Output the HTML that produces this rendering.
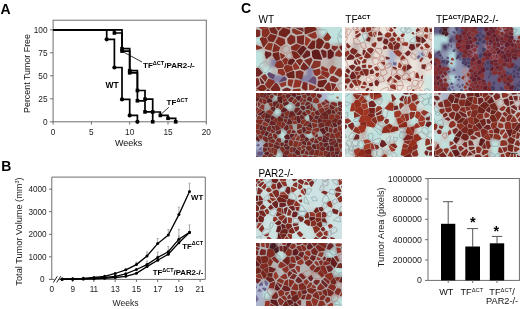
<!DOCTYPE html>
<html><head><meta charset="utf-8"><style>
html,body{margin:0;padding:0;background:#fff;}
body{width:520px;height:309px;overflow:hidden;position:relative;font-family:"Liberation Sans", sans-serif;}
svg{position:absolute;left:0;top:0;}
#main{will-change:transform;}
.im{position:absolute;overflow:hidden;}
</style></head><body>
<div class="im" style="left:256px;top:26.7px;width:86.4px;height:64.0px"><svg width="86.4" height="64.0" viewBox="0 0 86.4 64.0" style="position:absolute;left:0;top:0"><defs><filter id="bl0" x="-20%" y="-20%" width="140%" height="140%"><feGaussianBlur stdDeviation="1.8"/></filter><filter id="cb0" x="-5%" y="-5%" width="110%" height="110%"><feGaussianBlur stdDeviation="0.75"/></filter></defs><g filter="url(#bl0)"><rect x="-12.0" y="-12.0" width="12.0" height="12.0" fill="#bebebc"/><rect x="0.0" y="-12.0" width="7.8" height="12.0" fill="#bebebc"/><rect x="7.2" y="-12.0" width="7.8" height="12.0" fill="#b6a5a0"/><rect x="14.4" y="-12.0" width="7.8" height="12.0" fill="#b6a5a0"/><rect x="21.6" y="-12.0" width="7.8" height="12.0" fill="#b6a5a0"/><rect x="28.8" y="-12.0" width="7.8" height="12.0" fill="#b6a5a0"/><rect x="36.0" y="-12.0" width="7.8" height="12.0" fill="#bebebc"/><rect x="43.2" y="-12.0" width="7.8" height="12.0" fill="#bebebc"/><rect x="50.4" y="-12.0" width="7.8" height="12.0" fill="#b6a5a0"/><rect x="57.6" y="-12.0" width="7.8" height="12.0" fill="#c3b6b2"/><rect x="64.8" y="-12.0" width="7.8" height="12.0" fill="#c0e2de"/><rect x="72.0" y="-12.0" width="7.8" height="12.0" fill="#c0e2de"/><rect x="79.2" y="-12.0" width="7.8" height="12.0" fill="#c0e2de"/><rect x="86.4" y="-12.0" width="12.0" height="12.0" fill="#c0e2de"/><rect x="-12.0" y="0.0" width="12.0" height="8.6" fill="#bebebc"/><rect x="0.0" y="0.0" width="7.8" height="8.6" fill="#bebebc"/><rect x="7.2" y="0.0" width="7.8" height="8.6" fill="#b6a5a0"/><rect x="14.4" y="0.0" width="7.8" height="8.6" fill="#b6a5a0"/><rect x="21.6" y="0.0" width="7.8" height="8.6" fill="#b6a5a0"/><rect x="28.8" y="0.0" width="7.8" height="8.6" fill="#b6a5a0"/><rect x="36.0" y="0.0" width="7.8" height="8.6" fill="#bebebc"/><rect x="43.2" y="0.0" width="7.8" height="8.6" fill="#bebebc"/><rect x="50.4" y="0.0" width="7.8" height="8.6" fill="#b6a5a0"/><rect x="57.6" y="0.0" width="7.8" height="8.6" fill="#c3b6b2"/><rect x="64.8" y="0.0" width="7.8" height="8.6" fill="#c0e2de"/><rect x="72.0" y="0.0" width="7.8" height="8.6" fill="#c0e2de"/><rect x="79.2" y="0.0" width="7.8" height="8.6" fill="#c0e2de"/><rect x="86.4" y="0.0" width="12.0" height="8.6" fill="#c0e2de"/><rect x="-12.0" y="8.0" width="12.0" height="8.6" fill="#c0e2de"/><rect x="0.0" y="8.0" width="7.8" height="8.6" fill="#c0e2de"/><rect x="7.2" y="8.0" width="7.8" height="8.6" fill="#b6a5a0"/><rect x="14.4" y="8.0" width="7.8" height="8.6" fill="#b6a5a0"/><rect x="21.6" y="8.0" width="7.8" height="8.6" fill="#b6a5a0"/><rect x="28.8" y="8.0" width="7.8" height="8.6" fill="#c3b6b2"/><rect x="36.0" y="8.0" width="7.8" height="8.6" fill="#b6a5a0"/><rect x="43.2" y="8.0" width="7.8" height="8.6" fill="#c3b6b2"/><rect x="50.4" y="8.0" width="7.8" height="8.6" fill="#c3b6b2"/><rect x="57.6" y="8.0" width="7.8" height="8.6" fill="#b6a5a0"/><rect x="64.8" y="8.0" width="7.8" height="8.6" fill="#bebebc"/><rect x="72.0" y="8.0" width="7.8" height="8.6" fill="#c0e2de"/><rect x="79.2" y="8.0" width="7.8" height="8.6" fill="#c0e2de"/><rect x="86.4" y="8.0" width="12.0" height="8.6" fill="#c0e2de"/><rect x="-12.0" y="16.0" width="12.0" height="8.6" fill="#bebebc"/><rect x="0.0" y="16.0" width="7.8" height="8.6" fill="#bebebc"/><rect x="7.2" y="16.0" width="7.8" height="8.6" fill="#c3b6b2"/><rect x="14.4" y="16.0" width="7.8" height="8.6" fill="#b6a5a0"/><rect x="21.6" y="16.0" width="7.8" height="8.6" fill="#b6a5a0"/><rect x="28.8" y="16.0" width="7.8" height="8.6" fill="#bebebc"/><rect x="36.0" y="16.0" width="7.8" height="8.6" fill="#b6a5a0"/><rect x="43.2" y="16.0" width="7.8" height="8.6" fill="#b6a5a0"/><rect x="50.4" y="16.0" width="7.8" height="8.6" fill="#b6a5a0"/><rect x="57.6" y="16.0" width="7.8" height="8.6" fill="#b6a5a0"/><rect x="64.8" y="16.0" width="7.8" height="8.6" fill="#c3b6b2"/><rect x="72.0" y="16.0" width="7.8" height="8.6" fill="#bebebc"/><rect x="79.2" y="16.0" width="7.8" height="8.6" fill="#b6a5a0"/><rect x="86.4" y="16.0" width="12.0" height="8.6" fill="#b6a5a0"/><rect x="-12.0" y="24.0" width="12.0" height="8.6" fill="#c0e2de"/><rect x="0.0" y="24.0" width="7.8" height="8.6" fill="#c0e2de"/><rect x="7.2" y="24.0" width="7.8" height="8.6" fill="#c3b6b2"/><rect x="14.4" y="24.0" width="7.8" height="8.6" fill="#b6a5a0"/><rect x="21.6" y="24.0" width="7.8" height="8.6" fill="#c3b6b2"/><rect x="28.8" y="24.0" width="7.8" height="8.6" fill="#bebebc"/><rect x="36.0" y="24.0" width="7.8" height="8.6" fill="#b6a5a0"/><rect x="43.2" y="24.0" width="7.8" height="8.6" fill="#b6a5a0"/><rect x="50.4" y="24.0" width="7.8" height="8.6" fill="#c3b6b2"/><rect x="57.6" y="24.0" width="7.8" height="8.6" fill="#b6a5a0"/><rect x="64.8" y="24.0" width="7.8" height="8.6" fill="#c3b6b2"/><rect x="72.0" y="24.0" width="7.8" height="8.6" fill="#b6a5a0"/><rect x="79.2" y="24.0" width="7.8" height="8.6" fill="#bebebc"/><rect x="86.4" y="24.0" width="12.0" height="8.6" fill="#bebebc"/><rect x="-12.0" y="32.0" width="12.0" height="8.6" fill="#c0e2de"/><rect x="0.0" y="32.0" width="7.8" height="8.6" fill="#c0e2de"/><rect x="7.2" y="32.0" width="7.8" height="8.6" fill="#bebebc"/><rect x="14.4" y="32.0" width="7.8" height="8.6" fill="#8782a5"/><rect x="21.6" y="32.0" width="7.8" height="8.6" fill="#b6a5a0"/><rect x="28.8" y="32.0" width="7.8" height="8.6" fill="#b6a5a0"/><rect x="36.0" y="32.0" width="7.8" height="8.6" fill="#c3b6b2"/><rect x="43.2" y="32.0" width="7.8" height="8.6" fill="#c3b6b2"/><rect x="50.4" y="32.0" width="7.8" height="8.6" fill="#bebebc"/><rect x="57.6" y="32.0" width="7.8" height="8.6" fill="#bebebc"/><rect x="64.8" y="32.0" width="7.8" height="8.6" fill="#c3b6b2"/><rect x="72.0" y="32.0" width="7.8" height="8.6" fill="#b6a5a0"/><rect x="79.2" y="32.0" width="7.8" height="8.6" fill="#bebebc"/><rect x="86.4" y="32.0" width="12.0" height="8.6" fill="#bebebc"/><rect x="-12.0" y="40.0" width="12.0" height="8.6" fill="#bebebc"/><rect x="0.0" y="40.0" width="7.8" height="8.6" fill="#bebebc"/><rect x="7.2" y="40.0" width="7.8" height="8.6" fill="#c0e2de"/><rect x="14.4" y="40.0" width="7.8" height="8.6" fill="#bebebc"/><rect x="21.6" y="40.0" width="7.8" height="8.6" fill="#c3b6b2"/><rect x="28.8" y="40.0" width="7.8" height="8.6" fill="#b6a5a0"/><rect x="36.0" y="40.0" width="7.8" height="8.6" fill="#c3b6b2"/><rect x="43.2" y="40.0" width="7.8" height="8.6" fill="#c3b6b2"/><rect x="50.4" y="40.0" width="7.8" height="8.6" fill="#8782a5"/><rect x="57.6" y="40.0" width="7.8" height="8.6" fill="#c3b6b2"/><rect x="64.8" y="40.0" width="7.8" height="8.6" fill="#b6a5a0"/><rect x="72.0" y="40.0" width="7.8" height="8.6" fill="#c3b6b2"/><rect x="79.2" y="40.0" width="7.8" height="8.6" fill="#bebebc"/><rect x="86.4" y="40.0" width="12.0" height="8.6" fill="#bebebc"/><rect x="-12.0" y="48.0" width="12.0" height="8.6" fill="#c3b6b2"/><rect x="0.0" y="48.0" width="7.8" height="8.6" fill="#c3b6b2"/><rect x="7.2" y="48.0" width="7.8" height="8.6" fill="#bebebc"/><rect x="14.4" y="48.0" width="7.8" height="8.6" fill="#8782a5"/><rect x="21.6" y="48.0" width="7.8" height="8.6" fill="#8782a5"/><rect x="28.8" y="48.0" width="7.8" height="8.6" fill="#c3b6b2"/><rect x="36.0" y="48.0" width="7.8" height="8.6" fill="#b6a5a0"/><rect x="43.2" y="48.0" width="7.8" height="8.6" fill="#8782a5"/><rect x="50.4" y="48.0" width="7.8" height="8.6" fill="#8782a5"/><rect x="57.6" y="48.0" width="7.8" height="8.6" fill="#c3b6b2"/><rect x="64.8" y="48.0" width="7.8" height="8.6" fill="#bebebc"/><rect x="72.0" y="48.0" width="7.8" height="8.6" fill="#bebebc"/><rect x="79.2" y="48.0" width="7.8" height="8.6" fill="#bebebc"/><rect x="86.4" y="48.0" width="12.0" height="8.6" fill="#bebebc"/><rect x="-12.0" y="56.0" width="12.0" height="8.6" fill="#b6a5a0"/><rect x="0.0" y="56.0" width="7.8" height="8.6" fill="#b6a5a0"/><rect x="7.2" y="56.0" width="7.8" height="8.6" fill="#b6a5a0"/><rect x="14.4" y="56.0" width="7.8" height="8.6" fill="#c3b6b2"/><rect x="21.6" y="56.0" width="7.8" height="8.6" fill="#bebebc"/><rect x="28.8" y="56.0" width="7.8" height="8.6" fill="#bebebc"/><rect x="36.0" y="56.0" width="7.8" height="8.6" fill="#c3b6b2"/><rect x="43.2" y="56.0" width="7.8" height="8.6" fill="#c3b6b2"/><rect x="50.4" y="56.0" width="7.8" height="8.6" fill="#c3b6b2"/><rect x="57.6" y="56.0" width="7.8" height="8.6" fill="#b6a5a0"/><rect x="64.8" y="56.0" width="7.8" height="8.6" fill="#b6a5a0"/><rect x="72.0" y="56.0" width="7.8" height="8.6" fill="#c3b6b2"/><rect x="79.2" y="56.0" width="7.8" height="8.6" fill="#bebebc"/><rect x="86.4" y="56.0" width="12.0" height="8.6" fill="#bebebc"/><rect x="-12.0" y="64.0" width="12.0" height="12.0" fill="#b6a5a0"/><rect x="0.0" y="64.0" width="7.8" height="12.0" fill="#b6a5a0"/><rect x="7.2" y="64.0" width="7.8" height="12.0" fill="#b6a5a0"/><rect x="14.4" y="64.0" width="7.8" height="12.0" fill="#c3b6b2"/><rect x="21.6" y="64.0" width="7.8" height="12.0" fill="#bebebc"/><rect x="28.8" y="64.0" width="7.8" height="12.0" fill="#bebebc"/><rect x="36.0" y="64.0" width="7.8" height="12.0" fill="#c3b6b2"/><rect x="43.2" y="64.0" width="7.8" height="12.0" fill="#c3b6b2"/><rect x="50.4" y="64.0" width="7.8" height="12.0" fill="#c3b6b2"/><rect x="57.6" y="64.0" width="7.8" height="12.0" fill="#b6a5a0"/><rect x="64.8" y="64.0" width="7.8" height="12.0" fill="#b6a5a0"/><rect x="72.0" y="64.0" width="7.8" height="12.0" fill="#c3b6b2"/><rect x="79.2" y="64.0" width="7.8" height="12.0" fill="#bebebc"/><rect x="86.4" y="64.0" width="12.0" height="12.0" fill="#bebebc"/></g><g filter="url(#cb0)" stroke-linejoin="round"><polygon points="14.7,39.9 9.6,34.5 4.6,36.7 3.2,39.7 8.2,45.7 9.9,45.9 12.1,43.6" fill="none" stroke="#8ca5aa" stroke-width="0.7"/><polygon points="30.2,18.3 26.1,21.0 25.0,24.0 29.8,26.2 33.4,23.6 33.6,23.0 32.9,20.4" fill="none" stroke="#b97870" stroke-width="0.7"/><polygon points="32.7,31.4 36.1,30.4 34.4,25.0 30.6,27.7 30.5,29.6" fill="none" stroke="#b97870" stroke-width="0.7"/><polygon points="70.9,4.4 70.9,4.3 69.7,2.7 61.5,2.8 61.2,3.7 62.9,9.8 66.0,11.0" fill="none" stroke="#8ca5aa" stroke-width="0.7"/><polygon points="86.6,0.9 87.4,1.3 87.4,-1.0 85.6,-1.0" fill="none" stroke="#8ca5aa" stroke-width="0.7"/><polygon points="82.0,8.0 86.9,9.1 87.4,8.6 87.4,2.4 86.2,1.9 82.0,7.4" fill="none" stroke="#8ca5aa" stroke-width="0.7"/><polygon points="86.3,10.5 82.2,9.7 81.4,10.5 83.6,17.6 87.4,15.7 87.4,13.2" fill="none" stroke="#8ca5aa" stroke-width="0.7"/><polygon points="84.8,55.8 81.9,57.7 81.8,58.9 85.4,64.3 87.4,62.9 87.4,58.0" fill="none" stroke="#b97870" stroke-width="0.7"/><polygon points="87.2,40.4 87.0,40.6 87.4,41.6 87.4,40.3" fill="none" stroke="#b97870" stroke-width="0.7"/><polygon points="-0.1,23.5 -1.0,22.2 -1.0,25.1" fill="#7b2b25"/><polygon points="-0.5,-0.2 2.7,0.2 3.1,-1.0 -1.0,-1.0" fill="#8d3328"/><polygon points="4.3,3.6 2.6,2.7 -0.5,2.4 -1.0,3.3 -1.0,10.2 2.7,10.0 4.4,8.8" fill="#7c2b25"/><polygon points="-1.0,17.4 -1.0,20.3 0.9,23.0 6.5,21.3 6.5,20.8 5.9,20.1" fill="#842f25"/><polygon points="2.6,49.4 3.4,48.9 7.0,46.1 2.4,40.6 -1.0,41.5 -1.0,49.4" fill="#712725"/><polygon points="11.7,51.0 9.7,47.4 8.2,47.2 4.9,49.8 9.2,55.0" fill="#7f2d25"/><polygon points="-0.2,60.2 4.0,57.1 2.3,51.3 -1.0,51.3 -1.0,58.7" fill="#7a2821"/><polygon points="10.8,61.6 8.3,58.1 5.1,58.1 0.5,61.5 0.4,61.8 5.7,65.0 7.0,65.0" fill="#7b281f"/><polygon points="-0.1,63.0 -1.0,64.0 -1.0,65.0 3.2,65.0" fill="#6e231e"/><polygon points="3.3,1.1 5.7,2.3 11.6,0.5 11.5,-1.0 4.0,-1.0" fill="#8c3024"/><polygon points="14.1,6.1 12.0,1.1 11.6,0.8 5.8,2.6 5.8,9.5 10.4,10.6" fill="#892f23"/><polygon points="7.7,20.6 12.0,14.9 10.3,11.1 5.8,10.1 3.6,11.6 7.0,19.8" fill="#7e2a20"/><polygon points="8.8,21.3 9.4,22.2 15.3,23.8 16.9,16.4 12.5,15.8 8.8,20.8" fill="#8b3024"/><polygon points="15.2,28.5 15.5,26.2 14.8,25.5 9.3,24.0 8.6,27.4 10.2,32.3" fill="#6b2221"/><polygon points="11.1,46.9 13.1,50.6 17.5,52.3 19.1,48.1 13.0,44.9" fill="#62466b"/><polygon points="8.4,55.8 4.3,50.8 3.6,51.3 5.2,56.8 7.9,56.8" fill="#692121"/><polygon points="13.3,62.8 11.7,62.3 8.6,65.0 14.8,65.0" fill="#621e1e"/><polygon points="12.1,0.0 12.5,0.3 18.2,-1.0 12.1,-1.0" fill="#78271f"/><polygon points="21.6,4.4 18.7,-0.0 13.0,1.3 14.9,5.7 21.0,7.8" fill="#73251e"/><polygon points="20.9,8.8 14.5,6.7 11.2,10.9 12.7,14.4 17.6,15.0 17.6,15.0 21.0,9.0" fill="#76261e"/><polygon points="18.2,16.5 18.2,16.5 16.4,24.2 17.2,25.0 22.7,24.2 22.9,24.1 24.2,20.6" fill="#802b21"/><polygon points="24.0,32.4 23.1,25.0 17.0,25.9 16.6,28.8 20.0,33.9" fill="#6f231e"/><polygon points="25.4,33.8 24.1,33.3 20.4,34.7 18.5,39.1 21.6,41.2 26.9,40.7 28.2,38.3" fill="#862d22"/><polygon points="13.6,61.8 19.1,55.0 17.9,53.4 12.6,51.4 9.6,56.2 8.9,57.5 11.7,61.3" fill="#872e23"/><polygon points="23.8,64.6 24.3,61.4 21.5,56.8 21.1,56.4 19.5,55.8 14.4,62.1 16.3,65.0 23.0,65.0" fill="#792821"/><polygon points="19.4,-0.7 22.4,3.8 26.4,-0.4 26.1,-1.0 19.5,-1.0" fill="#7e2a20"/><polygon points="29.5,10.6 34.1,5.7 33.9,2.7 27.1,0.4 23.1,4.7 22.5,8.1 22.6,8.3" fill="#70241e"/><polygon points="19.1,15.4 24.8,19.4 29.3,16.4 28.7,12.0 22.2,9.8" fill="#822b21"/><polygon points="28.9,27.9 24.1,25.7 24.0,25.8 24.7,31.7 25.8,32.0 28.7,29.7" fill="#852d23"/><polygon points="30.8,37.3 32.2,32.4 29.6,30.3 26.0,33.3 28.9,38.0" fill="#882e23"/><polygon points="27.1,41.7 21.9,42.2 21.8,46.3 26.9,48.8 29.0,48.1 29.3,46.1" fill="#913326"/><polygon points="27.2,50.1 22.7,54.9 23.0,55.3 30.3,53.6 30.9,51.7 29.1,49.5" fill="#5d4366"/><polygon points="25.5,60.5 30.1,58.5 30.3,54.6 22.9,56.4" fill="#923529"/><polygon points="30.9,60.4 26.7,62.2 26.3,64.8 26.6,65.0 34.2,65.0 34.7,62.4 34.5,62.1" fill="#742825"/><polygon points="35.5,-0.6 36.1,-1.0 35.3,-1.0" fill="#873026"/><polygon points="27.5,-0.6 34.1,1.6 34.6,0.8 33.9,-1.0 27.3,-1.0" fill="#7a281f"/><polygon points="37.3,1.6 36.5,2.1 36.1,2.9 36.3,5.6 40.4,7.8 46.8,6.8 46.6,5.4 38.6,1.7" fill="#863026"/><polygon points="39.3,15.5 39.1,9.7 35.0,7.5 31.1,11.8 31.6,15.9 34.4,18.0" fill="#7e2a21"/><polygon points="35.5,22.9 40.5,23.9 45.3,18.7 40.5,16.8 34.7,19.8" fill="#832c21"/><polygon points="35.9,38.1 38.8,34.2 39.0,33.2 36.7,31.4 32.8,32.6 31.5,37.3" fill="#641e1e"/><polygon points="37.4,43.0 35.8,38.7 31.1,37.9 29.1,38.6 27.7,41.1 30.0,46.0" fill="#872e23"/><polygon points="30.3,48.5 32.3,51.0 37.9,51.3 38.7,50.9 38.3,44.3 37.4,43.7 30.5,46.5" fill="#6a211e"/><polygon points="31.9,54.3 31.7,58.2 35.7,60.1 37.5,52.7 32.5,52.3" fill="#8c3025"/><polygon points="36.4,65.0 43.8,65.0 44.9,63.1 44.0,61.4 36.9,62.2" fill="#872e24"/><polygon points="37.2,0.2 38.6,0.2 46.6,0.2 46.0,-1.0 38.0,-1.0" fill="#722725"/><polygon points="39.2,1.0 47.7,4.9 47.4,1.4 46.9,0.9" fill="#762925"/><polygon points="48.4,8.4 48.1,8.1 40.9,9.2 41.2,15.9 45.8,17.7 47.7,17.8" fill="#772721"/><polygon points="45.9,18.9 41.0,24.3 44.9,28.9 50.6,21.6 50.2,21.0 48.0,18.9" fill="#641f1e"/><polygon points="35.4,24.5 37.3,30.6 39.6,32.3 44.0,30.3 44.1,29.2 40.5,24.8 35.6,23.9" fill="#78271f"/><polygon points="46.9,34.1 46.6,33.3 44.4,31.4 40.3,33.3 40.1,34.3 43.8,39.0" fill="#7b2921"/><polygon points="39.0,43.1 43.4,41.8 43.2,39.9 39.4,35.0 36.6,38.7 38.1,42.5" fill="#913326"/><polygon points="46.1,52.5 47.7,45.0 43.9,43.2 39.6,44.4 40.0,50.8" fill="#7b2921"/><polygon points="37.0,60.5 37.2,60.8 44.1,60.1 45.7,54.2 45.7,54.1 39.6,52.4 38.9,52.7" fill="#923326"/><polygon points="45.9,63.9 45.3,65.0 47.9,65.0" fill="#712521"/><polygon points="47.8,-0.1 48.3,0.3 50.1,-1.0 47.4,-1.0" fill="#923529"/><polygon points="48.6,5.3 48.8,7.1 49.2,7.4 49.3,7.4 60.3,3.3 60.6,2.3 60.3,1.3 57.1,-1.0 51.2,-1.0 48.3,1.2" fill="#73251e"/><polygon points="50.7,19.3 55.1,13.0 49.6,9.2 49.5,9.1 48.8,17.6" fill="#943427"/><polygon points="51.9,20.9 55.4,22.4 58.9,21.2 59.4,13.7 56.2,13.6 51.5,20.3" fill="#6d221e"/><polygon points="54.2,29.1 54.0,24.5 50.9,23.1 46.4,28.8 46.3,29.8 48.2,31.5" fill="#682121"/><polygon points="53.5,39.6 56.7,32.9 55.1,30.5 48.3,33.2 48.5,34.0" fill="#7a2b25"/><polygon points="48.5,43.8 52.8,41.3 52.8,40.6 47.7,34.9 44.6,40.0 44.7,41.9" fill="#752621"/><polygon points="51.5,56.3 50.5,55.5 47.2,54.9 45.7,60.4 46.4,61.9 49.7,63.7 51.4,63.0" fill="#792821"/><polygon points="53.2,56.7 53.1,63.1 56.8,63.1 60.0,60.5 59.3,59.2" fill="#8e3125"/><polygon points="60.2,0.1 60.8,-1.0 58.7,-1.0" fill="#892f24"/><polygon points="56.4,11.6 59.3,11.6 61.1,9.8 59.7,4.7 51.1,7.9" fill="#8c3125"/><polygon points="68.5,15.0 65.8,12.3 62.7,11.1 60.5,13.2 60.0,21.1 63.4,21.9 65.8,20.4" fill="#6e231e"/><polygon points="66.2,32.0 63.0,23.3 59.6,22.5 55.8,23.9 56.2,29.5 57.8,32.1 65.4,32.8" fill="#631e1e"/><polygon points="64.4,38.2 64.8,34.3 58.0,33.6 54.9,40.0 55.0,40.7 56.7,41.8 63.3,40.0" fill="#863026"/><polygon points="63.6,41.5 56.8,43.3 58.3,47.6 60.6,49.3 64.5,47.0 64.5,43.7" fill="#892f24"/><polygon points="62.0,52.6 70.4,51.5 70.4,51.3 65.2,48.1 61.6,50.3" fill="#903429"/><polygon points="57.6,49.0 52.0,54.2 53.1,55.1 60.0,57.9 60.5,53.2 60.0,50.8" fill="#6c4d76"/><polygon points="63.0,61.5 61.5,60.9 57.2,64.2 57.2,65.0 63.2,65.0" fill="#6b211e"/><polygon points="71.5,5.3 67.0,11.4 69.7,13.9 72.7,13.8 75.4,10.5" fill="#883127"/><polygon points="69.7,15.6 67.2,20.5 71.4,22.5 73.8,21.1 74.1,17.8 72.6,15.5" fill="#7c2921"/><polygon points="70.5,24.3 66.6,22.5 64.6,23.8 67.2,30.9 70.6,30.3" fill="#6d2321"/><polygon points="66.0,39.0 64.9,40.9 65.8,43.2 72.2,44.8 72.0,41.9" fill="#8b2f24"/><polygon points="65.4,43.6 65.4,47.4 71.7,51.3 73.8,47.9 72.8,45.4" fill="#882e23"/><polygon points="62.3,59.8 63.7,60.3 67.1,60.0 71.0,54.7 70.6,52.6 62.0,53.7 61.5,58.3" fill="#6e231e"/><polygon points="79.8,58.7 79.9,57.1 75.0,56.0 76.6,64.3" fill="#792821"/><polygon points="67.4,61.7 63.7,62.0 63.8,65.0 70.6,65.0" fill="#6f231e"/><polygon points="75.6,21.5 78.3,24.2 81.9,21.0 82.0,19.6 75.9,18.4" fill="#7e2c25"/><polygon points="77.5,29.6 78.0,25.5 74.6,22.1 71.6,23.7 71.7,31.4 74.3,31.9" fill="#631e1e"/><polygon points="73.5,44.9 74.4,47.1 77.0,46.6 80.8,40.8 76.3,38.3 73.3,42.0" fill="#933327"/><polygon points="82.6,53.6 82.6,51.9 77.3,48.7 75.2,49.2 73.6,51.7 73.6,51.9 73.8,53.7 75.5,54.4 79.7,55.4" fill="#812d25"/><polygon points="75.9,64.6 74.2,56.1 72.2,55.3 68.2,60.8 72.3,65.0 75.7,65.0" fill="#7e2a21"/><polygon points="80.3,59.5 77.1,65.0 84.0,65.0" fill="#96372a"/><polygon points="83.7,19.3 83.7,19.3 83.6,21.0 87.4,25.7 87.4,17.5" fill="#68201e"/><polygon points="84.3,30.0 87.0,27.6 83.0,22.6 79.5,25.8 79.2,29.0" fill="#8a3127"/><polygon points="86.3,32.0 86.8,38.1 87.4,37.9 87.4,31.0" fill="#832e25"/><polygon points="85.0,41.2 81.8,41.5 78.2,47.0 84.3,50.6 87.0,46.8" fill="#8b3227"/></g></svg></div>
<div class="im" style="left:345px;top:26.7px;width:86.6px;height:64.0px"><svg width="86.6" height="64.0" viewBox="0 0 86.6 64.0" style="position:absolute;left:0;top:0"><defs><filter id="bl1" x="-20%" y="-20%" width="140%" height="140%"><feGaussianBlur stdDeviation="1.8"/></filter><filter id="cb1" x="-5%" y="-5%" width="110%" height="110%"><feGaussianBlur stdDeviation="0.75"/></filter></defs><g filter="url(#bl1)"><rect x="-12.0" y="-12.0" width="12.0" height="12.0" fill="#eae4dc"/><rect x="0.0" y="-12.0" width="7.8" height="12.0" fill="#eae4dc"/><rect x="7.2" y="-12.0" width="7.8" height="12.0" fill="#ded4cd"/><rect x="14.4" y="-12.0" width="7.8" height="12.0" fill="#ded4cd"/><rect x="21.6" y="-12.0" width="7.8" height="12.0" fill="#c3b6b2"/><rect x="28.9" y="-12.0" width="7.8" height="12.0" fill="#ded4cd"/><rect x="36.1" y="-12.0" width="7.8" height="12.0" fill="#eae4dc"/><rect x="43.3" y="-12.0" width="7.8" height="12.0" fill="#ded4cd"/><rect x="50.5" y="-12.0" width="7.8" height="12.0" fill="#d4e6e2"/><rect x="57.7" y="-12.0" width="7.8" height="12.0" fill="#d4e6e2"/><rect x="64.9" y="-12.0" width="7.8" height="12.0" fill="#d4e6e2"/><rect x="72.2" y="-12.0" width="7.8" height="12.0" fill="#ded4cd"/><rect x="79.4" y="-12.0" width="7.8" height="12.0" fill="#ded4cd"/><rect x="86.6" y="-12.0" width="12.0" height="12.0" fill="#ded4cd"/><rect x="-12.0" y="0.0" width="12.0" height="8.6" fill="#eae4dc"/><rect x="0.0" y="0.0" width="7.8" height="8.6" fill="#eae4dc"/><rect x="7.2" y="0.0" width="7.8" height="8.6" fill="#ded4cd"/><rect x="14.4" y="0.0" width="7.8" height="8.6" fill="#ded4cd"/><rect x="21.6" y="0.0" width="7.8" height="8.6" fill="#c3b6b2"/><rect x="28.9" y="0.0" width="7.8" height="8.6" fill="#ded4cd"/><rect x="36.1" y="0.0" width="7.8" height="8.6" fill="#eae4dc"/><rect x="43.3" y="0.0" width="7.8" height="8.6" fill="#ded4cd"/><rect x="50.5" y="0.0" width="7.8" height="8.6" fill="#d4e6e2"/><rect x="57.7" y="0.0" width="7.8" height="8.6" fill="#d4e6e2"/><rect x="64.9" y="0.0" width="7.8" height="8.6" fill="#d4e6e2"/><rect x="72.2" y="0.0" width="7.8" height="8.6" fill="#ded4cd"/><rect x="79.4" y="0.0" width="7.8" height="8.6" fill="#ded4cd"/><rect x="86.6" y="0.0" width="12.0" height="8.6" fill="#ded4cd"/><rect x="-12.0" y="8.0" width="12.0" height="8.6" fill="#eae4dc"/><rect x="0.0" y="8.0" width="7.8" height="8.6" fill="#eae4dc"/><rect x="7.2" y="8.0" width="7.8" height="8.6" fill="#ded4cd"/><rect x="14.4" y="8.0" width="7.8" height="8.6" fill="#d4e6e2"/><rect x="21.6" y="8.0" width="7.8" height="8.6" fill="#c3b6b2"/><rect x="28.9" y="8.0" width="7.8" height="8.6" fill="#ded4cd"/><rect x="36.1" y="8.0" width="7.8" height="8.6" fill="#c3b6b2"/><rect x="43.3" y="8.0" width="7.8" height="8.6" fill="#c3b6b2"/><rect x="50.5" y="8.0" width="7.8" height="8.6" fill="#ded4cd"/><rect x="57.7" y="8.0" width="7.8" height="8.6" fill="#d4e6e2"/><rect x="64.9" y="8.0" width="7.8" height="8.6" fill="#d4e6e2"/><rect x="72.2" y="8.0" width="7.8" height="8.6" fill="#c3b6b2"/><rect x="79.4" y="8.0" width="7.8" height="8.6" fill="#ded4cd"/><rect x="86.6" y="8.0" width="12.0" height="8.6" fill="#ded4cd"/><rect x="-12.0" y="16.0" width="12.0" height="8.6" fill="#ded4cd"/><rect x="0.0" y="16.0" width="7.8" height="8.6" fill="#ded4cd"/><rect x="7.2" y="16.0" width="7.8" height="8.6" fill="#c3b6b2"/><rect x="14.4" y="16.0" width="7.8" height="8.6" fill="#ded4cd"/><rect x="21.6" y="16.0" width="7.8" height="8.6" fill="#ded4cd"/><rect x="28.9" y="16.0" width="7.8" height="8.6" fill="#ded4cd"/><rect x="36.1" y="16.0" width="7.8" height="8.6" fill="#ded4cd"/><rect x="43.3" y="16.0" width="7.8" height="8.6" fill="#c3b6b2"/><rect x="50.5" y="16.0" width="7.8" height="8.6" fill="#c3b6b2"/><rect x="57.7" y="16.0" width="7.8" height="8.6" fill="#ded4cd"/><rect x="64.9" y="16.0" width="7.8" height="8.6" fill="#c3b6b2"/><rect x="72.2" y="16.0" width="7.8" height="8.6" fill="#ded4cd"/><rect x="79.4" y="16.0" width="7.8" height="8.6" fill="#ded4cd"/><rect x="86.6" y="16.0" width="12.0" height="8.6" fill="#ded4cd"/><rect x="-12.0" y="24.0" width="12.0" height="8.6" fill="#c3b6b2"/><rect x="0.0" y="24.0" width="7.8" height="8.6" fill="#c3b6b2"/><rect x="7.2" y="24.0" width="7.8" height="8.6" fill="#c3b6b2"/><rect x="14.4" y="24.0" width="7.8" height="8.6" fill="#ded4cd"/><rect x="21.6" y="24.0" width="7.8" height="8.6" fill="#c3b6b2"/><rect x="28.9" y="24.0" width="7.8" height="8.6" fill="#eae4dc"/><rect x="36.1" y="24.0" width="7.8" height="8.6" fill="#ded4cd"/><rect x="43.3" y="24.0" width="7.8" height="8.6" fill="#acb6cd"/><rect x="50.5" y="24.0" width="7.8" height="8.6" fill="#c3b6b2"/><rect x="57.7" y="24.0" width="7.8" height="8.6" fill="#ded4cd"/><rect x="64.9" y="24.0" width="7.8" height="8.6" fill="#ded4cd"/><rect x="72.2" y="24.0" width="7.8" height="8.6" fill="#acb6cd"/><rect x="79.4" y="24.0" width="7.8" height="8.6" fill="#ded4cd"/><rect x="86.6" y="24.0" width="12.0" height="8.6" fill="#ded4cd"/><rect x="-12.0" y="32.0" width="12.0" height="8.6" fill="#eae4dc"/><rect x="0.0" y="32.0" width="7.8" height="8.6" fill="#eae4dc"/><rect x="7.2" y="32.0" width="7.8" height="8.6" fill="#ded4cd"/><rect x="14.4" y="32.0" width="7.8" height="8.6" fill="#ded4cd"/><rect x="21.6" y="32.0" width="7.8" height="8.6" fill="#ded4cd"/><rect x="28.9" y="32.0" width="7.8" height="8.6" fill="#eae4dc"/><rect x="36.1" y="32.0" width="7.8" height="8.6" fill="#ded4cd"/><rect x="43.3" y="32.0" width="7.8" height="8.6" fill="#acb6cd"/><rect x="50.5" y="32.0" width="7.8" height="8.6" fill="#ded4cd"/><rect x="57.7" y="32.0" width="7.8" height="8.6" fill="#ded4cd"/><rect x="64.9" y="32.0" width="7.8" height="8.6" fill="#eae4dc"/><rect x="72.2" y="32.0" width="7.8" height="8.6" fill="#ded4cd"/><rect x="79.4" y="32.0" width="7.8" height="8.6" fill="#ded4cd"/><rect x="86.6" y="32.0" width="12.0" height="8.6" fill="#ded4cd"/><rect x="-12.0" y="40.0" width="12.0" height="8.6" fill="#ded4cd"/><rect x="0.0" y="40.0" width="7.8" height="8.6" fill="#ded4cd"/><rect x="7.2" y="40.0" width="7.8" height="8.6" fill="#c3b6b2"/><rect x="14.4" y="40.0" width="7.8" height="8.6" fill="#c3b6b2"/><rect x="21.6" y="40.0" width="7.8" height="8.6" fill="#ded4cd"/><rect x="28.9" y="40.0" width="7.8" height="8.6" fill="#ded4cd"/><rect x="36.1" y="40.0" width="7.8" height="8.6" fill="#ded4cd"/><rect x="43.3" y="40.0" width="7.8" height="8.6" fill="#ded4cd"/><rect x="50.5" y="40.0" width="7.8" height="8.6" fill="#ded4cd"/><rect x="57.7" y="40.0" width="7.8" height="8.6" fill="#c3b6b2"/><rect x="64.9" y="40.0" width="7.8" height="8.6" fill="#eae4dc"/><rect x="72.2" y="40.0" width="7.8" height="8.6" fill="#ded4cd"/><rect x="79.4" y="40.0" width="7.8" height="8.6" fill="#eae4dc"/><rect x="86.6" y="40.0" width="12.0" height="8.6" fill="#eae4dc"/><rect x="-12.0" y="48.0" width="12.0" height="8.6" fill="#c3b6b2"/><rect x="0.0" y="48.0" width="7.8" height="8.6" fill="#c3b6b2"/><rect x="7.2" y="48.0" width="7.8" height="8.6" fill="#c3b6b2"/><rect x="14.4" y="48.0" width="7.8" height="8.6" fill="#ded4cd"/><rect x="21.6" y="48.0" width="7.8" height="8.6" fill="#eae4dc"/><rect x="28.9" y="48.0" width="7.8" height="8.6" fill="#ded4cd"/><rect x="36.1" y="48.0" width="7.8" height="8.6" fill="#ded4cd"/><rect x="43.3" y="48.0" width="7.8" height="8.6" fill="#ded4cd"/><rect x="50.5" y="48.0" width="7.8" height="8.6" fill="#ded4cd"/><rect x="57.7" y="48.0" width="7.8" height="8.6" fill="#ded4cd"/><rect x="64.9" y="48.0" width="7.8" height="8.6" fill="#eae4dc"/><rect x="72.2" y="48.0" width="7.8" height="8.6" fill="#ded4cd"/><rect x="79.4" y="48.0" width="7.8" height="8.6" fill="#d4e6e2"/><rect x="86.6" y="48.0" width="12.0" height="8.6" fill="#d4e6e2"/><rect x="-12.0" y="56.0" width="12.0" height="8.6" fill="#ded4cd"/><rect x="0.0" y="56.0" width="7.8" height="8.6" fill="#ded4cd"/><rect x="7.2" y="56.0" width="7.8" height="8.6" fill="#eae4dc"/><rect x="14.4" y="56.0" width="7.8" height="8.6" fill="#ded4cd"/><rect x="21.6" y="56.0" width="7.8" height="8.6" fill="#ded4cd"/><rect x="28.9" y="56.0" width="7.8" height="8.6" fill="#eae4dc"/><rect x="36.1" y="56.0" width="7.8" height="8.6" fill="#eae4dc"/><rect x="43.3" y="56.0" width="7.8" height="8.6" fill="#ded4cd"/><rect x="50.5" y="56.0" width="7.8" height="8.6" fill="#eae4dc"/><rect x="57.7" y="56.0" width="7.8" height="8.6" fill="#eae4dc"/><rect x="64.9" y="56.0" width="7.8" height="8.6" fill="#ded4cd"/><rect x="72.2" y="56.0" width="7.8" height="8.6" fill="#eae4dc"/><rect x="79.4" y="56.0" width="7.8" height="8.6" fill="#d4e6e2"/><rect x="86.6" y="56.0" width="12.0" height="8.6" fill="#d4e6e2"/><rect x="-12.0" y="64.0" width="12.0" height="12.0" fill="#ded4cd"/><rect x="0.0" y="64.0" width="7.8" height="12.0" fill="#ded4cd"/><rect x="7.2" y="64.0" width="7.8" height="12.0" fill="#eae4dc"/><rect x="14.4" y="64.0" width="7.8" height="12.0" fill="#ded4cd"/><rect x="21.6" y="64.0" width="7.8" height="12.0" fill="#ded4cd"/><rect x="28.9" y="64.0" width="7.8" height="12.0" fill="#eae4dc"/><rect x="36.1" y="64.0" width="7.8" height="12.0" fill="#eae4dc"/><rect x="43.3" y="64.0" width="7.8" height="12.0" fill="#ded4cd"/><rect x="50.5" y="64.0" width="7.8" height="12.0" fill="#eae4dc"/><rect x="57.7" y="64.0" width="7.8" height="12.0" fill="#eae4dc"/><rect x="64.9" y="64.0" width="7.8" height="12.0" fill="#ded4cd"/><rect x="72.2" y="64.0" width="7.8" height="12.0" fill="#eae4dc"/><rect x="79.4" y="64.0" width="7.8" height="12.0" fill="#d4e6e2"/><rect x="86.6" y="64.0" width="12.0" height="12.0" fill="#d4e6e2"/></g><g filter="url(#cb1)" stroke-linejoin="round"><polygon points="0.8,6.2 1.1,1.3 -0.0,0.7 -1.0,1.2 -1.0,5.4" fill="none" stroke="#c88c82" stroke-width="0.7"/><polygon points="-1.0,10.2 -1.0,15.1 0.1,15.1 1.3,13.7 2.6,10.3" fill="none" stroke="#c88c82" stroke-width="0.7"/><polygon points="1.9,22.6 0.0,21.1 -1.0,21.3 -1.0,25.0" fill="none" stroke="#b97870" stroke-width="0.7"/><polygon points="1.9,6.5 3.1,8.8 6.4,3.5 6.1,2.9 2.4,1.6 2.2,1.6" fill="none" stroke="#c88c82" stroke-width="0.7"/><polygon points="1.8,9.6 1.8,9.6 1.8,9.5 0.7,7.3 -1.0,6.6 -1.0,9.5" fill="none" stroke="#c88c82" stroke-width="0.7"/><polygon points="-0.1,41.2 2.8,39.7 3.1,38.4 1.2,33.7 1.0,33.4 -1.0,34.3 -1.0,40.8" fill="none" stroke="#c88c82" stroke-width="0.7"/><polygon points="5.6,63.2 3.5,61.8 0.1,64.5 0.1,65.0 5.6,65.0" fill="none" stroke="#b97870" stroke-width="0.7"/><polygon points="9.3,17.0 14.8,17.1 15.4,15.5 12.6,11.8 9.2,11.3 8.4,11.6" fill="none" stroke="#b97870" stroke-width="0.7"/><polygon points="7.8,62.7 6.8,63.1 6.8,65.0 12.6,65.0" fill="none" stroke="#c88c82" stroke-width="0.7"/><polygon points="7.8,1.8 8.0,2.4 9.6,3.0 12.0,2.1 11.5,-1.0 9.1,-1.0" fill="none" stroke="#b97870" stroke-width="0.7"/><polygon points="13.1,64.4 14.1,61.4 13.7,60.1 13.2,59.9 10.6,59.7 8.6,62.2" fill="none" stroke="#c88c82" stroke-width="0.7"/><polygon points="13.0,2.5 14.6,3.6 18.0,-1.0 12.5,-1.0" fill="none" stroke="#b97870" stroke-width="0.7"/><polygon points="20.0,13.3 22.9,8.9 21.8,6.1 21.4,5.9 17.5,6.9 17.2,7.9 19.2,13.4 19.8,13.4" fill="none" stroke="#8ca5aa" stroke-width="0.7"/><polygon points="19.5,14.8 19.0,14.7 16.3,16.1 15.7,17.5 16.6,20.6 17.8,21.2 20.4,21.4 21.4,20.4" fill="none" stroke="#b97870" stroke-width="0.7"/><polygon points="27.2,53.8 23.0,49.7 21.7,50.4 20.9,52.9 22.7,55.3" fill="none" stroke="#c88c82" stroke-width="0.7"/><polygon points="32.0,4.3 34.2,2.4 34.1,0.2 33.0,-1.0 32.9,-1.0 27.2,2.9 27.1,3.3 27.8,3.7 28.5,4.0" fill="none" stroke="#b97870" stroke-width="0.7"/><polygon points="35.5,27.7 36.2,27.3 37.1,23.4 36.2,21.8 31.6,21.2 30.5,22.1 30.5,23.5" fill="none" stroke="#b97870" stroke-width="0.7"/><polygon points="26.9,30.0 33.5,30.9 34.9,28.3 29.9,24.2 26.9,28.2" fill="none" stroke="#c88c82" stroke-width="0.7"/><polygon points="26.9,31.4 28.5,36.9 29.1,37.6 31.7,37.1 33.6,34.8 33.7,34.5 33.2,32.0 27.0,31.2" fill="none" stroke="#c88c82" stroke-width="0.7"/><polygon points="28.2,53.4 30.6,51.3 28.5,48.3 24.4,48.4 23.7,49.2 28.1,53.4" fill="none" stroke="#c88c82" stroke-width="0.7"/><polygon points="37.6,-1.0 34.1,-1.0 34.7,-0.3" fill="none" stroke="#c88c82" stroke-width="0.7"/><polygon points="34.7,31.5 35.1,33.9 39.6,33.4 39.8,33.2 38.7,29.2 36.7,28.7 36.0,29.0" fill="none" stroke="#b97870" stroke-width="0.7"/><polygon points="39.9,41.8 39.5,39.4 34.6,35.3 32.4,38.0 35.9,43.1" fill="none" stroke="#b97870" stroke-width="0.7"/><polygon points="42.3,46.2 40.6,42.7 40.0,42.4 36.2,43.7 35.5,44.7 35.9,47.8 38.2,49.0" fill="none" stroke="#b97870" stroke-width="0.7"/><polygon points="35.6,48.4 32.7,51.6 35.6,55.1 37.3,54.8 39.5,54.0 37.9,49.7" fill="none" stroke="#b97870" stroke-width="0.7"/><polygon points="42.1,3.7 42.9,3.6 45.2,-1.0 40.4,-1.0" fill="none" stroke="#c88c82" stroke-width="0.7"/><polygon points="45.5,39.6 46.0,38.6 46.0,36.2 41.4,37.4 40.5,39.3 40.8,41.4 41.3,41.6" fill="none" stroke="#b97870" stroke-width="0.7"/><polygon points="44.0,57.8 47.2,56.2 47.5,51.1 42.9,56.4" fill="none" stroke="#b97870" stroke-width="0.7"/><polygon points="43.7,62.0 43.0,60.2 39.0,61.3 35.3,63.6 36.4,65.0 42.2,65.0" fill="none" stroke="#c88c82" stroke-width="0.7"/><polygon points="45.1,62.9 44.0,65.0 49.3,65.0 49.7,64.4" fill="none" stroke="#b97870" stroke-width="0.7"/><polygon points="51.3,46.1 51.7,44.0 47.2,41.7 46.4,48.0 47.6,48.4" fill="none" stroke="#b97870" stroke-width="0.7"/><polygon points="60.4,3.7 59.3,-1.0 58.1,-1.0 55.2,2.8 57.0,5.0 59.9,5.3" fill="none" stroke="#8ca5aa" stroke-width="0.7"/><polygon points="58.4,11.2 56.0,11.2 55.4,15.8 59.1,14.2" fill="none" stroke="#b97870" stroke-width="0.7"/><polygon points="61.5,37.6 63.4,36.6 61.8,32.1 55.6,34.6 58.5,37.7" fill="none" stroke="#b97870" stroke-width="0.7"/><polygon points="56.1,42.2 53.3,42.5 52.2,44.1 51.8,46.1 57.0,49.5 59.7,45.8" fill="none" stroke="#b97870" stroke-width="0.7"/><polygon points="58.4,58.4 56.5,53.6 53.7,54.5 51.7,57.0 51.9,58.4" fill="none" stroke="#c88c82" stroke-width="0.7"/><polygon points="55.7,63.2 58.5,59.5 58.2,58.8 52.0,58.7 52.4,63.2 52.5,63.2" fill="none" stroke="#c88c82" stroke-width="0.7"/><polygon points="61.2,2.8 64.4,0.1 64.5,-1.0 60.3,-1.0" fill="none" stroke="#8ca5aa" stroke-width="0.7"/><polygon points="66.4,3.5 64.8,1.0 61.5,3.9 61.0,5.3 61.7,6.1 64.0,5.7" fill="none" stroke="#8ca5aa" stroke-width="0.7"/><polygon points="64.3,49.5 63.5,47.4 60.3,46.0 60.1,46.1 57.3,49.8 57.4,52.3 59.9,52.5" fill="none" stroke="#b97870" stroke-width="0.7"/><polygon points="64.9,14.6 65.4,15.6 69.3,15.9 70.6,15.1 69.7,10.1 69.0,10.3 65.1,13.4" fill="none" stroke="#8ca5aa" stroke-width="0.7"/><polygon points="68.7,32.3 71.1,32.2 71.0,28.4 67.2,25.9 65.6,28.9" fill="none" stroke="#b97870" stroke-width="0.7"/><polygon points="64.8,49.4 67.7,52.1 68.9,51.5 69.6,44.5 69.1,44.2 64.1,47.3" fill="none" stroke="#c88c82" stroke-width="0.7"/><polygon points="71.7,58.9 73.6,53.9 69.4,53.1 68.4,53.6 67.1,55.9 67.0,57.7 68.3,59.0 70.1,59.5" fill="none" stroke="#b97870" stroke-width="0.7"/><polygon points="66.3,61.8 67.1,60.2 65.6,58.7 62.4,59.8 62.6,63.6" fill="none" stroke="#c88c82" stroke-width="0.7"/><polygon points="75.8,9.6 77.0,8.7 78.8,6.1 77.3,3.8 76.9,3.7 71.3,6.5 71.2,8.4" fill="none" stroke="#b97870" stroke-width="0.7"/><polygon points="78.5,54.5 77.5,53.7 75.5,53.3 75.0,53.5 72.7,59.6 75.6,60.8" fill="none" stroke="#c88c82" stroke-width="0.7"/><polygon points="75.4,62.4 74.8,61.9 72.4,60.9 70.8,61.5 71.5,65.0 73.6,65.0" fill="none" stroke="#c88c82" stroke-width="0.7"/><polygon points="77.8,63.8 76.3,63.3 75.1,65.0 78.1,65.0" fill="none" stroke="#c88c82" stroke-width="0.7"/><polygon points="73.4,-0.8 77.0,2.1 77.3,2.2 79.1,-1.0 73.5,-1.0" fill="none" stroke="#b97870" stroke-width="0.7"/><polygon points="81.5,29.5 83.3,23.3 79.9,22.2 77.4,24.3 80.4,29.5" fill="none" stroke="#b97870" stroke-width="0.7"/><polygon points="84.4,62.8 81.4,61.3 79.4,63.2 79.7,65.0 84.4,65.0" fill="none" stroke="#8ca5aa" stroke-width="0.7"/><polygon points="84.7,6.9 84.3,7.1 83.9,11.6 87.6,13.6 87.6,6.9 87.2,6.6" fill="none" stroke="#b97870" stroke-width="0.7"/><polygon points="86.7,21.2 84.9,23.0 87.6,26.7 87.6,21.7" fill="none" stroke="#b97870" stroke-width="0.7"/><polygon points="81.6,43.8 86.5,41.8 86.6,39.7 83.8,35.9 82.3,36.8 80.8,43.3 81.1,43.6" fill="none" stroke="#c88c82" stroke-width="0.7"/><polygon points="0.5,33.0 0.5,31.2 -0.7,30.4 -1.0,30.3 -1.0,33.6" fill="#872e23"/><polygon points="-0.9,42.1 -1.0,42.1 -1.0,42.5" fill="#893127"/><polygon points="-0.9,51.5 -1.0,51.5 -1.0,52.1" fill="#842d23"/><polygon points="-0.8,16.2 -1.0,16.2 -1.0,20.1 -0.6,20.0" fill="#7e2c25"/><polygon points="1.2,30.1 4.5,26.5 3.8,23.9 2.5,23.4 -0.7,26.0 0.2,29.4" fill="#8b3024"/><polygon points="-0.6,29.9 -1.0,28.3 -1.0,29.8" fill="#822c22"/><polygon points="3.9,47.0 5.5,44.0 3.0,41.3 0.9,42.3 0.5,44.5" fill="#712725"/><polygon points="-0.1,50.5 3.7,50.1 3.7,48.4 -0.5,45.4 -1.0,45.8 -1.0,50.1" fill="#7c2921"/><polygon points="5.5,53.9 5.6,53.3 4.0,51.2 0.4,51.6 -0.4,56.1 3.1,56.8" fill="#7c2921"/><polygon points="-0.9,63.0 2.0,60.6 1.9,58.5 -1.0,57.9 -1.0,62.9" fill="#822e25"/><polygon points="12.5,3.5 10.1,4.3 10.4,7.5 14.1,5.1 13.7,4.3" fill="#96372b"/><polygon points="1.3,16.6 1.4,20.0 2.8,21.2 3.9,21.6 5.8,19.6 5.9,19.4 2.1,15.7" fill="#7b2b25"/><polygon points="12.0,25.4 12.6,23.3 7.6,20.7 5.0,23.4 5.7,26.1 9.4,28.1" fill="#782721"/><polygon points="9.0,28.9 5.3,27.0 1.7,31.0 1.7,32.8 1.9,33.0 8.2,32.6 9.5,30.8 9.6,30.5" fill="#6e2321"/><polygon points="8.9,36.3 11.4,38.1 12.9,37.8 10.2,32.2 9.2,33.7" fill="#702625"/><polygon points="8.0,37.4 4.2,38.8 4.0,40.0 6.9,43.1 8.1,42.9 10.7,39.3" fill="#732521"/><polygon points="13.8,45.1 9.0,44.3 11.7,48.6 13.5,46.9" fill="#8c3025"/><polygon points="8.3,44.5 8.3,44.5 6.9,44.7 5.0,48.5 4.9,50.2 6.7,52.5 10.5,51.4 10.7,51.3 11.1,49.1" fill="#6d2321"/><polygon points="10.3,58.7 13.3,58.9 10.9,52.2 6.9,53.4 6.8,54.0" fill="#842d23"/><polygon points="7.3,61.2 9.0,58.9 6.4,55.4 4.3,58.0 4.5,60.2 6.5,61.5" fill="#802d25"/><polygon points="16.2,4.3 17.5,5.4 20.6,4.7 19.8,1.1 18.9,-0.6 15.7,3.6" fill="#782a25"/><polygon points="10.0,10.3 12.8,10.7 15.8,8.0 16.0,7.1 14.6,5.9 10.7,8.5" fill="#7f2d25"/><polygon points="11.5,30.4 16.7,28.7 16.4,28.0 12.6,25.9 10.0,28.6 10.6,30.2" fill="#762721"/><polygon points="11.2,32.1 13.7,37.4 14.7,37.5 15.3,36.6 15.5,34.4 12.1,32.0 11.3,31.9" fill="#802d25"/><polygon points="9.3,43.4 9.3,43.4 14.1,44.3 16.1,42.3 16.2,41.9 14.8,39.4 13.6,39.3 11.9,39.7" fill="#7c2921"/><polygon points="16.6,48.3 19.6,48.4 16.9,43.0 14.7,45.1 14.4,47.0" fill="#812b22"/><polygon points="11.9,49.3 11.4,51.5 13.4,51.9 16.3,48.8 13.9,47.4" fill="#842d23"/><polygon points="11.6,52.3 11.5,52.4 13.8,58.7 14.3,58.9 15.4,57.6 16.7,54.4 13.5,52.7" fill="#903226"/><polygon points="26.3,2.9 25.8,-0.1 20.8,0.5 21.8,5.1 22.2,5.2 26.2,3.3" fill="#8b3025"/><polygon points="24.7,14.7 25.7,11.0 23.4,9.5 20.6,13.6" fill="#732521"/><polygon points="17.7,27.8 18.6,28.4 20.8,24.4 20.3,22.9 17.9,22.6 17.4,27.2" fill="#6f2625"/><polygon points="16.2,33.1 18.0,31.0 17.6,30.2 16.8,29.6 12.9,30.9" fill="#96372a"/><polygon points="17.2,34.2 17.0,36.6 21.1,35.9 21.7,32.5 19.3,31.8" fill="#883127"/><polygon points="21.1,37.7 20.9,37.4 17.1,38.1 16.6,39.0 17.7,41.0 21.1,40.7" fill="#772a25"/><polygon points="22.0,41.9 17.4,42.2 17.3,42.7 20.2,48.4 21.2,49.1 22.7,48.4 23.5,47.6 23.8,42.8" fill="#7d2a21"/><polygon points="21.7,58.4 21.4,56.2 19.9,54.3 18.1,55.1 17.1,57.5" fill="#8a3227"/><polygon points="16.0,60.9 19.3,61.6 21.3,59.8 21.3,59.7 16.6,58.8 15.7,59.8" fill="#95372a"/><polygon points="24.8,63.8 23.5,65.0 25.2,65.0" fill="#852f26"/><polygon points="20.7,-0.1 25.7,-0.6 25.8,-1.0 20.3,-1.0" fill="#7a2821"/><polygon points="31.4,8.5 31.5,5.3 29.0,5.0 31.0,8.8" fill="#913529"/><polygon points="26.9,4.7 26.4,4.4 22.9,6.0 23.9,8.4 26.0,9.8 27.8,9.6" fill="#892f24"/><polygon points="28.7,23.4 28.7,22.1 25.6,20.5 22.9,21.5 22.0,22.4 22.5,23.9 26.0,27.0" fill="#7c2b25"/><polygon points="21.6,24.7 19.0,29.4 19.6,30.7 22.6,31.4 25.5,30.4 25.7,30.2 25.7,28.3" fill="#832c22"/><polygon points="27.1,38.2 23.1,37.8 23.1,40.8 24.4,41.6 26.8,40.3 27.5,38.8" fill="#94362a"/><polygon points="24.9,43.2 24.6,47.1 28.2,47.0 29.3,44.9 27.4,41.9" fill="#752925"/><polygon points="25.5,59.6 28.3,58.7 27.5,55.3 27.5,55.3 23.7,56.6 24.0,58.8 24.0,58.8" fill="#722725"/><polygon points="24.1,62.7 24.2,62.1 24.2,61.5 22.7,60.7 20.7,62.5 21.0,65.0 21.6,65.0" fill="#7a2b25"/><polygon points="25.8,62.6 25.8,63.3 26.3,65.0 28.9,65.0" fill="#7e2c25"/><polygon points="27.1,-0.7 27.5,1.5 31.1,-1.0 27.1,-1.0" fill="#852f26"/><polygon points="28.4,5.4 27.9,5.2 28.7,9.6 30.1,9.9 30.5,9.4" fill="#883127"/><polygon points="32.0,11.3 32.5,13.3 33.4,14.4 36.2,14.1 37.6,11.0 37.2,10.2 32.9,10.5 32.5,10.8" fill="#752925"/><polygon points="31.7,16.3 30.7,15.0 26.6,16.7 26.6,19.0 29.6,20.6 30.6,19.9" fill="#893127"/><polygon points="34.3,42.8 31.9,39.3 29.8,39.7 29.1,41.1 30.8,43.7 33.8,43.5" fill="#863026"/><polygon points="34.1,45.8 31.0,46.0 30.1,47.8 31.7,50.0 32.3,50.1 34.3,47.9" fill="#97382b"/><polygon points="32.1,52.7 31.4,52.6 29.3,54.6 30.1,58.4 32.5,59.4 34.6,55.5" fill="#782a25"/><polygon points="37.3,8.2 37.5,6.9 34.7,3.9 33.1,5.3 33.0,8.5" fill="#712725"/><polygon points="42.2,17.7 43.5,14.7 42.8,12.6 39.6,11.3 37.8,15.0 38.9,16.9" fill="#712421"/><polygon points="39.7,34.5 35.7,35.0 35.6,35.3 39.4,38.4 40.2,36.8" fill="#822e25"/><polygon points="46.8,4.9 48.4,3.5 48.6,3.2 45.9,-0.1 43.9,3.9" fill="#93362a"/><polygon points="42.3,5.3 39.9,7.3 39.7,8.8 40.1,9.8 43.3,11.1 46.3,9.0 46.0,6.3 43.0,5.3" fill="#903226"/><polygon points="49.8,11.4 47.3,10.0 44.2,12.2 44.9,14.3 47.0,14.8 50.1,13.2" fill="#882f24"/><polygon points="42.7,21.6 42.8,21.6 41.7,19.3 39.1,18.6 37.9,21.1 38.6,22.4" fill="#7a2b25"/><polygon points="41.2,32.7 44.8,31.9 44.5,30.4 40.7,29.5 40.3,29.5" fill="#6d2525"/><polygon points="47.1,-0.9 49.6,1.9 51.2,1.0 51.1,-1.0 47.1,-1.0" fill="#722725"/><polygon points="49.4,4.8 47.7,6.3 48.0,8.9 50.3,10.2 52.3,8.6" fill="#852f26"/><polygon points="47.4,15.5 48.8,18.6 51.6,15.1 50.6,14.0" fill="#792821"/><polygon points="46.8,15.8 44.5,15.2 42.9,18.6 44.4,21.8 47.7,23.1 47.8,23.0 48.3,19.4" fill="#7e2a21"/><polygon points="53.6,22.9 48.5,23.7 48.4,23.8 48.4,24.8 51.8,28.6 54.6,29.8 57.3,26.5" fill="#933427"/><polygon points="48.9,35.1 48.3,35.1 48.0,36.0 48.0,37.8 51.2,38.7 51.8,35.5" fill="#726791"/><polygon points="51.4,40.4 47.7,39.4 47.3,40.2 48.0,41.3 51.2,43.0 52.0,41.9" fill="#792a25"/><polygon points="41.7,53.8 43.1,55.3 46.9,51.0 47.0,50.3 46.7,49.6 45.8,49.3 45.2,49.2" fill="#802d25"/><polygon points="48.3,55.5 50.9,56.0 52.3,54.3 48.6,51.2 48.5,51.8" fill="#95372a"/><polygon points="50.7,58.9 50.5,57.8 47.6,57.3 45.0,58.6 45.0,59.6 45.6,61.2 50.2,62.7 51.1,62.5" fill="#93362a"/><polygon points="54.0,9.9 53.3,10.1 51.6,11.6 51.8,13.0 52.6,13.9 54.6,14.8 54.6,14.7 55.1,11.5" fill="#8e3328"/><polygon points="52.1,15.3 48.9,19.4 48.5,23.1 53.5,22.2 55.2,18.7 54.8,16.5" fill="#762721"/><polygon points="55.0,35.7 54.5,35.5 53.7,35.8 53.0,39.6 53.6,41.1 55.7,40.9 57.2,38.2" fill="#97372b"/><polygon points="55.8,51.8 55.7,50.0 51.9,47.5 49.3,49.2 49.5,49.9 53.3,53.0 55.3,52.4" fill="#7c2c25"/><polygon points="59.9,7.3 59.3,6.6 57.1,6.4 55.4,8.5 56.5,10.1 58.2,10.0 59.9,7.4" fill="#842f26"/><polygon points="59.6,15.1 56.7,16.4 56.7,16.4 56.9,18.2 62.3,19.3 63.3,16.5 62.9,15.6" fill="#97382b"/><polygon points="65.7,25.8 65.6,25.1 63.3,23.2 59.4,26.5 62.3,29.3 64.5,28.0" fill="#722725"/><polygon points="57.8,28.0 57.8,28.0 55.7,30.5 55.4,33.1 55.9,33.4 60.7,31.4 60.7,30.8" fill="#8d3328"/><polygon points="61.3,38.5 58.5,38.6 56.7,41.8 59.9,45.1 60.2,45.0 60.7,44.0" fill="#8e3125"/><polygon points="69.0,7.6 69.2,7.4 69.3,6.4 68.7,5.2 67.7,5.0 66.2,6.3 68.6,7.7" fill="#86322a"/><polygon points="69.2,17.2 65.1,16.9 63.9,20.2 64.1,21.4 67.0,23.7 70.4,21.6" fill="#6b2221"/><polygon points="66.9,40.7 66.7,39.8 64.0,37.3 63.8,37.3 61.9,38.3 61.4,44.0" fill="#6a2221"/><polygon points="66.6,52.6 64.5,50.5 61.3,52.7 65.4,54.8" fill="#8d3328"/><polygon points="67.8,61.9 67.2,63.2 66.7,65.0 69.9,65.0 69.4,62.4" fill="#95372a"/><polygon points="75.6,3.1 72.5,0.7 72.4,0.7 70.7,3.6 71.5,5.2" fill="#752825"/><polygon points="71.6,15.1 75.5,15.4 75.6,10.4 71.0,9.1 70.6,9.5" fill="#6d2321"/><polygon points="73.3,19.9 75.8,17.7 75.8,17.4 75.0,16.6 71.9,16.4 70.7,17.1 71.6,20.8 71.8,20.8" fill="#762925"/><polygon points="72.3,31.4 73.3,32.2 75.3,29.7 74.2,28.0 72.3,29.1" fill="#685f85"/><polygon points="75.9,35.3 75.9,35.3 78.7,31.0 76.6,30.6 74.3,33.6 74.5,34.3" fill="#873026"/><polygon points="72.8,45.6 70.7,45.7 70.2,50.8 74.0,51.6 74.4,51.4 74.1,48.9" fill="#852f26"/><polygon points="82.8,1.3 81.7,-0.7 80.8,-0.8 78.6,3.2 79.8,5.1 83.2,5.6 83.5,5.4" fill="#8b3227"/><polygon points="81.5,12.0 82.6,10.9 82.9,7.6 80.0,7.2 78.7,9.1" fill="#96372a"/><polygon points="77.3,16.4 80.8,14.2 81.1,13.5 77.4,9.8 76.3,10.6 76.3,15.4" fill="#6a2221"/><polygon points="76.9,23.0 78.6,21.5 77.0,18.9 74.7,20.8 76.8,23.1" fill="#913529"/><polygon points="75.9,26.8 77.0,28.6 78.9,28.9 79.0,28.9 77.2,25.6 77.0,25.7 76.0,26.5" fill="#70668f"/><polygon points="81.2,37.2 76.5,37.4 76.5,37.5 76.5,41.4 80.0,42.6" fill="#762925"/><polygon points="78.1,47.8 75.8,49.4 76.0,52.0 77.5,52.3 77.7,51.9" fill="#873026"/><polygon points="87.4,1.5 84.3,1.6 84.9,5.3 86.8,5.1 87.4,3.3" fill="#6d2525"/><polygon points="79.0,18.1 80.7,20.7 83.0,21.5 83.6,21.3 84.9,20.1 85.2,19.2 81.7,16.1 79.0,17.8" fill="#8b3227"/><polygon points="84.7,24.5 84.1,24.7 82.6,29.6 84.6,32.0 87.6,30.8 87.6,28.4" fill="#8c3328"/><polygon points="85.5,34.0 85.2,35.3 87.4,38.3 87.6,38.1 87.6,33.1" fill="#6f2625"/></g></svg></div>
<div class="im" style="left:433.8px;top:26.7px;width:86.2px;height:64.0px"><svg width="86.2" height="64.0" viewBox="0 0 86.2 64.0" style="position:absolute;left:0;top:0"><defs><filter id="bl2" x="-20%" y="-20%" width="140%" height="140%"><feGaussianBlur stdDeviation="1.8"/></filter><filter id="cb2" x="-5%" y="-5%" width="110%" height="110%"><feGaussianBlur stdDeviation="0.75"/></filter></defs><g filter="url(#bl2)"><rect x="-12.0" y="-12.0" width="12.0" height="12.0" fill="#625a80"/><rect x="0.0" y="-12.0" width="7.8" height="12.0" fill="#625a80"/><rect x="7.2" y="-12.0" width="7.8" height="12.0" fill="#6e4650"/><rect x="14.4" y="-12.0" width="7.8" height="12.0" fill="#8e96b4"/><rect x="21.6" y="-12.0" width="7.8" height="12.0" fill="#625a80"/><rect x="28.7" y="-12.0" width="7.8" height="12.0" fill="#785262"/><rect x="35.9" y="-12.0" width="7.8" height="12.0" fill="#785262"/><rect x="43.1" y="-12.0" width="7.8" height="12.0" fill="#625a80"/><rect x="50.3" y="-12.0" width="7.8" height="12.0" fill="#785262"/><rect x="57.5" y="-12.0" width="7.8" height="12.0" fill="#785262"/><rect x="64.7" y="-12.0" width="7.8" height="12.0" fill="#a096aa"/><rect x="71.8" y="-12.0" width="7.8" height="12.0" fill="#785262"/><rect x="79.0" y="-12.0" width="7.8" height="12.0" fill="#b4dade"/><rect x="86.2" y="-12.0" width="12.0" height="12.0" fill="#b4dade"/><rect x="-12.0" y="0.0" width="12.0" height="8.6" fill="#625a80"/><rect x="0.0" y="0.0" width="7.8" height="8.6" fill="#625a80"/><rect x="7.2" y="0.0" width="7.8" height="8.6" fill="#6e4650"/><rect x="14.4" y="0.0" width="7.8" height="8.6" fill="#8e96b4"/><rect x="21.6" y="0.0" width="7.8" height="8.6" fill="#625a80"/><rect x="28.7" y="0.0" width="7.8" height="8.6" fill="#785262"/><rect x="35.9" y="0.0" width="7.8" height="8.6" fill="#785262"/><rect x="43.1" y="0.0" width="7.8" height="8.6" fill="#625a80"/><rect x="50.3" y="0.0" width="7.8" height="8.6" fill="#785262"/><rect x="57.5" y="0.0" width="7.8" height="8.6" fill="#785262"/><rect x="64.7" y="0.0" width="7.8" height="8.6" fill="#a096aa"/><rect x="71.8" y="0.0" width="7.8" height="8.6" fill="#785262"/><rect x="79.0" y="0.0" width="7.8" height="8.6" fill="#b4dade"/><rect x="86.2" y="0.0" width="12.0" height="8.6" fill="#b4dade"/><rect x="-12.0" y="8.0" width="12.0" height="8.6" fill="#b4dade"/><rect x="0.0" y="8.0" width="7.8" height="8.6" fill="#b4dade"/><rect x="7.2" y="8.0" width="7.8" height="8.6" fill="#b4dade"/><rect x="14.4" y="8.0" width="7.8" height="8.6" fill="#625a80"/><rect x="21.6" y="8.0" width="7.8" height="8.6" fill="#785262"/><rect x="28.7" y="8.0" width="7.8" height="8.6" fill="#785262"/><rect x="35.9" y="8.0" width="7.8" height="8.6" fill="#785262"/><rect x="43.1" y="8.0" width="7.8" height="8.6" fill="#625a80"/><rect x="50.3" y="8.0" width="7.8" height="8.6" fill="#785262"/><rect x="57.5" y="8.0" width="7.8" height="8.6" fill="#785262"/><rect x="64.7" y="8.0" width="7.8" height="8.6" fill="#785262"/><rect x="71.8" y="8.0" width="7.8" height="8.6" fill="#785262"/><rect x="79.0" y="8.0" width="7.8" height="8.6" fill="#a096aa"/><rect x="86.2" y="8.0" width="12.0" height="8.6" fill="#a096aa"/><rect x="-12.0" y="16.0" width="12.0" height="8.6" fill="#b4dade"/><rect x="0.0" y="16.0" width="7.8" height="8.6" fill="#b4dade"/><rect x="7.2" y="16.0" width="7.8" height="8.6" fill="#625a80"/><rect x="14.4" y="16.0" width="7.8" height="8.6" fill="#8e96b4"/><rect x="21.6" y="16.0" width="7.8" height="8.6" fill="#785262"/><rect x="28.7" y="16.0" width="7.8" height="8.6" fill="#785262"/><rect x="35.9" y="16.0" width="7.8" height="8.6" fill="#96788c"/><rect x="43.1" y="16.0" width="7.8" height="8.6" fill="#625a80"/><rect x="50.3" y="16.0" width="7.8" height="8.6" fill="#96788c"/><rect x="57.5" y="16.0" width="7.8" height="8.6" fill="#785262"/><rect x="64.7" y="16.0" width="7.8" height="8.6" fill="#96788c"/><rect x="71.8" y="16.0" width="7.8" height="8.6" fill="#785262"/><rect x="79.0" y="16.0" width="7.8" height="8.6" fill="#785262"/><rect x="86.2" y="16.0" width="12.0" height="8.6" fill="#785262"/><rect x="-12.0" y="24.0" width="12.0" height="8.6" fill="#625a80"/><rect x="0.0" y="24.0" width="7.8" height="8.6" fill="#625a80"/><rect x="7.2" y="24.0" width="7.8" height="8.6" fill="#8e96b4"/><rect x="14.4" y="24.0" width="7.8" height="8.6" fill="#b4dade"/><rect x="21.6" y="24.0" width="7.8" height="8.6" fill="#625a80"/><rect x="28.7" y="24.0" width="7.8" height="8.6" fill="#785262"/><rect x="35.9" y="24.0" width="7.8" height="8.6" fill="#96788c"/><rect x="43.1" y="24.0" width="7.8" height="8.6" fill="#625a80"/><rect x="50.3" y="24.0" width="7.8" height="8.6" fill="#785262"/><rect x="57.5" y="24.0" width="7.8" height="8.6" fill="#96788c"/><rect x="64.7" y="24.0" width="7.8" height="8.6" fill="#785262"/><rect x="71.8" y="24.0" width="7.8" height="8.6" fill="#785262"/><rect x="79.0" y="24.0" width="7.8" height="8.6" fill="#785262"/><rect x="86.2" y="24.0" width="12.0" height="8.6" fill="#785262"/><rect x="-12.0" y="32.0" width="12.0" height="8.6" fill="#785262"/><rect x="0.0" y="32.0" width="7.8" height="8.6" fill="#785262"/><rect x="7.2" y="32.0" width="7.8" height="8.6" fill="#625a80"/><rect x="14.4" y="32.0" width="7.8" height="8.6" fill="#b4dade"/><rect x="21.6" y="32.0" width="7.8" height="8.6" fill="#8e96b4"/><rect x="28.7" y="32.0" width="7.8" height="8.6" fill="#625a80"/><rect x="35.9" y="32.0" width="7.8" height="8.6" fill="#785262"/><rect x="43.1" y="32.0" width="7.8" height="8.6" fill="#785262"/><rect x="50.3" y="32.0" width="7.8" height="8.6" fill="#625a80"/><rect x="57.5" y="32.0" width="7.8" height="8.6" fill="#785262"/><rect x="64.7" y="32.0" width="7.8" height="8.6" fill="#785262"/><rect x="71.8" y="32.0" width="7.8" height="8.6" fill="#785262"/><rect x="79.0" y="32.0" width="7.8" height="8.6" fill="#625a80"/><rect x="86.2" y="32.0" width="12.0" height="8.6" fill="#625a80"/><rect x="-12.0" y="40.0" width="12.0" height="8.6" fill="#785262"/><rect x="0.0" y="40.0" width="7.8" height="8.6" fill="#785262"/><rect x="7.2" y="40.0" width="7.8" height="8.6" fill="#785262"/><rect x="14.4" y="40.0" width="7.8" height="8.6" fill="#8e96b4"/><rect x="21.6" y="40.0" width="7.8" height="8.6" fill="#8e96b4"/><rect x="28.7" y="40.0" width="7.8" height="8.6" fill="#a096aa"/><rect x="35.9" y="40.0" width="7.8" height="8.6" fill="#785262"/><rect x="43.1" y="40.0" width="7.8" height="8.6" fill="#785262"/><rect x="50.3" y="40.0" width="7.8" height="8.6" fill="#625a80"/><rect x="57.5" y="40.0" width="7.8" height="8.6" fill="#785262"/><rect x="64.7" y="40.0" width="7.8" height="8.6" fill="#785262"/><rect x="71.8" y="40.0" width="7.8" height="8.6" fill="#625a80"/><rect x="79.0" y="40.0" width="7.8" height="8.6" fill="#625a80"/><rect x="86.2" y="40.0" width="12.0" height="8.6" fill="#625a80"/><rect x="-12.0" y="48.0" width="12.0" height="8.6" fill="#785262"/><rect x="0.0" y="48.0" width="7.8" height="8.6" fill="#785262"/><rect x="7.2" y="48.0" width="7.8" height="8.6" fill="#a096aa"/><rect x="14.4" y="48.0" width="7.8" height="8.6" fill="#b4dade"/><rect x="21.6" y="48.0" width="7.8" height="8.6" fill="#8e96b4"/><rect x="28.7" y="48.0" width="7.8" height="8.6" fill="#a096aa"/><rect x="35.9" y="48.0" width="7.8" height="8.6" fill="#785262"/><rect x="43.1" y="48.0" width="7.8" height="8.6" fill="#785262"/><rect x="50.3" y="48.0" width="7.8" height="8.6" fill="#625a80"/><rect x="57.5" y="48.0" width="7.8" height="8.6" fill="#625a80"/><rect x="64.7" y="48.0" width="7.8" height="8.6" fill="#785262"/><rect x="71.8" y="48.0" width="7.8" height="8.6" fill="#785262"/><rect x="79.0" y="48.0" width="7.8" height="8.6" fill="#625a80"/><rect x="86.2" y="48.0" width="12.0" height="8.6" fill="#625a80"/><rect x="-12.0" y="56.0" width="12.0" height="8.6" fill="#785262"/><rect x="0.0" y="56.0" width="7.8" height="8.6" fill="#785262"/><rect x="7.2" y="56.0" width="7.8" height="8.6" fill="#785262"/><rect x="14.4" y="56.0" width="7.8" height="8.6" fill="#8e96b4"/><rect x="21.6" y="56.0" width="7.8" height="8.6" fill="#8e96b4"/><rect x="28.7" y="56.0" width="7.8" height="8.6" fill="#a096aa"/><rect x="35.9" y="56.0" width="7.8" height="8.6" fill="#785262"/><rect x="43.1" y="56.0" width="7.8" height="8.6" fill="#785262"/><rect x="50.3" y="56.0" width="7.8" height="8.6" fill="#785262"/><rect x="57.5" y="56.0" width="7.8" height="8.6" fill="#625a80"/><rect x="64.7" y="56.0" width="7.8" height="8.6" fill="#625a80"/><rect x="71.8" y="56.0" width="7.8" height="8.6" fill="#785262"/><rect x="79.0" y="56.0" width="7.8" height="8.6" fill="#625a80"/><rect x="86.2" y="56.0" width="12.0" height="8.6" fill="#625a80"/><rect x="-12.0" y="64.0" width="12.0" height="12.0" fill="#785262"/><rect x="0.0" y="64.0" width="7.8" height="12.0" fill="#785262"/><rect x="7.2" y="64.0" width="7.8" height="12.0" fill="#785262"/><rect x="14.4" y="64.0" width="7.8" height="12.0" fill="#8e96b4"/><rect x="21.6" y="64.0" width="7.8" height="12.0" fill="#8e96b4"/><rect x="28.7" y="64.0" width="7.8" height="12.0" fill="#a096aa"/><rect x="35.9" y="64.0" width="7.8" height="12.0" fill="#785262"/><rect x="43.1" y="64.0" width="7.8" height="12.0" fill="#785262"/><rect x="50.3" y="64.0" width="7.8" height="12.0" fill="#785262"/><rect x="57.5" y="64.0" width="7.8" height="12.0" fill="#625a80"/><rect x="64.7" y="64.0" width="7.8" height="12.0" fill="#625a80"/><rect x="71.8" y="64.0" width="7.8" height="12.0" fill="#785262"/><rect x="79.0" y="64.0" width="7.8" height="12.0" fill="#625a80"/><rect x="86.2" y="64.0" width="12.0" height="12.0" fill="#625a80"/></g><g filter="url(#cb2)" stroke-linejoin="round"><polygon points="0.4,8.4 -0.1,7.5 -1.0,7.7 -1.0,9.9" fill="none" stroke="#8ca5aa" stroke-width="0.7"/><polygon points="0.4,21.9 0.3,21.9 -1.0,21.9 -1.0,25.8 0.3,26.1 0.9,26.0" fill="none" stroke="#8ca5aa" stroke-width="0.7"/><polygon points="13.0,27.9 18.0,26.1 18.0,26.1 16.9,24.5 14.9,24.5" fill="none" stroke="#8ca5aa" stroke-width="0.7"/><polygon points="11.5,50.4 13.7,52.0 15.3,51.6 13.2,47.9 11.8,49.7" fill="none" stroke="#b97870" stroke-width="0.7"/><polygon points="15.5,52.3 14.0,52.6 13.6,55.3 15.0,56.9 17.0,53.8 17.1,52.1" fill="none" stroke="#8ca5aa" stroke-width="0.7"/><polygon points="28.4,45.5 30.2,47.7 31.7,47.8 31.7,47.8 33.2,45.1 30.0,43.0 29.9,43.0" fill="none" stroke="#b97870" stroke-width="0.7"/><polygon points="32.8,53.7 34.6,51.9 34.5,51.5 31.9,48.8 31.9,48.8 30.5,53.0 31.4,54.1" fill="none" stroke="#b97870" stroke-width="0.7"/><polygon points="80.1,6.2 83.2,4.4 82.2,1.8 80.3,2.8 79.6,3.5 79.9,5.8" fill="none" stroke="#8ca5aa" stroke-width="0.7"/><polygon points="-0.6,35.9 0.5,34.6 -0.0,32.3 -1.0,31.8 -1.0,35.7" fill="#832b2d"/><polygon points="-1.0,38.7 -1.0,38.7 -0.9,36.1 -1.0,36.1 -1.0,38.7" fill="#6a202a"/><polygon points="-0.8,47.4 -1.0,46.9 -1.0,47.6" fill="#661f2a"/><polygon points="-1.0,54.1 -1.0,54.1 -1.0,54.2" fill="#892e2f"/><polygon points="-0.0,58.3 -1.0,57.4 -1.0,60.1" fill="#7b282b"/><polygon points="1.1,0.1 1.6,-0.5 1.5,-1.0 -1.0,-1.0 -1.0,-0.3" fill="#4a3d61"/><polygon points="0.8,34.6 2.9,34.9 6.1,33.7 6.2,33.4 2.2,30.8 0.2,32.3" fill="#7f292c"/><polygon points="0.9,38.8 2.5,38.2 2.5,35.4 0.8,35.2 -0.2,36.2 -0.3,38.6" fill="#6b212a"/><polygon points="2.6,41.4 4.2,40.6 3.6,38.8 2.8,38.7 1.1,39.3" fill="#892e2f"/><polygon points="2.4,43.5 2.4,41.6 0.8,39.4 -0.6,39.2 -0.6,39.2 -1.0,39.9 -1.0,44.1" fill="#882d2e"/><polygon points="4.5,47.8 4.4,44.6 2.5,43.7 -1.0,44.3 -1.0,45.6 -0.3,47.4 1.7,48.7" fill="#832b2d"/><polygon points="-0.9,52.6 0.9,51.5 1.4,49.0 -0.4,47.8 -1.0,48.3 -1.0,52.6" fill="#76252a"/><polygon points="1.2,52.0 -0.5,53.1 -0.3,54.0 2.2,55.6 3.3,53.6" fill="#8b2e2f"/><polygon points="2.0,57.6 2.1,56.0 -0.4,54.3 -0.9,56.7 0.4,58.1" fill="#681f2a"/><polygon points="-0.5,60.8 3.4,62.5 4.9,59.3 2.2,57.9 0.5,58.5 -0.6,60.4" fill="#8c2f2f"/><polygon points="-1.0,64.7 -0.2,65.0 2.0,65.0 3.1,63.9 3.1,62.8 -0.5,61.3 -0.9,62.3" fill="#8a2e2f"/><polygon points="5.8,7.1 6.8,6.7 8.3,3.9 7.8,2.1 6.6,1.6 4.7,4.2" fill="#463a5b"/><polygon points="2.1,26.2 2.8,27.0 3.9,27.2 6.2,26.2 6.4,24.5 4.9,23.3" fill="#514369"/><polygon points="6.5,30.1 7.7,28.2 6.6,26.9 4.4,27.8" fill="#463a5b"/><polygon points="6.8,36.4 6.1,34.1 3.1,35.1 3.1,38.2 3.9,38.4 6.6,37.1" fill="#892e2f"/><polygon points="4.1,38.9 4.6,40.5 6.4,41.8 7.2,39.7 6.7,37.7" fill="#661f2a"/><polygon points="4.5,44.4 6.4,42.8 6.4,42.2 4.3,40.8 2.7,41.6 2.6,43.5" fill="#7a272b"/><polygon points="8.4,46.1 9.1,44.5 6.6,43.3 5.0,44.7 5.1,47.4 6.2,48.1" fill="#78262a"/><polygon points="5.7,49.1 4.5,48.4 2.1,49.2 1.7,51.5 3.8,53.1 4.3,53.0 6.8,51.2" fill="#631d2a"/><polygon points="9.0,54.8 8.2,52.0 7.4,51.6 4.6,53.6 6.2,56.7" fill="#75252a"/><polygon points="4.9,58.8 5.7,56.9 4.3,54.1 3.8,54.2 2.6,56.1 2.6,57.6 4.9,58.8" fill="#6b212a"/><polygon points="3.7,62.5 3.8,63.7 5.1,64.2 7.5,63.0 7.6,60.6 5.2,59.6 5.1,59.6" fill="#852c2d"/><polygon points="5.0,64.6 3.6,64.1 2.6,65.0 5.2,65.0" fill="#71232a"/><polygon points="6.5,-0.1 6.9,0.5 8.2,1.0 10.8,-0.0 10.9,-1.0 6.6,-1.0" fill="#491f24"/><polygon points="11.1,0.5 8.5,1.6 9.1,3.6 11.2,4.7 12.9,4.4 13.1,1.5" fill="#441d22"/><polygon points="7.1,7.3 10.1,8.1 11.0,5.2 8.9,4.1" fill="#411c21"/><polygon points="8.2,29.2 7.2,30.8 7.1,32.4 9.1,31.9 8.8,29.2" fill="#59547a"/><polygon points="9.6,33.0 7.1,33.6 7.0,33.7 6.9,33.9 7.6,36.0 10.9,36.5 11.2,33.2 11.1,33.0" fill="#4a3d61"/><polygon points="6.8,42.7 9.7,44.0 11.0,43.7 11.8,40.6 7.7,39.9 6.7,42.2" fill="#892e2f"/><polygon points="12.8,47.4 12.9,47.3 12.9,46.8 11.8,44.8 11.2,44.3 10.0,44.6 9.2,46.3 11.5,49.1" fill="#71232a"/><polygon points="10.4,50.0 10.6,49.5 8.8,47.3 7.0,48.9 7.9,50.6 8.5,50.9" fill="#6f2625"/><polygon points="10.1,54.5 12.5,54.8 12.9,52.5 11.2,51.3 9.3,52.2 9.9,54.3" fill="#762925"/><polygon points="7.9,60.0 9.6,59.6 9.3,55.6 9.0,55.4 6.4,57.2 5.6,59.1" fill="#75252a"/><polygon points="8.0,63.0 9.1,64.2 12.8,62.8 12.8,61.0 9.9,60.0 8.0,60.6" fill="#6e222a"/><polygon points="5.5,65.0 8.8,65.0 8.9,64.5 7.8,63.3 5.2,64.6" fill="#611c2a"/><polygon points="11.5,0.0 13.3,1.0 15.5,0.2 14.5,-1.0 11.6,-1.0" fill="#411c20"/><polygon points="11.4,5.3 10.5,8.3 11.7,9.6 12.2,9.6 14.4,7.8 14.6,6.3 13.1,4.9" fill="#491f25"/><polygon points="15.4,19.4 15.7,16.7 14.9,16.4 14.3,16.6 13.4,18.0 13.6,19.6" fill="#605a83"/><polygon points="12.3,18.4 9.5,18.6 9.3,19.6 11.1,22.2 11.4,22.1 12.6,20.4" fill="#483b5e"/><polygon points="15.1,30.4 13.1,29.6 12.8,29.6 12.6,31.8 12.7,31.9 14.7,32.2" fill="#565074"/><polygon points="14.9,33.7 12.2,33.3 11.8,36.6 13.0,37.9 14.4,36.1 15.4,34.4" fill="#483c5e"/><polygon points="15.8,42.8 14.6,40.5 13.0,39.9 12.3,40.8 11.6,43.5 12.3,44.0" fill="#832b2d"/><polygon points="13.1,55.8 9.7,55.4 10.1,59.7 13.0,60.6 14.9,58.8 14.7,57.6" fill="#872d2e"/><polygon points="14.1,61.4 14.1,62.6 14.2,62.8 16.5,63.9 17.1,63.7 17.1,62.9 15.5,60.3 15.3,60.3" fill="#575277"/><polygon points="13.0,63.3 12.9,63.1 9.1,64.5 9.1,65.0 12.6,65.0 12.7,64.7" fill="#651e2a"/><polygon points="12.9,64.8 12.9,65.0 13.1,65.0" fill="#75252a"/><polygon points="17.8,15.3 17.9,15.3 18.3,12.5 17.2,10.7 15.2,13.0 15.4,15.1 16.4,15.4" fill="#4d4065"/><polygon points="17.5,20.7 18.1,20.3 17.7,17.2 16.8,17.3 16.6,19.6" fill="#5a547a"/><polygon points="21.1,21.8 19.3,22.4 18.7,22.8 18.3,24.0 18.9,25.1 21.0,25.0 21.7,22.6" fill="#5a557b"/><polygon points="18.1,30.5 17.3,31.1 16.9,32.7 17.2,33.2 19.1,33.7 19.7,33.2 20.1,32.5 19.9,32.1" fill="#9a3a2e"/><polygon points="16.8,35.3 16.2,36.4 17.8,37.6 18.5,37.5 18.6,37.1 18.6,35.8" fill="#993a2e"/><polygon points="16.3,44.2 15.7,43.8 13.2,44.7 14.0,46.0 16.0,45.3 16.5,44.7" fill="#555074"/><polygon points="19.2,56.7 17.6,55.1 16.1,57.3 16.3,58.0 16.5,58.0 19.2,57.8" fill="#575176"/><polygon points="19.5,59.4 16.9,59.6 18.3,62.0 19.4,60.9 19.5,59.5" fill="#5b557c"/><polygon points="20.0,-0.6 21.0,0.2 24.3,0.9 23.9,-1.0 20.6,-1.0" fill="#51436a"/><polygon points="21.1,0.8 22.5,4.2 24.5,1.8 24.3,1.5" fill="#473b5d"/><polygon points="18.2,5.2 20.3,7.0 20.9,7.0 21.6,6.5 21.4,5.1 18.7,4.0" fill="#554f73"/><polygon points="22.6,7.4 21.6,8.1 21.6,11.2 23.1,13.7 24.9,12.2 23.6,7.6" fill="#74242a"/><polygon points="26.3,18.0 25.5,16.8 22.8,15.9 22.0,16.4 22.0,20.3 26.4,18.6" fill="#842b2d"/><polygon points="22.1,32.2 23.6,32.1 26.7,29.9 26.7,29.8 23.9,27.7 23.4,27.7 21.9,31.6" fill="#493c60"/><polygon points="21.6,43.6 20.9,42.0 20.1,41.4 18.5,43.4 18.7,44.0 19.9,44.5" fill="#625c86"/><polygon points="21.8,51.6 22.8,50.9 23.2,48.8 21.0,49.3 20.3,50.5" fill="#625c85"/><polygon points="26.0,52.7 25.8,52.1 24.0,52.1 23.1,52.7 23.3,53.1 25.0,54.0" fill="#615a83"/><polygon points="21.1,63.7 20.2,62.4 19.0,63.6 19.0,64.4 20.6,65.0 21.1,65.0" fill="#575176"/><polygon points="26.6,6.5 27.1,6.6 29.1,3.4 28.9,3.1 26.8,2.6" fill="#45395a"/><polygon points="26.2,7.8 24.1,7.8 25.3,11.9 28.2,11.3 28.2,9.2 26.8,8.0" fill="#6c212a"/><polygon points="28.4,12.1 28.3,12.0 25.1,12.5 23.4,13.9 23.1,15.5 25.7,16.4 27.7,14.4 28.4,12.2" fill="#671f2a"/><polygon points="29.7,17.1 28.0,14.9 26.1,16.7 26.8,17.8" fill="#8c2f2f"/><polygon points="22.2,20.5 22.2,20.6 23.2,21.8 24.8,22.0 26.8,20.8 26.4,18.9" fill="#631d2a"/><polygon points="25.0,22.3 26.0,24.9 28.5,25.0 29.9,22.3 27.1,21.0" fill="#872d2e"/><polygon points="27.1,29.0 28.3,26.7 28.1,25.6 26.1,25.5 24.6,27.2" fill="#504369"/><polygon points="26.9,33.8 27.2,33.3 27.4,31.4 26.9,30.9 24.8,32.4" fill="#575176"/><polygon points="26.2,50.9 26.4,49.6 24.8,48.5 24.5,48.7 24.1,50.8" fill="#575277"/><polygon points="22.1,58.4 23.5,59.2 25.2,57.3 24.6,56.6" fill="#605a82"/><polygon points="24.3,60.0 24.6,60.4 25.6,60.9 26.8,60.4 26.1,58.1 26.1,58.1" fill="#5a547a"/><polygon points="26.9,1.7 29.4,2.2 31.2,-1.0 27.6,-1.0 26.7,1.6" fill="#822b2d"/><polygon points="31.8,-0.9 29.9,2.5 30.1,2.9 32.7,5.0 32.9,4.9 34.2,4.1 34.2,2.6 32.1,-1.0 32.0,-1.0" fill="#7a272a"/><polygon points="32.6,5.5 29.7,3.3 27.2,7.5 28.8,8.8 31.8,7.2" fill="#72232a"/><polygon points="31.8,7.7 29.1,9.2 29.1,11.3 29.1,11.5 33.1,10.5 33.0,9.4" fill="#7f292c"/><polygon points="28.1,14.5 30.2,17.1 31.4,17.4 31.5,14.0 28.9,12.1" fill="#8c2f2f"/><polygon points="34.6,13.3 31.9,14.3 31.8,17.2 31.9,17.2 34.7,16.7 34.7,13.3" fill="#6e222a"/><polygon points="27.3,20.8 30.1,22.1 31.1,21.7 31.4,17.8 31.3,17.7 30.1,17.4 26.8,18.2 26.8,18.7" fill="#892e2f"/><polygon points="28.8,25.2 29.1,26.4 32.6,27.5 33.5,25.5 33.4,23.1 31.3,22.2 30.2,22.5" fill="#76252a"/><polygon points="28.5,30.3 31.8,30.6 32.4,29.6 32.5,29.0 32.3,28.0 29.1,27.0 27.8,29.6 27.8,29.7" fill="#7b272b"/><polygon points="28.3,33.7 32.3,33.4 31.7,31.3 28.6,31.0" fill="#45395b"/><polygon points="32.3,34.1 32.3,34.0 28.2,34.3 27.8,35.0 27.9,37.1 29.7,37.2 32.2,34.5" fill="#4a3d61"/><polygon points="33.4,37.3 32.7,34.7 30.0,37.6 31.3,38.9 32.0,39.0" fill="#45395a"/><polygon points="29.7,52.5 30.9,48.8 29.8,48.8 27.8,49.8 27.6,51.2 27.8,51.9" fill="#8a3227"/><polygon points="28.4,60.0 30.0,57.5 29.9,57.1 27.2,57.4 28.0,59.9" fill="#565176"/><polygon points="33.3,60.2 31.0,58.1 29.4,60.8 30.5,61.8 32.8,61.2" fill="#913529"/><polygon points="28.7,64.7 29.1,63.0 28.0,62.0 27.5,61.9 26.2,62.5 25.8,65.0 27.7,65.0" fill="#555074"/><polygon points="34.6,2.1 37.3,-0.6 37.0,-1.0 32.9,-1.0" fill="#7b272b"/><polygon points="34.9,2.6 34.9,4.1 36.8,4.5 37.9,0.4 37.8,0.1 37.6,-0.1" fill="#882d2e"/><polygon points="35.7,8.6 33.2,5.9 33.0,5.9 32.4,7.4 33.5,9.0" fill="#6d212a"/><polygon points="33.9,10.7 35.0,12.5 35.1,12.6 36.8,12.1 37.7,11.0 36.5,9.3 36.2,9.2 33.8,9.6" fill="#641e2a"/><polygon points="29.3,11.9 29.3,12.0 31.7,13.8 34.5,12.8 33.3,11.0" fill="#7d282b"/><polygon points="35.3,16.7 36.4,17.5 38.7,16.0 37.0,12.8 35.3,13.3" fill="#671f2a"/><polygon points="34.9,17.2 31.7,17.8 31.5,21.8 33.6,22.8 36.4,21.7 36.2,18.1" fill="#641e2a"/><polygon points="36.6,22.7 34.4,23.5 34.5,25.4 38.5,27.2 38.5,27.2 39.0,25.8 36.9,22.7" fill="#7f2e35"/><polygon points="33.9,25.9 33.1,27.7 33.3,28.8 38.5,28.0" fill="#6f222a"/><polygon points="35.8,33.7 36.0,33.6 36.9,31.3 33.2,30.3 32.7,31.2 33.3,33.3 33.4,33.3" fill="#4f4167"/><polygon points="35.8,34.6 33.5,34.3 33.3,34.6 34.0,36.9 35.8,37.3" fill="#4e4166"/><polygon points="35.1,41.1 36.3,40.3 36.5,39.9 35.8,38.3 34.0,38.0 32.8,39.4" fill="#45395a"/><polygon points="38.4,46.8 36.4,46.3 36.4,49.4 38.7,47.7" fill="#872d2e"/><polygon points="35.7,46.5 34.0,45.6 33.7,45.8 32.5,47.9 34.9,50.5 35.7,49.3" fill="#913529"/><polygon points="37.6,54.8 36.8,53.4 35.4,52.7 33.8,54.3 35.6,56.4" fill="#97382b"/><polygon points="34.8,57.2 33.0,55.1 31.8,55.5 31.5,56.5 31.6,57.0 34.0,59.2 34.3,59.0" fill="#873026"/><polygon points="36.7,60.6 35.0,60.3 34.7,60.5 34.1,61.8 34.9,63.5 37.5,64.1 38.6,62.2" fill="#6d212a"/><polygon points="33.9,64.3 34.0,63.9 33.2,62.2 30.5,62.9 30.0,65.0 32.9,65.0" fill="#98382b"/><polygon points="38.0,-0.9 38.3,-0.7 39.7,-1.0 38.0,-1.0" fill="#75252a"/><polygon points="39.5,5.1 40.6,3.4 38.2,0.3 37.0,4.7 37.6,5.0" fill="#812a2c"/><polygon points="36.4,8.4 37.1,5.4 36.6,5.1 34.8,4.8 33.5,5.6 36.1,8.4" fill="#832b2d"/><polygon points="38.2,10.5 38.7,10.3 40.6,9.1 40.7,7.7 39.5,5.8 37.7,5.7 37.1,8.8" fill="#8d3030"/><polygon points="37.4,12.6 39.2,15.8 39.4,15.8 40.0,15.8 41.3,14.6 38.8,11.3 38.3,11.5" fill="#842b2d"/><polygon points="41.3,20.4 42.8,20.9 44.4,19.2 41.3,17.7" fill="#802e35"/><polygon points="36.6,18.2 36.9,21.3 37.2,21.4 39.2,20.5 39.2,16.8 38.9,16.8" fill="#6e2734"/><polygon points="37.5,22.1 40.0,25.6 40.0,25.6 42.6,23.7 42.5,21.6 40.8,21.1 39.6,21.2" fill="#8a3338"/><polygon points="38.8,28.3 33.5,29.1 33.3,29.7 37.4,30.8 38.9,29.3 39.0,28.9 38.8,28.3" fill="#893337"/><polygon points="36.7,33.9 39.6,34.8 41.8,33.1 39.3,29.5 37.7,31.2" fill="#661f2a"/><polygon points="39.3,35.4 36.7,34.6 36.5,34.7 36.5,37.8 37.3,39.5 39.7,38.1" fill="#832b2d"/><polygon points="42.1,39.3 40.1,38.8 37.7,40.2 37.5,40.7 40.5,43.4 40.5,43.4 42.5,41.5 42.5,40.1" fill="#8d3030"/><polygon points="39.9,44.0 36.9,41.3 35.6,42.1 34.5,44.6 36.3,45.6 38.4,46.1" fill="#7a272a"/><polygon points="39.7,48.2 43.4,47.0 43.2,46.3 40.6,44.2 40.6,44.2 38.9,46.6 39.2,47.6" fill="#71232a"/><polygon points="36.3,49.9 35.4,51.3 35.5,51.7 37.4,52.6 39.8,50.2 39.4,48.6 38.9,48.0" fill="#6e222a"/><polygon points="39.0,54.8 42.4,53.5 42.1,51.1 40.1,50.4 37.7,52.9 38.7,54.7" fill="#631d2a"/><polygon points="39.6,57.6 38.6,55.5 38.3,55.3 35.8,57.4 35.1,59.6 36.9,59.9" fill="#8b2f2f"/><polygon points="41.2,61.4 41.1,58.9 39.9,58.0 37.3,60.2 39.3,61.7" fill="#842b2d"/><polygon points="37.6,64.8 34.9,64.2 34.7,64.6 34.8,65.0 37.7,65.0" fill="#651e2a"/><polygon points="43.6,-0.8 44.1,-1.0 43.1,-1.0" fill="#7e292c"/><polygon points="38.7,0.2 40.8,2.9 42.2,2.2 43.2,-0.3 41.9,-0.8 38.6,-0.2" fill="#72242a"/><polygon points="43.9,0.2 43.0,2.5 44.8,4.2 46.3,3.5 44.6,-0.0" fill="#51436a"/><polygon points="42.4,2.7 40.8,3.5 39.8,5.3 41.2,7.5 44.3,6.0 44.6,4.9" fill="#882d2e"/><polygon points="44.4,6.5 41.6,7.8 41.5,9.2 43.1,10.3 45.9,9.4 45.9,8.4" fill="#483b5e"/><polygon points="41.6,14.3 43.1,13.8 42.7,10.9 41.1,9.8 39.2,11.0" fill="#651e2a"/><polygon points="42.2,15.3 41.1,16.3 41.7,17.0 44.5,18.4 45.1,18.1 45.5,16.0 45.5,16.0 43.5,14.8" fill="#463a5b"/><polygon points="39.6,16.7 39.6,20.4 40.8,20.3 40.8,17.5 40.1,16.7" fill="#732934"/><polygon points="44.2,27.7 40.2,26.3 40.1,26.4 39.5,28.0 39.7,28.7 43.7,28.9" fill="#873237"/><polygon points="43.8,29.3 39.8,29.1 39.8,29.4 42.2,32.8 42.9,33.0 45.2,32.2" fill="#782b34"/><polygon points="43.0,37.5 42.7,33.9 42.0,33.7 40.0,35.3 40.4,37.9 42.3,38.4" fill="#8c2f30"/><polygon points="45.3,39.9 47.7,38.6 47.1,36.9 43.4,37.9 42.6,38.9 43.1,39.9" fill="#822b2d"/><polygon points="43.0,42.0 41.1,43.9 43.4,45.8 45.2,43.5" fill="#8a2e2f"/><polygon points="48.1,45.5 46.1,43.6 45.7,43.6 43.6,46.2 43.8,46.9 44.4,47.7" fill="#621d2a"/><polygon points="42.3,50.5 44.0,49.1 43.9,48.1 43.3,47.4 40.1,48.5 40.5,49.9" fill="#681f2a"/><polygon points="43.1,53.3 43.7,53.7 47.3,52.7 47.5,52.3 45.7,50.3 44.6,49.6 42.7,51.1" fill="#651e2a"/><polygon points="40.3,57.2 41.5,58.1 43.4,57.0 43.1,54.5 42.5,54.1 39.4,55.3" fill="#7b282b"/><polygon points="42.3,61.8 44.8,61.2 45.9,58.3 43.8,57.6 41.8,58.8 41.9,61.5" fill="#7b272b"/><polygon points="41.9,62.5 41.4,62.1 39.3,62.5 38.1,64.5 38.3,65.0 42.4,65.0" fill="#7e292c"/><polygon points="45.2,-0.4 47.0,3.4 47.6,3.5 49.0,3.0 49.0,1.2 47.8,-0.3 45.2,-0.4" fill="#4e4066"/><polygon points="46.8,4.3 45.1,5.1 44.8,6.0 46.3,8.0 47.4,6.9 47.5,4.3" fill="#4f4167"/><polygon points="51.3,7.7 47.9,7.5 46.9,8.6 46.9,9.5 49.1,11.3 49.9,11.2 51.5,8.5" fill="#4a3d61"/><polygon points="46.2,10.4 43.7,11.1 44.0,13.7 46.1,14.9 48.2,12.0" fill="#473a5c"/><polygon points="44.9,27.9 44.5,29.0 45.8,31.7 46.5,31.8 48.6,28.7 48.3,26.8 47.9,26.5 46.6,26.3" fill="#483c5e"/><polygon points="48.2,34.0 51.0,34.1 51.2,34.1 52.5,33.1 50.1,29.9 49.2,29.4 47.1,32.5" fill="#8a2e2f"/><polygon points="45.6,32.7 43.2,33.5 43.5,37.6 47.0,36.7 47.6,34.5 46.3,32.8" fill="#661e2a"/><polygon points="46.9,41.9 48.9,40.0 47.8,38.8 45.4,40.0" fill="#812a2c"/><polygon points="43.2,41.6 45.6,43.1 45.9,43.1 46.6,42.0 45.2,40.2 43.2,40.2" fill="#7e292c"/><polygon points="44.7,49.0 45.9,49.8 49.3,46.0 48.2,45.6 44.5,47.9" fill="#852c2d"/><polygon points="46.2,49.9 48.1,52.0 48.7,51.8 50.4,48.4 49.5,46.3 49.4,46.3" fill="#8a2e2f"/><polygon points="50.9,53.1 48.8,52.4 48.3,52.6 48.0,53.0 48.2,55.4 51.7,55.1" fill="#6a202a"/><polygon points="47.5,53.3 43.9,54.3 44.2,57.0 46.2,57.7 47.6,57.3 47.6,55.6" fill="#892e2f"/><polygon points="47.8,58.1 46.4,58.4 45.3,61.2 47.3,62.6 48.4,61.9 49.1,58.9" fill="#852c2d"/><polygon points="47.1,63.1 45.0,61.5 42.3,62.3 42.8,65.0 46.6,65.0" fill="#822b2d"/><polygon points="48.2,-0.8 49.6,0.9 52.7,-0.6 52.6,-1.0 48.4,-1.0" fill="#6d212a"/><polygon points="50.0,3.2 52.1,4.7 53.8,3.5 54.5,2.3 54.4,1.5 52.8,0.0 50.0,1.4" fill="#611c2a"/><polygon points="52.2,8.8 50.4,11.6 52.7,13.7 53.8,13.6 55.9,11.5 55.7,9.7" fill="#7e292c"/><polygon points="49.3,12.4 47.0,15.5 47.0,15.5 51.5,16.9 52.1,14.2 50.0,12.3" fill="#4e4066"/><polygon points="52.7,14.5 52.2,17.3 52.6,18.7 54.0,18.2 54.6,15.0 53.8,14.3" fill="#7d2d34"/><polygon points="49.0,25.4 50.6,24.4 51.8,22.2 51.4,21.0 48.1,20.6 48.6,25.2" fill="#463a5b"/><polygon points="53.7,26.4 56.5,25.4 54.6,22.9 52.7,22.4 51.4,24.8" fill="#852c2e"/><polygon points="49.2,28.6 50.2,29.2 53.8,28.8 53.5,26.8 50.9,25.1 48.9,26.3" fill="#69202a"/><polygon points="53.9,29.0 50.5,29.5 53.2,33.1 55.4,32.6 55.4,30.7" fill="#76252a"/><polygon points="50.9,35.0 48.1,34.8 47.5,36.8 48.1,38.3 49.1,39.4 49.3,39.4" fill="#822b2d"/><polygon points="50.9,40.1 52.6,38.6 51.5,35.3 51.3,35.4 49.8,39.6" fill="#4d4065"/><polygon points="49.5,45.7 49.6,45.7 51.5,43.5 50.7,40.8 49.4,40.2 49.1,40.1 47.0,42.1 46.3,43.4 48.3,45.3" fill="#661e2a"/><polygon points="48.2,55.7 48.1,57.6 49.5,58.6 53.0,58.3 52.9,57.4 51.8,55.4" fill="#7e292c"/><polygon points="49.6,58.9 48.9,62.0 51.7,63.8 52.6,63.2 53.7,59.3 53.0,58.7" fill="#661e2a"/><polygon points="51.3,64.2 48.7,62.7 47.6,63.4 47.2,65.0 51.0,65.0" fill="#79262a"/><polygon points="55.0,0.9 57.1,-1.0 53.2,-1.0 53.2,-0.7" fill="#852c2e"/><polygon points="57.4,-0.5 55.4,1.3 55.4,2.1 57.6,2.9 60.0,2.3" fill="#631d2a"/><polygon points="57.5,7.5 54.2,4.3 52.4,5.5 52.3,7.3 52.5,8.2 55.8,9.1 57.4,7.8" fill="#611c2a"/><polygon points="57.9,8.2 56.2,9.6 56.4,11.4 57.6,12.2 60.2,10.6" fill="#76252a"/><polygon points="54.3,14.0 55.1,14.6 57.9,16.6 59.0,15.4 57.4,12.7 56.3,11.9" fill="#611c2a"/><polygon points="57.5,17.4 57.6,17.0 55.1,15.2 54.5,18.2" fill="#6d2634"/><polygon points="53.2,21.5 54.9,21.9 57.4,20.3 57.5,18.9 57.2,18.2 54.4,19.0 53.2,19.3 52.8,20.4" fill="#893237"/><polygon points="58.0,20.8 55.2,22.7 57.1,25.2 57.3,25.3 59.3,22.6" fill="#883237"/><polygon points="57.2,25.9 57.0,25.8 53.8,26.8 54.0,28.8 55.6,30.5 58.0,27.1" fill="#661e2a"/><polygon points="58.8,31.7 58.5,28.0 58.0,27.9 56.0,30.7 56.0,32.3 56.2,32.4 58.1,32.6 58.4,32.4" fill="#92363a"/><polygon points="53.4,33.8 52.1,34.8 53.2,38.1 54.0,38.1 55.6,36.7 55.4,33.5 55.3,33.4" fill="#483c5e"/><polygon points="58.4,38.9 56.1,37.3 54.4,38.8 56.0,40.6" fill="#4c3f63"/><polygon points="55.4,41.1 53.9,39.5 53.1,39.5 51.5,40.9 52.1,43.0 55.2,43.6" fill="#4a3d60"/><polygon points="56.0,45.1 54.7,47.9 56.9,48.3 58.1,47.5 57.2,45.4" fill="#4d4065"/><polygon points="56.5,49.1 54.2,48.7 53.8,49.1 54.7,51.3 55.2,51.6" fill="#4c3f64"/><polygon points="53.6,58.1 54.3,58.6 56.1,58.8 57.3,58.2 55.6,53.4 55.5,53.4 53.6,57.3" fill="#8b2e2f"/><polygon points="57.4,63.7 56.2,59.5 54.1,59.4 52.9,63.3 56.0,65.0 56.4,65.0" fill="#80292c"/><polygon points="52.0,65.0 54.9,65.0 52.9,63.9 52.2,64.4" fill="#661f2a"/><polygon points="62.2,2.0 62.4,-0.1 61.7,-1.0 58.0,-1.0 57.9,-0.8 60.4,2.0 61.6,2.2" fill="#7d282b"/><polygon points="60.0,6.2 61.6,2.9 60.3,2.6 57.8,3.3 58.9,6.6" fill="#631d2a"/><polygon points="57.5,3.3 55.2,2.6 54.5,3.9 57.9,7.2 58.6,6.6" fill="#6e222a"/><polygon points="61.2,10.7 62.9,9.0 63.0,8.5 60.1,6.7 59.0,7.1 58.3,7.7 58.2,8.0 60.4,10.4" fill="#621d2a"/><polygon points="58.0,12.5 59.4,15.2 61.6,14.5 61.0,11.4 60.3,11.1" fill="#78262a"/><polygon points="58.5,17.0 58.4,17.5 58.6,18.3 62.7,19.6 62.5,15.3 61.8,15.1 59.5,15.8" fill="#76252a"/><polygon points="62.5,20.0 58.6,18.8 58.5,20.4 59.8,22.2 60.4,22.3 62.5,20.0" fill="#7b272b"/><polygon points="62.3,24.9 60.4,23.0 59.7,22.9 57.7,25.7 58.4,26.8 59.0,27.0 61.2,27.2 62.3,26.6" fill="#833036"/><polygon points="58.9,27.5 59.3,31.6 61.1,29.6 61.2,27.8" fill="#92373a"/><polygon points="61.2,30.1 59.6,32.0 59.2,32.7 63.1,32.6 63.0,32.4" fill="#913639"/><polygon points="56.0,33.2 56.1,36.8 58.8,38.6 59.1,38.6 59.8,35.8 58.2,33.4" fill="#69202a"/><polygon points="65.1,37.8 65.2,37.6 63.9,35.9 60.3,36.1 59.7,38.7 60.7,39.6" fill="#78262a"/><polygon points="60.0,40.3 59.0,39.4 58.7,39.4 56.3,41.1 56.1,43.8 56.2,43.9 57.6,44.3 58.9,43.5 60.0,40.3" fill="#641e2a"/><polygon points="57.7,44.9 58.9,47.6 59.4,48.1 63.6,46.7 63.7,44.9 59.2,44.0" fill="#852c2e"/><polygon points="61.7,55.3 59.4,54.2 58.4,58.0 60.2,58.3" fill="#4d4065"/><polygon points="61.1,60.1 60.1,59.3 58.1,58.9 58.0,59.0 56.8,59.6 57.8,63.4 60.6,63.4" fill="#483b5e"/><polygon points="60.6,64.2 57.8,64.2 57.2,65.0 61.2,65.0" fill="#4c3f63"/><polygon points="62.9,-0.4 63.9,-1.0 62.4,-1.0" fill="#74242a"/><polygon points="63.4,2.2 66.0,3.8 67.5,3.1 67.5,3.0 67.5,2.2 65.0,-0.3 63.6,0.5" fill="#96372a"/><polygon points="63.3,8.3 65.4,6.9 66.0,4.6 62.6,2.6 62.0,2.9 60.2,6.4" fill="#882d2e"/><polygon points="65.6,12.1 67.2,9.7 65.5,7.5 63.7,8.7 63.6,9.2" fill="#872d2e"/><polygon points="62.9,14.6 64.7,14.4 65.0,14.1 65.3,13.7 65.3,12.7 63.2,9.6 61.6,11.2 62.2,14.4" fill="#671f2a"/><polygon points="66.3,19.0 64.9,15.2 63.1,15.5 63.2,19.6 63.2,19.6 65.2,20.5" fill="#6c212a"/><polygon points="63.0,20.4 60.9,22.6 62.7,24.4 65.1,22.0 64.9,21.2" fill="#72232a"/><polygon points="64.0,27.2 66.1,25.8 67.0,23.3 65.5,22.0 62.7,24.8 62.8,26.8 63.3,27.0" fill="#601c2a"/><polygon points="63.6,32.2 63.7,32.5 63.9,32.6 66.0,30.8 65.9,29.5 64.1,27.7 63.5,27.5" fill="#92373a"/><polygon points="62.6,27.4 61.7,27.9 61.5,29.6 63.2,31.9 63.1,27.6" fill="#702734"/><polygon points="58.8,33.4 60.2,35.6 63.7,35.3 63.4,33.2 63.2,33.1 59.2,33.1" fill="#6d212a"/><polygon points="64.1,43.3 65.2,38.4 61.1,40.1 61.1,40.1" fill="#661f2a"/><polygon points="59.6,43.7 63.4,44.4 63.7,43.9 63.7,43.7 60.7,40.6" fill="#872d2e"/><polygon points="64.1,46.7 65.5,49.0 65.5,49.0 67.8,47.0 67.2,44.5 64.6,44.6 64.2,45.1" fill="#842b2d"/><polygon points="65.5,50.1 65.4,50.0 63.5,51.5 63.6,54.4 65.9,55.5 67.5,53.5 67.6,53.3 67.7,52.2" fill="#7d282b"/><polygon points="66.0,64.2 65.2,63.4 62.8,65.0 65.3,65.0" fill="#4a3d60"/><polygon points="68.2,1.6 68.8,-1.0 65.6,-1.0" fill="#8a3127"/><polygon points="69.0,1.7 69.0,2.6 71.8,1.2 71.6,-1.0 69.6,-1.0" fill="#96372b"/><polygon points="68.9,9.2 69.6,8.9 69.8,6.6 69.6,5.4 68.3,4.4 66.6,5.1 66.1,6.9 67.7,9.0" fill="#782a25"/><polygon points="65.9,13.6 69.0,12.8 69.0,10.1 67.6,10.0 66.0,12.6" fill="#6f222a"/><polygon points="70.5,16.6 72.0,14.8 69.2,13.2 66.0,14.0 65.8,14.4" fill="#6f222a"/><polygon points="66.9,18.6 69.6,18.2 69.9,16.9 66.0,15.1 65.7,15.4" fill="#752a34"/><polygon points="66.2,21.7 67.4,22.6 68.9,22.9 70.2,20.0 69.7,19.3 67.0,19.7 66.1,21.0" fill="#672434"/><polygon points="70.1,25.4 69.1,23.9 67.4,23.6 66.6,25.7 69.3,26.9 70.2,26.4 70.3,26.2" fill="#641e2a"/><polygon points="66.2,29.3 68.8,27.7 69.2,27.4 66.2,26.0 64.2,27.3" fill="#7f292c"/><polygon points="66.5,30.8 69.2,32.5 68.9,28.1 66.5,29.6" fill="#73242a"/><polygon points="64.1,33.1 64.4,35.5 65.9,37.4 67.1,37.4 69.6,34.5 69.6,33.4 69.2,33.0 66.3,31.2" fill="#882d2e"/><polygon points="69.4,39.6 71.9,38.8 73.0,36.9 72.9,36.4 70.0,35.0 67.6,37.6" fill="#76252a"/><polygon points="64.5,43.9 67.4,43.8 69.4,42.4 69.0,40.2 67.1,38.0 65.9,38.0 65.8,38.1 64.5,43.7" fill="#822b2d"/><polygon points="71.4,45.9 71.7,44.3 69.7,43.0 67.9,44.2 68.4,46.8 69.7,46.9" fill="#8a2e2f"/><polygon points="69.4,47.7 68.2,47.6 66.0,49.5 68.1,51.7 69.8,50.7" fill="#71232a"/><polygon points="68.4,52.2 68.3,53.3 73.3,54.9 73.7,54.6 71.9,51.0 70.2,51.2" fill="#862d2e"/><polygon points="68.7,64.1 69.9,62.3 69.0,60.5 66.6,59.8 66.0,60.3 66.1,62.6 66.9,63.4 68.4,64.2" fill="#4d3f64"/><polygon points="72.4,1.5 75.2,2.4 75.5,1.3 73.5,-1.0 72.2,-1.0" fill="#882d2e"/><polygon points="75.0,2.7 72.3,1.9 69.0,3.5 68.9,3.6 70.3,4.8 74.3,4.8 74.6,4.1 75.0,2.8" fill="#7d282b"/><polygon points="70.5,5.2 70.8,6.5 74.8,8.8 75.0,8.5 74.3,5.2" fill="#832b2d"/><polygon points="70.4,6.6 70.1,9.5 74.1,11.1 75.1,9.2" fill="#6c212a"/><polygon points="70.1,9.7 69.3,10.0 69.3,12.9 72.3,14.6 73.0,14.2 74.0,11.4 74.0,11.2" fill="#842c2d"/><polygon points="75.8,17.9 75.8,17.0 73.1,14.6 72.4,14.9 70.9,16.9 70.5,18.6 71.0,19.6 73.4,20.5" fill="#621d2a"/><polygon points="73.2,20.9 71.0,20.1 69.5,23.4 70.7,25.0 73.7,22.0" fill="#7e2d34"/><polygon points="71.1,25.3 71.3,26.0 76.2,25.1 76.1,24.4 75.7,23.5 74.0,22.4" fill="#6e222a"/><polygon points="69.2,28.0 69.6,32.6 70.0,33.0 72.8,30.4 70.7,27.0 69.6,27.6" fill="#611d2a"/><polygon points="74.2,31.1 73.7,35.6 75.2,34.8 75.2,31.1" fill="#671f2a"/><polygon points="72.9,31.0 70.4,33.4 70.3,34.3 73.2,35.6 73.2,35.6 73.7,31.1" fill="#621d2a"/><polygon points="76.1,39.3 73.6,37.0 72.3,39.1 75.4,41.6 76.5,40.9" fill="#7f292c"/><polygon points="75.1,45.8 73.9,44.4 72.6,44.8 72.3,46.1 73.4,48.5 73.4,48.5 74.5,47.4" fill="#483c5e"/><polygon points="71.9,50.6 73.2,49.3 71.7,46.3 69.8,47.4 70.2,50.8" fill="#76252a"/><polygon points="76.9,51.6 73.6,49.9 73.6,49.9 72.4,51.0 74.1,54.2 74.1,54.2" fill="#681f2a"/><polygon points="68.5,53.7 68.4,54.0 71.4,57.4 71.6,57.3 73.1,55.2" fill="#74242a"/><polygon points="71.6,58.2 70.0,60.0 71.0,62.2 73.6,62.5 74.4,62.3 74.4,62.3 74.9,60.3 71.9,58.1" fill="#8c2f2f"/><polygon points="73.5,63.2 70.9,62.8 69.5,64.8 69.7,65.0 73.0,65.0" fill="#4b3e62"/><polygon points="75.7,1.1 77.1,-0.4 77.4,-1.0 73.8,-1.0" fill="#842c2d"/><polygon points="79.1,3.2 79.7,2.5 77.3,0.0 76.0,1.5 75.7,2.5 75.8,2.6" fill="#72232a"/><polygon points="75.0,5.3 75.7,8.6 78.8,8.1 79.2,7.8 79.4,6.6 79.3,6.2 75.3,4.6" fill="#6e222a"/><polygon points="75.3,9.3 74.4,11.2 74.4,11.3 78.4,13.0 79.6,11.7 79.0,8.5 75.5,9.0" fill="#601c2a"/><polygon points="78.2,13.3 74.4,11.6 73.5,14.3 76.0,16.7 78.9,15.5" fill="#6d222a"/><polygon points="78.0,19.8 79.7,19.8 80.1,16.3 79.1,16.0 76.4,17.1 76.4,17.9" fill="#641e2a"/><polygon points="76.1,23.1 77.7,20.2 76.0,18.2 73.7,20.7 74.2,21.8" fill="#8d2f30"/><polygon points="82.6,22.1 80.9,21.2 76.7,24.3 76.9,25.2 77.8,26.3 78.1,26.1" fill="#6a202a"/><polygon points="76.6,25.4 71.0,26.5 70.9,26.8 73.2,30.3 74.1,30.4 75.3,30.4 76.7,29.8 77.3,28.6 77.5,26.5" fill="#70232a"/><polygon points="77.5,31.2 76.8,30.3 75.5,30.8 75.5,35.0 77.4,35.5 77.6,35.4" fill="#74242a"/><polygon points="75.4,35.4 73.7,36.2 73.6,36.2 73.7,36.9 76.1,39.0 77.3,35.9" fill="#8d3030"/><polygon points="77.6,36.0 76.3,39.2 76.8,40.8 78.5,41.0 80.7,36.5 77.7,36.0" fill="#71232a"/><polygon points="78.6,47.4 77.8,46.5 75.9,45.9 75.2,47.8 78.2,48.4" fill="#4d4064"/><polygon points="75.0,48.0 73.6,49.4 77.4,51.4 78.1,51.2 78.3,48.7" fill="#842b2d"/><polygon points="75.9,56.3 79.7,53.0 79.5,52.5 78.1,51.5 77.5,51.6 74.1,54.8" fill="#78262a"/><polygon points="74.1,55.3 73.7,55.6 72.3,57.6 75.2,59.8 76.6,58.2 75.6,56.7 74.1,55.3" fill="#611c2a"/><polygon points="75.0,62.5 79.1,62.5 80.1,58.5 77.2,58.6 75.5,60.3" fill="#601c2a"/><polygon points="74.8,62.9 73.9,63.2 73.4,65.0 75.8,65.0" fill="#69202a"/><polygon points="75.5,4.2 79.3,5.7 78.9,3.6 75.9,3.0" fill="#882d2e"/><polygon points="80.4,15.4 81.2,15.2 82.0,13.1 79.9,12.4 79.0,13.4 79.6,15.1" fill="#732825"/><polygon points="80.2,19.9 81.1,20.7 82.6,21.4 83.1,21.4 83.2,18.9 82.7,17.1 81.5,16.3 80.6,16.6" fill="#7a272a"/><polygon points="76.7,24.2 80.8,21.1 79.8,20.2 78.0,20.2 76.2,23.3" fill="#852c2e"/><polygon points="83.3,26.5 84.2,24.3 84.1,23.0 83.2,22.4 82.7,22.4 78.6,26.0" fill="#70232a"/><polygon points="78.0,26.5 77.8,28.6 83.6,29.6 83.2,26.9 78.3,26.4" fill="#71232a"/><polygon points="77.5,30.1 78.2,30.9 81.8,33.2 82.4,32.7 83.3,30.1 83.3,30.0 78.1,29.1" fill="#631d2a"/><polygon points="79.1,41.0 79.2,41.1 81.8,42.3 84.3,39.4 84.2,39.3 81.1,36.9 81.1,36.9" fill="#504269"/><polygon points="80.9,46.1 81.9,44.6 81.4,43.3 79.0,42.2 78.5,45.9 79.2,46.7" fill="#4c3f63"/><polygon points="85.1,48.0 85.3,46.8 84.3,45.6 82.8,45.3 81.9,46.6 82.8,48.0" fill="#4b3e63"/><polygon points="78.6,51.0 79.7,51.8 81.9,50.1 82.0,48.7 81.0,47.2 79.2,47.9 78.9,48.8" fill="#473b5d"/><polygon points="81.1,64.9 82.7,60.5 81.2,58.4 80.4,58.8 79.5,62.5" fill="#4d4065"/><polygon points="79.1,62.9 75.1,62.9 75.1,62.9 76.2,65.0 80.5,65.0" fill="#6d212a"/><polygon points="86.1,8.2 83.9,9.6 83.8,11.9 86.6,12.8 87.1,12.0 87.2,11.2 87.2,8.8" fill="#873026"/><polygon points="83.4,12.8 83.0,13.1 82.1,15.5 83.2,16.2 86.5,15.0 86.3,13.8" fill="#782a25"/><polygon points="87.1,15.3 83.0,16.7 83.7,18.7 87.2,17.3 87.2,15.5" fill="#8b2f2f"/><polygon points="84.0,19.1 83.8,21.6 84.7,22.1 85.5,21.8 87.2,19.1 87.2,17.7" fill="#7b272b"/><polygon points="85.6,22.4 84.6,22.8 84.7,24.2 87.2,26.1 87.2,22.7" fill="#6d212a"/><polygon points="84.7,24.5 83.7,26.9 84.0,29.6 84.1,29.7 87.2,29.7 87.2,26.4" fill="#882d2e"/><polygon points="87.1,35.9 85.4,39.0 85.5,39.1 87.2,40.0 87.2,35.8" fill="#4d4065"/><polygon points="84.8,39.9 82.5,42.7 83.0,44.1 84.6,44.5 87.2,42.0 87.2,41.3" fill="#463a5c"/><polygon points="86.5,47.3 86.3,48.4 86.8,50.3 87.2,50.0 87.2,47.1" fill="#463a5b"/><polygon points="82.9,50.2 85.8,51.1 85.9,50.7 85.3,48.9 83.0,48.9" fill="#473b5d"/><polygon points="86.6,52.8 84.6,55.4 87.1,57.4 87.2,57.3 87.2,53.0" fill="#4b3e63"/><polygon points="85.2,60.7 86.3,59.0 86.3,58.0 84.1,56.3 82.7,56.7 82.0,58.0 83.4,59.8" fill="#4f4167"/><polygon points="85.7,63.8 85.0,62.1 83.2,61.3 81.9,64.9 81.9,65.0 83.5,65.0" fill="#493d60"/><polygon points="86.8,64.8 86.3,64.7 85.7,65.0 86.9,65.0" fill="#514369"/><polygon points="85.7,22.2 87.2,22.4 87.2,19.8" fill="#661f2a"/><polygon points="85.4,44.9 86.5,46.1 87.2,46.0 87.2,43.1" fill="#473b5d"/><polygon points="87.2,51.4 87.2,51.5 87.2,51.4" fill="#504269"/></g></svg></div>
<div class="im" style="left:256px;top:93.3px;width:86.4px;height:64.0px"><svg width="86.4" height="64.0" viewBox="0 0 86.4 64.0" style="position:absolute;left:0;top:0"><defs><filter id="bl3" x="-20%" y="-20%" width="140%" height="140%"><feGaussianBlur stdDeviation="1.8"/></filter><filter id="cb3" x="-5%" y="-5%" width="110%" height="110%"><feGaussianBlur stdDeviation="0.75"/></filter></defs><g filter="url(#bl3)"><rect x="-12.0" y="-12.0" width="12.0" height="12.0" fill="#918a8a"/><rect x="0.0" y="-12.0" width="7.8" height="12.0" fill="#918a8a"/><rect x="7.2" y="-12.0" width="7.8" height="12.0" fill="#918a8a"/><rect x="14.4" y="-12.0" width="7.8" height="12.0" fill="#969696"/><rect x="21.6" y="-12.0" width="7.8" height="12.0" fill="#918a8a"/><rect x="28.8" y="-12.0" width="7.8" height="12.0" fill="#969696"/><rect x="36.0" y="-12.0" width="7.8" height="12.0" fill="#969696"/><rect x="43.2" y="-12.0" width="7.8" height="12.0" fill="#969696"/><rect x="50.4" y="-12.0" width="7.8" height="12.0" fill="#969696"/><rect x="57.6" y="-12.0" width="7.8" height="12.0" fill="#a5a5a5"/><rect x="64.8" y="-12.0" width="7.8" height="12.0" fill="#acb6cd"/><rect x="72.0" y="-12.0" width="7.8" height="12.0" fill="#c0e2de"/><rect x="79.2" y="-12.0" width="7.8" height="12.0" fill="#c0e2de"/><rect x="86.4" y="-12.0" width="12.0" height="12.0" fill="#c0e2de"/><rect x="-12.0" y="0.0" width="12.0" height="8.6" fill="#918a8a"/><rect x="0.0" y="0.0" width="7.8" height="8.6" fill="#918a8a"/><rect x="7.2" y="0.0" width="7.8" height="8.6" fill="#918a8a"/><rect x="14.4" y="0.0" width="7.8" height="8.6" fill="#969696"/><rect x="21.6" y="0.0" width="7.8" height="8.6" fill="#918a8a"/><rect x="28.8" y="0.0" width="7.8" height="8.6" fill="#969696"/><rect x="36.0" y="0.0" width="7.8" height="8.6" fill="#969696"/><rect x="43.2" y="0.0" width="7.8" height="8.6" fill="#969696"/><rect x="50.4" y="0.0" width="7.8" height="8.6" fill="#969696"/><rect x="57.6" y="0.0" width="7.8" height="8.6" fill="#a5a5a5"/><rect x="64.8" y="0.0" width="7.8" height="8.6" fill="#acb6cd"/><rect x="72.0" y="0.0" width="7.8" height="8.6" fill="#c0e2de"/><rect x="79.2" y="0.0" width="7.8" height="8.6" fill="#c0e2de"/><rect x="86.4" y="0.0" width="12.0" height="8.6" fill="#c0e2de"/><rect x="-12.0" y="8.0" width="12.0" height="8.6" fill="#a5a5a5"/><rect x="0.0" y="8.0" width="7.8" height="8.6" fill="#a5a5a5"/><rect x="7.2" y="8.0" width="7.8" height="8.6" fill="#a5a5a5"/><rect x="14.4" y="8.0" width="7.8" height="8.6" fill="#969696"/><rect x="21.6" y="8.0" width="7.8" height="8.6" fill="#969696"/><rect x="28.8" y="8.0" width="7.8" height="8.6" fill="#969696"/><rect x="36.0" y="8.0" width="7.8" height="8.6" fill="#969696"/><rect x="43.2" y="8.0" width="7.8" height="8.6" fill="#969696"/><rect x="50.4" y="8.0" width="7.8" height="8.6" fill="#969696"/><rect x="57.6" y="8.0" width="7.8" height="8.6" fill="#a5a5a5"/><rect x="64.8" y="8.0" width="7.8" height="8.6" fill="#a5a5a5"/><rect x="72.0" y="8.0" width="7.8" height="8.6" fill="#969696"/><rect x="79.2" y="8.0" width="7.8" height="8.6" fill="#a5a5a5"/><rect x="86.4" y="8.0" width="12.0" height="8.6" fill="#a5a5a5"/><rect x="-12.0" y="16.0" width="12.0" height="8.6" fill="#969696"/><rect x="0.0" y="16.0" width="7.8" height="8.6" fill="#969696"/><rect x="7.2" y="16.0" width="7.8" height="8.6" fill="#969696"/><rect x="14.4" y="16.0" width="7.8" height="8.6" fill="#969696"/><rect x="21.6" y="16.0" width="7.8" height="8.6" fill="#969696"/><rect x="28.8" y="16.0" width="7.8" height="8.6" fill="#969696"/><rect x="36.0" y="16.0" width="7.8" height="8.6" fill="#969696"/><rect x="43.2" y="16.0" width="7.8" height="8.6" fill="#969696"/><rect x="50.4" y="16.0" width="7.8" height="8.6" fill="#969696"/><rect x="57.6" y="16.0" width="7.8" height="8.6" fill="#969696"/><rect x="64.8" y="16.0" width="7.8" height="8.6" fill="#918a8a"/><rect x="72.0" y="16.0" width="7.8" height="8.6" fill="#918a8a"/><rect x="79.2" y="16.0" width="7.8" height="8.6" fill="#969696"/><rect x="86.4" y="16.0" width="12.0" height="8.6" fill="#969696"/><rect x="-12.0" y="24.0" width="12.0" height="8.6" fill="#969696"/><rect x="0.0" y="24.0" width="7.8" height="8.6" fill="#969696"/><rect x="7.2" y="24.0" width="7.8" height="8.6" fill="#969696"/><rect x="14.4" y="24.0" width="7.8" height="8.6" fill="#969696"/><rect x="21.6" y="24.0" width="7.8" height="8.6" fill="#918a8a"/><rect x="28.8" y="24.0" width="7.8" height="8.6" fill="#969696"/><rect x="36.0" y="24.0" width="7.8" height="8.6" fill="#969696"/><rect x="43.2" y="24.0" width="7.8" height="8.6" fill="#969696"/><rect x="50.4" y="24.0" width="7.8" height="8.6" fill="#969696"/><rect x="57.6" y="24.0" width="7.8" height="8.6" fill="#969696"/><rect x="64.8" y="24.0" width="7.8" height="8.6" fill="#918a8a"/><rect x="72.0" y="24.0" width="7.8" height="8.6" fill="#918a8a"/><rect x="79.2" y="24.0" width="7.8" height="8.6" fill="#969696"/><rect x="86.4" y="24.0" width="12.0" height="8.6" fill="#969696"/><rect x="-12.0" y="32.0" width="12.0" height="8.6" fill="#969696"/><rect x="0.0" y="32.0" width="7.8" height="8.6" fill="#969696"/><rect x="7.2" y="32.0" width="7.8" height="8.6" fill="#969696"/><rect x="14.4" y="32.0" width="7.8" height="8.6" fill="#969696"/><rect x="21.6" y="32.0" width="7.8" height="8.6" fill="#969696"/><rect x="28.8" y="32.0" width="7.8" height="8.6" fill="#969696"/><rect x="36.0" y="32.0" width="7.8" height="8.6" fill="#a5a5a5"/><rect x="43.2" y="32.0" width="7.8" height="8.6" fill="#969696"/><rect x="50.4" y="32.0" width="7.8" height="8.6" fill="#969696"/><rect x="57.6" y="32.0" width="7.8" height="8.6" fill="#969696"/><rect x="64.8" y="32.0" width="7.8" height="8.6" fill="#969696"/><rect x="72.0" y="32.0" width="7.8" height="8.6" fill="#969696"/><rect x="79.2" y="32.0" width="7.8" height="8.6" fill="#969696"/><rect x="86.4" y="32.0" width="12.0" height="8.6" fill="#969696"/><rect x="-12.0" y="40.0" width="12.0" height="8.6" fill="#969696"/><rect x="0.0" y="40.0" width="7.8" height="8.6" fill="#969696"/><rect x="7.2" y="40.0" width="7.8" height="8.6" fill="#969696"/><rect x="14.4" y="40.0" width="7.8" height="8.6" fill="#969696"/><rect x="21.6" y="40.0" width="7.8" height="8.6" fill="#969696"/><rect x="28.8" y="40.0" width="7.8" height="8.6" fill="#969696"/><rect x="36.0" y="40.0" width="7.8" height="8.6" fill="#a5a5a5"/><rect x="43.2" y="40.0" width="7.8" height="8.6" fill="#969696"/><rect x="50.4" y="40.0" width="7.8" height="8.6" fill="#969696"/><rect x="57.6" y="40.0" width="7.8" height="8.6" fill="#a5a5a5"/><rect x="64.8" y="40.0" width="7.8" height="8.6" fill="#969696"/><rect x="72.0" y="40.0" width="7.8" height="8.6" fill="#969696"/><rect x="79.2" y="40.0" width="7.8" height="8.6" fill="#969696"/><rect x="86.4" y="40.0" width="12.0" height="8.6" fill="#969696"/><rect x="-12.0" y="48.0" width="12.0" height="8.6" fill="#acb6cd"/><rect x="0.0" y="48.0" width="7.8" height="8.6" fill="#acb6cd"/><rect x="7.2" y="48.0" width="7.8" height="8.6" fill="#969696"/><rect x="14.4" y="48.0" width="7.8" height="8.6" fill="#969696"/><rect x="21.6" y="48.0" width="7.8" height="8.6" fill="#969696"/><rect x="28.8" y="48.0" width="7.8" height="8.6" fill="#969696"/><rect x="36.0" y="48.0" width="7.8" height="8.6" fill="#969696"/><rect x="43.2" y="48.0" width="7.8" height="8.6" fill="#969696"/><rect x="50.4" y="48.0" width="7.8" height="8.6" fill="#969696"/><rect x="57.6" y="48.0" width="7.8" height="8.6" fill="#969696"/><rect x="64.8" y="48.0" width="7.8" height="8.6" fill="#969696"/><rect x="72.0" y="48.0" width="7.8" height="8.6" fill="#969696"/><rect x="79.2" y="48.0" width="7.8" height="8.6" fill="#969696"/><rect x="86.4" y="48.0" width="12.0" height="8.6" fill="#969696"/><rect x="-12.0" y="56.0" width="12.0" height="8.6" fill="#8c8cac"/><rect x="0.0" y="56.0" width="7.8" height="8.6" fill="#8c8cac"/><rect x="7.2" y="56.0" width="7.8" height="8.6" fill="#969696"/><rect x="14.4" y="56.0" width="7.8" height="8.6" fill="#969696"/><rect x="21.6" y="56.0" width="7.8" height="8.6" fill="#969696"/><rect x="28.8" y="56.0" width="7.8" height="8.6" fill="#969696"/><rect x="36.0" y="56.0" width="7.8" height="8.6" fill="#969696"/><rect x="43.2" y="56.0" width="7.8" height="8.6" fill="#969696"/><rect x="50.4" y="56.0" width="7.8" height="8.6" fill="#969696"/><rect x="57.6" y="56.0" width="7.8" height="8.6" fill="#969696"/><rect x="64.8" y="56.0" width="7.8" height="8.6" fill="#969696"/><rect x="72.0" y="56.0" width="7.8" height="8.6" fill="#969696"/><rect x="79.2" y="56.0" width="7.8" height="8.6" fill="#969696"/><rect x="86.4" y="56.0" width="12.0" height="8.6" fill="#969696"/><rect x="-12.0" y="64.0" width="12.0" height="12.0" fill="#8c8cac"/><rect x="0.0" y="64.0" width="7.8" height="12.0" fill="#8c8cac"/><rect x="7.2" y="64.0" width="7.8" height="12.0" fill="#969696"/><rect x="14.4" y="64.0" width="7.8" height="12.0" fill="#969696"/><rect x="21.6" y="64.0" width="7.8" height="12.0" fill="#969696"/><rect x="28.8" y="64.0" width="7.8" height="12.0" fill="#969696"/><rect x="36.0" y="64.0" width="7.8" height="12.0" fill="#969696"/><rect x="43.2" y="64.0" width="7.8" height="12.0" fill="#969696"/><rect x="50.4" y="64.0" width="7.8" height="12.0" fill="#969696"/><rect x="57.6" y="64.0" width="7.8" height="12.0" fill="#969696"/><rect x="64.8" y="64.0" width="7.8" height="12.0" fill="#969696"/><rect x="72.0" y="64.0" width="7.8" height="12.0" fill="#969696"/><rect x="79.2" y="64.0" width="7.8" height="12.0" fill="#969696"/><rect x="86.4" y="64.0" width="12.0" height="12.0" fill="#969696"/><ellipse cx="20.2" cy="4.4" rx="1.8" ry="1.8" fill="#c0e2de"/><ellipse cx="21.2" cy="18.9" rx="3" ry="3" fill="#c0e2de"/><ellipse cx="33.2" cy="13.7" rx="3.2" ry="2.6" fill="#c0e2de"/><ellipse cx="51.3" cy="25.1" rx="2.2" ry="2" fill="#c0e2de"/><ellipse cx="26.7" cy="42.4" rx="3.2" ry="4.3" fill="#c0e2de"/><ellipse cx="22.4" cy="62.1" rx="3.5" ry="2.2" fill="#c0e2de"/><ellipse cx="53.7" cy="42.4" rx="3" ry="2" fill="#c0e2de"/></g><g filter="url(#cb3)" stroke-linejoin="round"><polygon points="78.0,-1.0 72.3,-1.0 72.3,-0.8 72.9,1.4 73.2,1.5 74.8,1.9 77.4,1.6" fill="none" stroke="#8ca5aa" stroke-width="0.7"/><polygon points="-1.0,-0.1 -1.0,3.9 -0.2,3.8 -0.2,-0.3" fill="#7c2a21"/><polygon points="-0.9,13.6 1.1,13.4 0.8,9.4 -1.0,9.3 -1.0,13.6" fill="#7c2c25"/><polygon points="-0.3,20.3 -0.4,19.7 -1.0,19.2 -1.0,20.5" fill="#873025"/><polygon points="-1.0,27.4 -0.2,26.3 -0.1,25.1 -1.0,24.7 -1.0,27.4" fill="#7a2a21"/><polygon points="-1.0,32.6 0.4,30.2 -0.7,28.1 -1.0,28.1 -1.0,32.5" fill="#862f24"/><polygon points="-1.0,32.9 -1.0,32.9 -1.0,32.9" fill="#601f20"/><polygon points="-0.3,-0.7 0.4,-1.0 -1.0,-1.0 -1.0,-0.4" fill="#762720"/><polygon points="0.0,3.8 4.1,4.4 4.1,4.3 3.0,-0.6 1.8,-1.0 1.4,-1.0 0.1,-0.3" fill="#7f2b22"/><polygon points="-1.0,4.3 -1.0,8.4 1.2,8.5 2.0,8.1 3.9,4.7 -0.1,4.1" fill="#66201e"/><polygon points="4.9,11.1 2.3,8.9 1.6,9.3 1.9,13.6 2.6,14.1" fill="#7b2b25"/><polygon points="1.4,14.5 -0.8,14.7 -1.0,15.0 -1.0,18.2 0.1,19.3 2.4,15.3 2.2,15.0" fill="#7b2a21"/><polygon points="7.0,17.7 1.8,21.2 2.0,21.9 4.3,22.5 8.8,18.8 8.8,18.6 8.0,17.8" fill="#5f1e20"/><polygon points="0.2,24.5 0.9,22.3 0.7,21.6 -0.0,20.8 -1.0,21.2 -1.0,24.0" fill="#7a2a21"/><polygon points="7.3,26.9 0.5,26.5 -0.4,27.9 0.8,30.1 4.5,31.7 5.3,31.3 7.5,27.6 7.4,27.0" fill="#802c23"/><polygon points="-0.8,36.4 3.0,36.0 4.4,31.9 0.7,30.4 -0.7,32.9 -1.0,35.2 -1.0,36.3" fill="#852f24"/><polygon points="-0.6,38.5 1.6,42.1 4.2,40.9 4.2,37.8 2.9,36.4 -0.7,36.8" fill="#862f24"/><polygon points="0.9,42.6 1.0,42.4 -1.0,39.1 -1.0,39.2 -1.0,43.7" fill="#672220"/><polygon points="3.8,47.0 1.4,43.1 -1.0,44.5 -1.0,46.0 2.5,48.8 2.8,48.8" fill="#632020"/><polygon points="2.4,50.6 0.1,52.2 1.8,53.8 4.1,52.4 2.6,50.6" fill="#6d638a"/><polygon points="5.9,54.6 5.6,54.0 5.3,53.9 2.8,55.4 2.8,57.1 5.8,57.1" fill="#766b96"/><polygon points="-0.4,61.5 0.3,58.9 -1.0,58.2 -1.0,61.9" fill="#5e4f71"/><polygon points="5.1,64.9 4.9,64.0 0.4,62.7 -0.2,63.1 -0.5,65.0 -0.4,65.0 5.1,65.0" fill="#5e4f72"/><polygon points="9.1,-1.0 3.7,-1.0 3.3,-0.7 4.4,4.3 5.8,4.5 6.3,4.5 9.2,-0.5" fill="#75261f"/><polygon points="9.4,-0.3 6.5,4.5 7.7,4.8 11.1,1.6" fill="#5e1d1e"/><polygon points="4.3,5.1 2.5,8.3 5.4,10.5 6.9,10.6 5.6,5.3 4.4,5.1" fill="#7c2921"/><polygon points="3.3,15.0 7.2,16.8 8.1,16.9 8.5,12.2 7.1,11.5 5.6,11.4 3.1,14.6" fill="#863026"/><polygon points="0.4,19.6 0.5,20.2 1.3,21.1 6.9,17.3 2.8,15.4" fill="#8c3226"/><polygon points="8.3,25.5 9.5,19.5 9.2,19.0 4.5,22.9 7.5,26.4 7.6,26.4" fill="#792921"/><polygon points="1.0,24.9 0.9,26.2 6.8,26.5 4.0,23.3 1.7,22.7" fill="#832e24"/><polygon points="8.0,28.2 6.0,31.4 6.7,32.0 10.6,33.8 12.6,31.7 12.4,31.1" fill="#8a3126"/><polygon points="6.0,32.5 5.4,31.9 4.6,32.2 3.3,36.0 4.5,37.3 7.1,36.7" fill="#652120"/><polygon points="4.6,37.7 4.5,41.0 7.4,42.4 10.0,37.5 7.3,37.1" fill="#762820"/><polygon points="6.0,45.8 7.0,42.9 7.0,42.8 4.4,41.6 2.1,42.7 2.0,42.9 4.2,46.6" fill="#832e24"/><polygon points="12.0,47.6 11.4,44.8 10.9,44.0 7.6,42.9 6.5,46.1 9.9,49.2 11.8,48.7" fill="#742720"/><polygon points="10.9,57.9 10.8,55.0 7.2,54.2 7.0,57.9 8.0,59.2" fill="#702620"/><polygon points="7.0,60.9 7.1,59.8 6.2,58.6 2.1,58.7 1.7,59.1 0.9,61.9 5.1,63.1" fill="#65557b"/><polygon points="6.6,65.0 11.0,65.0 11.3,64.4 11.0,63.6 8.0,61.6 6.0,63.8 6.2,64.7" fill="#7e2c22"/><polygon points="13.2,2.3 14.6,1.4 12.8,-1.0 9.4,-1.0 9.6,-0.6 11.4,1.4" fill="#5d1c1e"/><polygon points="7.8,5.0 10.7,6.7 12.8,4.7 13.1,2.6 11.3,1.8" fill="#7d2a22"/><polygon points="6.6,5.2 6.1,5.2 7.4,10.8 8.8,11.4 10.8,9.7 10.4,7.2 7.7,5.5" fill="#7e2c25"/><polygon points="12.3,10.4 14.8,13.9 16.9,13.0 16.3,9.4" fill="#812d23"/><polygon points="10.0,18.5 10.0,18.6 10.3,19.1 15.2,22.2 15.7,22.0 17.5,19.2 14.0,16.4" fill="#893125"/><polygon points="15.2,22.6 9.8,19.3 8.7,25.7 14.2,25.2" fill="#622020"/><polygon points="13.9,25.7 9.0,26.1 8.2,27.0 8.3,27.6 12.8,30.5 14.3,27.1" fill="#652120"/><polygon points="6.4,32.4 7.5,36.7 10.0,37.2 10.1,37.1 10.7,34.4" fill="#622020"/><polygon points="11.1,34.4 10.6,37.2 13.6,39.1 14.1,39.1 15.2,34.9 15.0,32.9 13.3,32.2" fill="#742720"/><polygon points="10.4,38.0 10.2,38.1 8.1,42.2 8.1,42.3 10.9,43.3 13.1,39.7" fill="#5f1e20"/><polygon points="11.8,44.8 12.4,47.5 16.9,45.2 16.3,43.1" fill="#6c2420"/><polygon points="12.0,53.7 11.7,49.4 11.6,49.4 9.9,49.8 7.0,52.6 7.4,53.5 10.9,54.4" fill="#682220"/><polygon points="12.2,57.9 14.4,55.1 12.4,54.3 11.4,55.0 11.5,57.8" fill="#762820"/><polygon points="13.6,60.0 11.9,58.7 11.2,58.5 8.4,59.8 8.3,60.9 11.4,62.9" fill="#611f20"/><polygon points="13.7,64.6 17.9,62.2 16.7,60.9 15.0,60.2 14.2,60.2 11.8,63.3 12.1,64.3" fill="#792a21"/><polygon points="14.8,1.2 16.1,0.7 16.4,-0.9 16.4,-1.0 13.2,-1.0" fill="#752820"/><polygon points="15.9,6.0 17.9,2.9 16.2,1.5 15.0,1.9 13.8,2.7 13.5,4.5" fill="#732720"/><polygon points="10.8,7.0 11.3,9.8 11.8,10.0 16.4,8.9 16.5,8.9 15.8,6.7 13.0,4.9" fill="#581a1e"/><polygon points="17.4,13.2 18.9,13.8 22.3,9.2 21.5,8.1 16.8,9.1 16.8,9.1" fill="#662120"/><polygon points="14.3,16.0 17.9,18.9 18.1,18.8 19.7,15.6 18.8,14.2 17.3,13.6 15.0,14.6" fill="#672220"/><polygon points="16.5,27.2 19.7,24.6 16.0,22.6 15.5,22.8 14.6,25.3 15.0,26.8" fill="#621f20"/><polygon points="20.3,30.1 16.5,27.6 14.9,27.2 13.3,31.0 13.5,31.7 15.3,32.5 18.8,32.1 20.0,31.2" fill="#6b2320"/><polygon points="15.6,33.0 15.8,34.8 19.0,37.9 19.0,37.9 18.8,32.7" fill="#6c2420"/><polygon points="19.0,38.5 15.5,35.3 14.5,39.2 16.7,40.1 18.6,39.4" fill="#772820"/><polygon points="14.2,39.9 13.7,39.9 11.6,43.5 12.1,44.2 16.0,42.7 16.2,40.8" fill="#7f2c23"/><polygon points="12.9,47.8 12.7,48.8 12.8,48.8 17.5,50.6 17.6,50.5 19.3,48.2 19.2,47.5 16.9,45.7" fill="#7c2b22"/><polygon points="17.3,53.7 17.5,51.2 12.3,49.3 12.6,53.7 14.8,54.6 15.3,54.6" fill="#792921"/><polygon points="16.9,60.3 18.2,55.1 17.5,54.3 15.5,55.2 15.2,59.6" fill="#7c2b22"/><polygon points="15.0,59.8 15.2,55.1 14.8,55.1 12.2,58.3 14.1,59.8" fill="#8a3125"/><polygon points="19.4,63.3 18.1,62.7 14.3,64.9 14.3,65.0 19.7,65.0" fill="#632020"/><polygon points="13.7,65.0 12.0,64.7 11.8,65.0 13.7,65.0" fill="#601f20"/><polygon points="17.1,-0.8 16.9,0.8 18.7,2.3 20.6,2.8 21.6,-1.0 17.4,-1.0" fill="#732720"/><polygon points="26.2,-0.5 25.8,-1.0 22.3,-1.0 21.4,3.1 21.9,3.6 25.1,2.7 26.8,1.2" fill="#782820"/><polygon points="23.8,10.4 22.4,9.8 19.4,13.8 20.2,15.0 22.4,15.2" fill="#762820"/><polygon points="19.9,24.8 16.7,27.4 20.5,29.9 21.5,28.6 21.2,25.2" fill="#7c2b22"/><polygon points="20.6,30.1 20.3,31.3 24.6,34.8 25.7,28.9 21.7,28.8" fill="#862e24"/><polygon points="19.2,32.4 19.5,38.3 25.0,36.1 25.1,35.9 24.4,34.9 20.4,31.5" fill="#712620"/><polygon points="21.8,41.7 24.8,40.6 24.8,36.7 19.8,38.7 19.8,38.7 19.5,39.5" fill="#6b2320"/><polygon points="17.2,41.0 17.0,43.0 17.5,44.8 19.7,46.5 21.2,44.6 21.2,42.4 18.9,40.3" fill="#772820"/><polygon points="20.1,47.3 20.2,48.1 23.6,49.7 25.0,48.9 24.9,45.5 21.9,45.1" fill="#792921"/><polygon points="20.1,48.5 18.3,51.0 23.9,53.1 23.4,50.0" fill="#762820"/><polygon points="18.0,51.3 18.0,51.3 17.8,53.9 18.6,54.7 21.5,55.9 23.3,55.3 24.2,53.9 24.0,53.4" fill="#672220"/><polygon points="21.4,56.3 18.4,55.0 17.1,60.6 18.3,62.0 19.8,62.6 20.5,62.1" fill="#812d23"/><polygon points="29.0,2.0 27.3,1.5 25.5,3.1 26.6,5.9 29.9,4.4" fill="#7d2a22"/><polygon points="21.5,4.1 21.6,8.0 22.5,9.1 24.2,9.9 26.0,10.0 26.2,9.8 26.5,6.1 25.3,3.0" fill="#5c1c1e"/><polygon points="32.2,11.2 33.1,9.8 31.4,8.3 26.8,10.0 26.7,10.1 28.1,13.2" fill="#642120"/><polygon points="27.4,13.9 27.3,13.7 25.9,10.5 24.3,10.4 22.9,15.5 24.8,17.0" fill="#852f24"/><polygon points="27.5,20.3 25.8,20.0 24.3,22.8 27.1,24.9 28.7,22.7" fill="#6b2320"/><polygon points="27.1,25.5 23.8,23.0 22.8,23.4 21.3,25.0 21.7,28.7 25.7,28.8 26.9,28.5 27.2,25.7" fill="#6b221e"/><polygon points="27.7,26.1 27.5,28.4 30.2,30.4 31.7,26.2" fill="#762820"/><polygon points="25.9,29.3 24.9,34.5 25.6,35.4 27.0,35.1 29.9,31.3 29.9,31.2 27.0,29.1" fill="#7b2a21"/><polygon points="24.5,53.1 24.7,53.5 27.0,53.3 28.1,50.9 27.4,49.5 25.3,49.4 24.1,50.1" fill="#6e2520"/><polygon points="29.3,57.0 27.7,54.4 27.1,53.9 24.6,54.1 23.7,55.5 26.6,59.9" fill="#792921"/><polygon points="31.6,62.7 26.8,61.1 26.9,65.0 31.9,65.0" fill="#6a2320"/><polygon points="31.9,0.0 32.1,-1.0 27.1,-1.0 26.9,-0.8 27.6,1.1 29.2,1.6" fill="#852f24"/><polygon points="31.6,6.3 35.0,2.8 34.7,2.1 32.1,0.5 29.5,2.0 30.3,4.3" fill="#682220"/><polygon points="26.9,6.3 26.7,9.4 31.2,7.7 31.1,6.8 29.9,4.9" fill="#842d23"/><polygon points="31.9,17.6 31.5,16.7 27.8,14.1 24.9,17.5 25.0,17.7 25.8,19.4 27.8,19.7" fill="#601f20"/><polygon points="33.4,18.4 32.1,17.8 28.0,19.9 29.3,22.7 32.2,23.3" fill="#822e23"/><polygon points="32.5,24.9 32.0,23.7 29.4,23.1 27.7,25.3 27.7,25.5 32.0,25.6" fill="#622020"/><polygon points="30.6,30.9 30.6,31.0 32.6,31.7 36.1,30.8 36.2,30.7 36.2,28.7 33.8,25.4 33.1,25.2 32.4,26.0" fill="#632020"/><polygon points="30.5,38.1 32.9,35.8 32.2,32.4 30.4,31.7 27.5,35.5" fill="#682220"/><polygon points="33.2,41.4 34.3,40.6 35.2,37.1 33.3,36.2 30.8,38.7 31.1,40.4" fill="#832e24"/><polygon points="34.1,45.6 32.9,42.0 31.0,41.1 28.2,43.2 28.1,43.9 29.5,46.0 32.6,46.6 34.1,45.7" fill="#611f20"/><polygon points="29.4,46.8 28.2,49.1 28.9,50.4 31.6,50.7 32.4,47.3" fill="#611f20"/><polygon points="28.8,51.1 27.6,53.5 28.2,53.9 32.3,52.5 31.5,51.3" fill="#632020"/><polygon points="28.2,54.4 29.7,56.8 32.7,56.8 34.0,54.2 32.7,52.8" fill="#632020"/><polygon points="32.7,57.3 29.6,57.3 26.9,60.1 26.8,60.7 26.9,60.8 31.6,62.4 33.6,59.5" fill="#702520"/><polygon points="35.8,60.4 33.9,59.7 31.8,62.7 32.2,65.0 36.6,65.0" fill="#8b3226"/><polygon points="32.3,-0.0 35.0,1.7 36.8,-1.0 32.5,-1.0" fill="#722720"/><polygon points="35.2,1.9 35.5,2.6 39.0,4.4 40.2,2.9 39.5,-1.0 37.1,-1.0" fill="#5e1e20"/><polygon points="38.3,5.1 38.3,5.0 35.3,3.4 32.3,6.6 32.4,7.6 34.0,9.0 34.2,9.0 35.4,9.0" fill="#6f2520"/><polygon points="33.9,24.9 39.3,22.4 39.6,22.2 39.2,21.3 37.2,18.3 35.0,18.2 33.7,18.4 32.5,23.4 33.2,24.7" fill="#682220"/><polygon points="39.3,22.8 34.1,25.1 36.4,28.4 37.5,27.2" fill="#893125"/><polygon points="36.7,28.8 36.8,30.7 40.6,30.9 41.3,30.4 40.4,27.9 37.8,27.6" fill="#8a3126"/><polygon points="36.1,31.4 32.9,32.2 33.6,35.7 35.4,36.5 37.2,36.2" fill="#8a3126"/><polygon points="37.5,37.1 35.9,37.4 35.2,40.3 38.7,40.0 39.7,39.5 39.5,38.0" fill="#782a25"/><polygon points="34.6,41.0 33.5,41.8 34.7,45.4 37.4,43.0 38.8,40.7" fill="#5f1e20"/><polygon points="37.7,47.8 38.6,47.5 39.5,45.3 37.6,43.3 34.9,45.8 34.9,45.9" fill="#903429"/><polygon points="33.2,47.5 32.4,50.9 33.1,52.2 34.4,53.4 36.6,52.7 37.3,48.4 34.6,46.6" fill="#7b2a21"/><polygon points="35.8,59.8 36.7,59.6 37.0,53.9 36.7,53.7 34.5,54.5 33.2,57.0 34.1,59.1" fill="#7f2c22"/><polygon points="37.4,53.9 37.1,59.5 38.2,59.3 40.2,55.8 40.0,55.2" fill="#5e1e20"/><polygon points="41.1,62.9 38.2,60.2 37.0,60.4 36.2,60.6 37.0,65.0 39.8,65.0" fill="#782921"/><polygon points="40.7,2.5 44.6,1.9 44.6,1.9 44.1,-1.0 40.0,-1.0" fill="#752820"/><polygon points="43.1,7.9 45.3,4.3 44.7,2.7 40.7,3.3 39.6,4.7 39.6,4.9 42.1,7.5" fill="#5f1e20"/><polygon points="41.6,8.0 39.0,5.4 35.9,9.5 38.3,11.6" fill="#873025"/><polygon points="43.8,10.2 42.9,9.0 42.0,8.7 38.9,12.0 39.9,13.8 43.1,13.4 44.0,12.0" fill="#6c2420"/><polygon points="37.9,17.9 39.7,20.7 44.2,16.2 43.1,14.4 39.6,14.8" fill="#6d2420"/><polygon points="42.9,22.3 45.2,21.2 46.2,18.4 44.5,16.7 40.1,21.1 40.5,21.8 41.1,22.1" fill="#6c2420"/><polygon points="40.6,27.4 40.5,22.9 39.8,22.5 39.5,22.8 37.8,27.1" fill="#762820"/><polygon points="41.8,30.3 44.1,30.1 44.9,27.5 42.8,23.1 40.7,22.9 40.8,27.6" fill="#5f1e20"/><polygon points="41.2,37.4 40.9,37.9 41.2,39.5 42.5,40.7 43.7,41.2 46.1,40.2 45.4,35.7" fill="#782921"/><polygon points="40.4,40.2 39.3,40.8 38.0,42.9 39.8,44.7 41.7,41.4" fill="#8c3328"/><polygon points="42.1,42.2 40.3,45.2 39.6,47.2 42.7,47.8 43.3,47.6 43.8,45.1 43.3,42.7" fill="#863026"/><polygon points="41.0,54.0 42.7,48.7 38.9,47.9 37.9,48.2 37.1,53.1 37.4,53.3 40.3,54.7" fill="#842e24"/><polygon points="41.0,55.6 43.9,58.0 45.5,56.3 44.4,53.7 41.4,54.4 40.8,55.1" fill="#7f2c22"/><polygon points="41.5,62.6 44.4,61.4 43.7,58.5 40.7,56.0 38.5,59.8" fill="#642020"/><polygon points="45.2,62.5 44.5,62.1 41.7,63.2 40.6,65.0 45.9,65.0" fill="#812d23"/><polygon points="45.4,1.9 49.1,0.6 49.5,-0.8 48.8,-1.0 44.9,-1.0" fill="#6d2420"/><polygon points="50.7,3.3 49.3,1.3 45.8,2.5 45.7,2.6 46.3,4.1 48.0,5.4 49.9,5.8" fill="#7c2b22"/><polygon points="47.7,6.0 45.7,4.5 43.5,8.2 44.5,9.5 45.8,8.7" fill="#832e24"/><polygon points="46.0,9.2 44.8,10.0 45.0,11.8 47.9,11.8 49.2,9.3" fill="#802c23"/><polygon points="45.1,12.7 44.2,14.1 45.2,15.8 46.9,17.5 48.4,17.1 49.4,16.1 49.2,13.9 47.9,12.7" fill="#642120"/><polygon points="48.7,18.2 47.1,18.6 46.0,21.3 48.8,23.4 51.4,21.8" fill="#6d2420"/><polygon points="48.5,24.0 45.6,21.8 43.2,23.0 45.1,27.1 48.5,25.7" fill="#6e2420"/><polygon points="45.2,27.6 44.5,30.2 46.8,32.1 50.2,27.7 48.7,26.1" fill="#893125"/><polygon points="46.5,33.0 46.3,32.6 44.1,30.8 41.9,30.9 41.2,31.4 41.0,36.6 45.5,34.8" fill="#792921"/><polygon points="48.8,34.0 47.1,33.4 46.1,35.2 46.9,40.1 47.4,40.1 47.7,39.9 50.5,37.4" fill="#662220"/><polygon points="46.7,40.7 43.9,41.9 44.5,44.9 48.6,45.4 49.6,44.0 47.3,40.8" fill="#6a2320"/><polygon points="48.5,45.7 44.5,45.2 44.0,48.2 44.7,48.6 48.3,47.2" fill="#802c23"/><polygon points="44.5,53.1 46.1,51.5 44.5,49.1 43.7,48.7 43.0,48.9 41.4,53.9" fill="#883025"/><polygon points="46.2,55.9 49.3,54.7 49.7,53.2 49.6,53.1 46.6,52.0 45.2,53.5" fill="#832e24"/><polygon points="45.1,61.0 45.8,61.3 47.6,60.7 49.4,56.6 49.2,55.7 46.1,56.8 44.5,58.4" fill="#712620"/><polygon points="46.9,65.0 51.3,65.0 52.0,62.7 48.0,61.8 46.2,62.4" fill="#842e24"/><polygon points="50.1,-0.7 49.7,0.7 51.3,3.0 54.0,2.5 54.5,0.5 53.5,-1.0 50.3,-1.0" fill="#642120"/><polygon points="50.6,7.8 50.0,6.6 48.1,6.2 46.4,8.7 49.5,8.8" fill="#6f2520"/><polygon points="48.8,11.8 50.1,13.0 54.5,10.3 54.7,10.0 51.2,8.4 50.1,9.4" fill="#6e2520"/><polygon points="53.4,16.2 54.9,10.7 50.1,13.7 50.3,16.1" fill="#6c2420"/><polygon points="54.9,18.7 53.3,17.0 50.4,16.9 49.4,17.9 52.0,21.4 52.6,21.4 53.7,20.8" fill="#802d23"/><polygon points="54.1,28.9 53.5,28.4 50.5,27.9 47.1,32.2 47.3,32.7 49.0,33.3 50.5,32.7 54.1,29.0" fill="#802c23"/><polygon points="50.8,33.4 49.5,33.9 51.1,37.2 54.9,37.9 55.5,37.0 56.0,35.9 55.9,35.8" fill="#832e23"/><polygon points="48.2,40.3 53.0,41.1 54.8,39.7 54.9,38.4 51.0,37.7" fill="#7b2a21"/><polygon points="49.9,44.2 48.9,45.6 48.7,47.2 50.5,49.1 52.8,46.9 52.9,46.3 51.0,44.3" fill="#622020"/><polygon points="48.5,47.5 44.9,48.9 46.6,51.3 50.0,52.6 50.2,49.4" fill="#682220"/><polygon points="52.8,58.5 56.3,55.7 54.8,53.1 50.5,53.2 50.0,55.0 50.3,56.1" fill="#732720"/><polygon points="48.3,61.0 52.3,61.9 52.7,61.6 52.4,58.9 50.2,56.9" fill="#752820"/><polygon points="56.3,63.1 53.4,62.8 53.0,63.0 52.4,65.0 56.5,65.0" fill="#712620"/><polygon points="54.9,0.1 58.8,-0.7 58.7,-1.0 54.1,-1.0" fill="#5f1f20"/><polygon points="54.8,0.6 54.3,2.6 57.2,5.4 59.7,3.5 60.3,0.5 59.3,-0.3" fill="#842e24"/><polygon points="55.2,9.1 55.4,9.0 56.5,5.7 54.1,3.3 51.7,3.8 51.0,6.3 51.6,7.5" fill="#692320"/><polygon points="56.4,17.7 56.8,13.3 56.1,10.9 55.8,10.7 55.6,10.8 55.4,11.1 53.9,16.2 55.6,17.9" fill="#792921"/><polygon points="59.1,22.0 57.8,19.1 56.6,19.0 55.8,19.1 54.4,21.3 57.6,24.3" fill="#883025"/><polygon points="54.1,21.6 52.9,22.2 53.9,27.9 54.5,28.4 57.5,25.2 57.5,24.8" fill="#622020"/><polygon points="61.6,30.1 61.7,30.0 60.9,27.0 57.8,25.7 55.0,28.6 55.1,28.7 55.4,29.1" fill="#812d23"/><polygon points="54.5,29.2 50.8,32.9 56.3,35.5 54.8,29.6" fill="#632020"/><polygon points="55.7,39.9 57.6,43.3 57.8,43.4 60.4,40.0 56.3,37.8 55.7,38.7" fill="#8f3429"/><polygon points="53.7,46.4 53.6,47.0 56.4,50.1 57.2,49.6 58.3,45.3 57.5,44.6 57.3,44.5" fill="#7d2b22"/><polygon points="51.0,49.6 50.7,52.4 50.8,52.6 54.6,52.5 55.8,50.7 53.0,47.6" fill="#762820"/><polygon points="59.7,51.6 57.5,50.9 56.7,51.4 55.6,53.1 56.9,55.4 58.7,56.6 60.2,56.1" fill="#632020"/><polygon points="58.5,57.5 56.5,56.1 53.1,58.8 53.5,61.8 56.7,62.2 57.4,61.8" fill="#6f2520"/><polygon points="61.9,63.5 57.9,62.4 57.3,62.9 57.5,65.0 61.7,65.0" fill="#832e24"/><polygon points="60.6,0.0 61.5,-0.3 61.9,-1.0 59.5,-1.0 59.6,-0.8" fill="#852f26"/><polygon points="63.3,5.4 66.1,3.3 65.4,1.6 61.9,0.7 61.1,1.0 60.6,3.4" fill="#6f2625"/><polygon points="63.3,9.3 62.9,6.3 59.9,4.1 57.6,5.9 56.4,9.4 56.7,9.6 60.7,10.4" fill="#883127"/><polygon points="62.4,15.9 66.1,13.9 66.1,13.0 64.5,10.6 63.7,10.3 61.4,11.3 62.2,15.9" fill="#94362a"/><polygon points="58.0,18.3 60.2,16.9 57.3,13.6 56.9,18.2" fill="#802c23"/><polygon points="63.0,22.2 64.2,21.0 64.2,20.9 61.9,17.2 61.7,17.2 60.7,17.5 58.4,18.9 59.7,21.8" fill="#6d2420"/><polygon points="62.8,24.3 62.9,22.8 59.6,22.4 58.1,24.7 58.1,25.2 61.2,26.5" fill="#622020"/><polygon points="63.1,24.5 61.4,26.9 62.2,30.1 65.8,28.8 66.0,27.1" fill="#632020"/><polygon points="57.0,35.1 57.0,35.2 61.3,33.8 61.4,30.8 55.7,29.9" fill="#822e23"/><polygon points="56.4,37.2 60.9,39.6 61.5,39.6 63.5,37.3 63.4,35.6 61.9,34.4 56.9,36.0" fill="#852f24"/><polygon points="61.3,40.5 60.8,40.6 58.4,43.7 59.2,44.4 60.1,44.5 62.2,43.2" fill="#782a25"/><polygon points="62.9,43.7 60.5,45.1 63.6,48.5 65.3,48.1 66.5,43.7 66.5,43.4" fill="#772925"/><polygon points="57.9,49.9 60.1,50.6 62.1,50.0 63.0,48.9 60.0,45.6 59.0,45.5" fill="#762820"/><polygon points="64.0,54.5 62.5,50.6 60.2,51.2 60.7,56.5 63.2,56.7" fill="#792921"/><polygon points="60.7,56.9 58.9,57.4 57.7,61.9 62.3,63.1 62.5,63.1 63.3,57.2 63.1,57.0" fill="#7a2a21"/><polygon points="64.0,63.6 62.7,63.5 62.6,63.6 62.4,65.0 64.5,65.0" fill="#772820"/><polygon points="62.9,-0.7 65.6,0.0 65.8,-0.4 65.9,-1.0 63.0,-1.0" fill="#665d82"/><polygon points="65.1,10.0 66.9,12.7 70.5,10.8 67.7,8.4" fill="#7d2c25"/><polygon points="67.3,15.0 66.7,14.3 62.2,16.8 64.8,20.9 68.8,18.3" fill="#7d2a22"/><polygon points="72.1,23.9 72.4,22.2 69.3,18.6 69.0,18.5 65.0,21.1 64.9,21.2 67.6,23.7" fill="#67201e"/><polygon points="66.3,26.4 67.3,23.8 64.7,21.4 63.5,22.7 63.3,24.3 66.0,26.7" fill="#782820"/><polygon points="66.1,28.8 69.0,30.4 72.8,26.6 72.7,26.4 66.6,26.7 66.3,27.1" fill="#792820"/><polygon points="68.8,32.7 68.6,30.7 65.9,29.2 62.5,30.5 62.4,30.6 62.4,34.0 63.8,35.1 67.7,34.1" fill="#702520"/><polygon points="64.0,35.7 64.1,37.4 67.3,41.7 67.5,41.7 70.4,39.4 67.9,34.7" fill="#5f1e20"/><polygon points="65.9,48.4 67.5,49.6 71.8,49.3 71.7,48.1 67.2,43.9" fill="#611f20"/><polygon points="65.5,48.9 63.8,49.3 62.9,50.5 64.3,54.1 66.6,52.7 67.0,50.1" fill="#732720"/><polygon points="64.3,54.6 63.4,56.8 63.6,57.0 67.0,58.4 69.2,57.1 69.3,55.0 66.8,53.0" fill="#742720"/><polygon points="64.2,63.0 67.2,62.5 66.8,58.8 63.6,57.5 62.9,62.9" fill="#862f24"/><polygon points="68.8,64.1 67.5,63.0 64.3,63.5 64.7,65.0 69.3,65.0" fill="#883025"/><polygon points="68.2,8.2 70.9,10.5 73.2,10.4 73.4,9.5 72.3,8.1 69.3,6.2" fill="#7b2b25"/><polygon points="70.8,11.4 67.6,13.0 67.6,13.8 68.1,14.4 72.6,13.5 72.9,11.4 72.9,11.2" fill="#93362a"/><polygon points="72.8,15.3 72.7,14.1 68.0,15.0 69.3,17.8 69.5,17.9" fill="#802d25"/><polygon points="72.7,22.0 74.9,20.4 75.2,17.2 73.4,15.4 69.5,18.4" fill="#66201e"/><polygon points="72.9,26.3 72.2,24.0 67.5,23.8 66.5,26.6" fill="#6e231e"/><polygon points="72.8,33.7 72.9,33.7 75.6,29.5 75.7,28.7 75.3,27.8 73.0,26.5 69.0,30.6 69.2,32.7" fill="#73251f"/><polygon points="70.7,38.8 72.0,38.6 72.4,34.2 69.5,33.3 68.5,34.7" fill="#632020"/><polygon points="72.7,39.0 74.6,39.7 76.1,39.5 76.9,35.8 73.1,34.2 73.1,34.2" fill="#762820"/><polygon points="68.2,42.0 73.0,44.4 74.1,40.4 72.2,39.7 70.8,39.9" fill="#742720"/><polygon points="67.0,43.1 67.1,43.5 72.1,48.1 73.2,45.4 73.1,45.0 67.7,42.2 67.5,42.3" fill="#642120"/><polygon points="72.0,49.8 67.6,50.2 67.2,52.8 69.5,54.5 72.7,51.5 72.2,50.0" fill="#652120"/><polygon points="69.9,55.0 69.8,56.9 72.7,58.1 73.3,58.0 73.7,52.8 72.9,52.1" fill="#662120"/><polygon points="67.7,62.6 69.0,63.8 72.6,58.7 69.3,57.4 67.2,58.6" fill="#7c2b22"/><polygon points="72.8,58.8 69.1,63.9 69.6,64.8 74.4,64.5 74.4,64.3 74.2,59.1 73.5,58.8" fill="#692320"/><polygon points="75.3,9.6 74.8,10.0 74.6,10.8 74.6,11.0 79.4,13.5 80.9,13.1 81.2,12.8 80.8,10.2 77.1,8.8" fill="#7d2b22"/><polygon points="74.0,11.3 73.5,13.8 73.7,15.1 75.5,16.8 77.9,16.0 79.4,14.2" fill="#722620"/><polygon points="78.0,16.6 75.7,17.4 75.3,20.3 78.8,21.1 79.6,20.5" fill="#66201e"/><polygon points="78.6,24.9 78.7,21.8 75.1,21.0 73.0,22.4 72.7,24.0 73.2,26.0 73.3,26.2 75.4,27.3" fill="#862e24"/><polygon points="82.3,26.4 79.0,25.1 75.4,27.8 75.8,28.7 80.3,30.3" fill="#6f231e"/><polygon points="76.9,35.1 77.4,34.5 75.6,30.2 73.4,33.6" fill="#7b2a21"/><polygon points="78.5,40.4 82.0,38.2 81.0,34.6 78.2,35.4 77.7,35.9 76.9,39.4" fill="#772820"/><polygon points="73.5,45.2 79.6,45.1 78.1,41.2 76.3,40.1 74.7,40.3 73.5,44.8" fill="#7f2c22"/><polygon points="79.5,46.5 79.6,46.1 79.2,45.6 73.7,45.7 72.8,48.0 72.9,49.1 73.0,49.3" fill="#6a2320"/><polygon points="73.4,51.3 74.3,52.1 76.9,52.6 80.5,48.9 79.9,46.7 72.9,49.8" fill="#702620"/><polygon points="73.7,58.4 74.4,58.8 78.0,58.2 78.0,54.8 76.8,53.1 74.2,52.5" fill="#5f1e20"/><polygon points="74.7,64.0 78.5,60.4 78.2,58.7 78.0,58.6 74.5,59.2" fill="#772820"/><polygon points="79.4,62.2 78.7,60.6 74.7,64.4 74.7,64.6 75.1,65.0 79.9,65.0" fill="#682220"/><polygon points="82.1,5.9 82.6,5.3 82.5,3.7 80.1,3.8 80.2,4.2" fill="#9a3b2e"/><polygon points="81.8,10.0 82.2,12.9 82.3,12.9 86.5,11.2 86.1,9.3 82.9,8.2" fill="#6f2625"/><polygon points="79.9,14.7 78.6,16.3 80.1,20.0 80.3,20.0 81.9,17.7 81.4,14.3" fill="#832e24"/><polygon points="84.8,19.2 82.4,18.3 80.8,20.6 84.2,22.4 84.6,22.0" fill="#702520"/><polygon points="84.2,22.9 80.4,20.9 80.1,21.0 79.3,21.6 79.2,25.0 82.3,26.2 84.3,25.7" fill="#822d23"/><polygon points="85.1,27.1 84.3,26.5 82.5,26.8 80.8,30.2 82.2,32.4 84.1,31.9 85.1,31.1 85.8,29.1" fill="#672220"/><polygon points="80.1,30.6 76.2,29.2 76.1,29.9 78.0,34.5 81.0,33.6 81.5,32.8" fill="#611e1e"/><polygon points="84.2,32.6 82.1,33.2 81.6,34.0 82.7,38.2 83.9,38.7 86.6,36.7" fill="#802d23"/><polygon points="83.8,39.0 82.5,38.6 78.4,41.1 80.0,45.1 80.4,45.7 82.8,44.8 85.1,41.9" fill="#832e24"/><polygon points="82.2,49.7 85.2,49.9 86.4,47.1 86.5,46.8 82.9,45.2 80.7,46.1 80.6,46.5 81.2,48.7" fill="#6f2520"/><polygon points="78.3,54.5 82.1,53.7 81.9,50.1 80.8,49.1 77.2,52.8" fill="#652120"/><polygon points="78.6,58.1 78.8,58.2 83.8,57.7 84.4,57.4 84.4,56.9 82.2,54.1 78.5,54.9" fill="#7c2b22"/><polygon points="84.0,58.0 78.6,58.6 78.9,60.3 79.6,61.9 82.7,60.7" fill="#5f1e20"/><polygon points="82.5,61.2 79.9,62.2 80.3,64.7 82.2,64.3" fill="#642020"/><polygon points="86.9,11.6 82.6,13.3 86.0,15.3 87.4,14.4 87.4,11.8" fill="#6f2625"/><polygon points="85.6,15.7 82.3,13.8 82.3,13.8 82.0,14.1 82.6,17.7 84.9,18.5 86.0,17.7" fill="#6e2520"/><polygon points="86.5,18.3 85.4,19.1 85.2,22.0 87.4,21.5 87.4,18.6" fill="#682220"/><polygon points="85.1,22.6 84.7,23.0 84.8,25.6 85.6,26.3 87.4,25.4 87.4,22.1" fill="#6c2420"/><polygon points="87.4,28.7 87.4,26.1 86.1,26.8 86.8,28.7" fill="#752820"/><polygon points="85.8,32.0 84.9,32.8 87.0,36.4 87.4,36.4 87.4,32.8" fill="#842e24"/><polygon points="86.9,37.0 84.1,38.9 85.4,41.7 87.4,41.9 87.4,37.1" fill="#6d2420"/><polygon points="85.4,42.2 83.3,44.8 86.8,46.3 87.4,45.9 87.4,42.4" fill="#6b2320"/><polygon points="87.3,46.9 87.3,47.2 87.4,47.3 87.4,46.9" fill="#682220"/><polygon points="85.3,50.6 82.5,50.4 82.7,53.7 84.8,56.3 87.3,52.3" fill="#7d2b22"/><polygon points="85.5,56.6 85.5,57.1 86.0,57.5 87.4,57.0 87.4,53.5" fill="#873025"/><polygon points="84.8,58.2 84.3,58.4 83.2,60.9 82.8,64.1 84.6,64.4 87.3,61.6 85.4,58.6" fill="#832e23"/><polygon points="85.0,65.0 85.0,65.0 87.4,65.0 87.4,62.5" fill="#7f2c22"/><polygon points="82.4,64.9 81.8,65.0 83.3,65.0" fill="#832e24"/><polygon points="86.8,9.2 87.2,11.0 87.4,11.1 87.4,8.4" fill="#913529"/><polygon points="86.5,15.7 86.9,17.6 87.4,17.7 87.4,15.1" fill="#903429"/><polygon points="86.1,31.4 87.4,32.1 87.4,29.6 86.8,29.6" fill="#832e24"/><polygon points="87.0,47.6 85.8,50.2 87.4,51.5 87.4,48.0" fill="#611f20"/><polygon points="86.4,58.2 87.4,59.7 87.4,57.9" fill="#792a21"/></g></svg></div>
<div class="im" style="left:345px;top:93.3px;width:86.6px;height:64.0px"><svg width="86.6" height="64.0" viewBox="0 0 86.6 64.0" style="position:absolute;left:0;top:0"><defs><filter id="bl4" x="-20%" y="-20%" width="140%" height="140%"><feGaussianBlur stdDeviation="1.8"/></filter><filter id="cb4" x="-5%" y="-5%" width="110%" height="110%"><feGaussianBlur stdDeviation="0.75"/></filter></defs><g filter="url(#bl4)"><rect x="-12.0" y="-12.0" width="12.0" height="12.0" fill="#c0e2de"/><rect x="0.0" y="-12.0" width="7.8" height="12.0" fill="#c0e2de"/><rect x="7.2" y="-12.0" width="7.8" height="12.0" fill="#c3b6b2"/><rect x="14.4" y="-12.0" width="7.8" height="12.0" fill="#b6a5a0"/><rect x="21.6" y="-12.0" width="7.8" height="12.0" fill="#cde1dc"/><rect x="28.9" y="-12.0" width="7.8" height="12.0" fill="#b6a5a0"/><rect x="36.1" y="-12.0" width="7.8" height="12.0" fill="#c0e2de"/><rect x="43.3" y="-12.0" width="7.8" height="12.0" fill="#cde1dc"/><rect x="50.5" y="-12.0" width="7.8" height="12.0" fill="#cde1dc"/><rect x="57.7" y="-12.0" width="7.8" height="12.0" fill="#cde1dc"/><rect x="64.9" y="-12.0" width="7.8" height="12.0" fill="#c3b6b2"/><rect x="72.2" y="-12.0" width="7.8" height="12.0" fill="#cde1dc"/><rect x="79.4" y="-12.0" width="7.8" height="12.0" fill="#c0e2de"/><rect x="86.6" y="-12.0" width="12.0" height="12.0" fill="#c0e2de"/><rect x="-12.0" y="0.0" width="12.0" height="8.6" fill="#c0e2de"/><rect x="0.0" y="0.0" width="7.8" height="8.6" fill="#c0e2de"/><rect x="7.2" y="0.0" width="7.8" height="8.6" fill="#c3b6b2"/><rect x="14.4" y="0.0" width="7.8" height="8.6" fill="#b6a5a0"/><rect x="21.6" y="0.0" width="7.8" height="8.6" fill="#cde1dc"/><rect x="28.9" y="0.0" width="7.8" height="8.6" fill="#b6a5a0"/><rect x="36.1" y="0.0" width="7.8" height="8.6" fill="#c0e2de"/><rect x="43.3" y="0.0" width="7.8" height="8.6" fill="#cde1dc"/><rect x="50.5" y="0.0" width="7.8" height="8.6" fill="#cde1dc"/><rect x="57.7" y="0.0" width="7.8" height="8.6" fill="#cde1dc"/><rect x="64.9" y="0.0" width="7.8" height="8.6" fill="#c3b6b2"/><rect x="72.2" y="0.0" width="7.8" height="8.6" fill="#cde1dc"/><rect x="79.4" y="0.0" width="7.8" height="8.6" fill="#c0e2de"/><rect x="86.6" y="0.0" width="12.0" height="8.6" fill="#c0e2de"/><rect x="-12.0" y="8.0" width="12.0" height="8.6" fill="#c0e2de"/><rect x="0.0" y="8.0" width="7.8" height="8.6" fill="#c0e2de"/><rect x="7.2" y="8.0" width="7.8" height="8.6" fill="#b6a5a0"/><rect x="14.4" y="8.0" width="7.8" height="8.6" fill="#c3b6b2"/><rect x="21.6" y="8.0" width="7.8" height="8.6" fill="#cde1dc"/><rect x="28.9" y="8.0" width="7.8" height="8.6" fill="#cde1dc"/><rect x="36.1" y="8.0" width="7.8" height="8.6" fill="#cde1dc"/><rect x="43.3" y="8.0" width="7.8" height="8.6" fill="#b6a5a0"/><rect x="50.5" y="8.0" width="7.8" height="8.6" fill="#cde1dc"/><rect x="57.7" y="8.0" width="7.8" height="8.6" fill="#c3b6b2"/><rect x="64.9" y="8.0" width="7.8" height="8.6" fill="#c3b6b2"/><rect x="72.2" y="8.0" width="7.8" height="8.6" fill="#cde1dc"/><rect x="79.4" y="8.0" width="7.8" height="8.6" fill="#c0e2de"/><rect x="86.6" y="8.0" width="12.0" height="8.6" fill="#c0e2de"/><rect x="-12.0" y="16.0" width="12.0" height="8.6" fill="#c0e2de"/><rect x="0.0" y="16.0" width="7.8" height="8.6" fill="#c0e2de"/><rect x="7.2" y="16.0" width="7.8" height="8.6" fill="#cde1dc"/><rect x="14.4" y="16.0" width="7.8" height="8.6" fill="#b6a5a0"/><rect x="21.6" y="16.0" width="7.8" height="8.6" fill="#b6a5a0"/><rect x="28.9" y="16.0" width="7.8" height="8.6" fill="#cde1dc"/><rect x="36.1" y="16.0" width="7.8" height="8.6" fill="#cde1dc"/><rect x="43.3" y="16.0" width="7.8" height="8.6" fill="#c0e2de"/><rect x="50.5" y="16.0" width="7.8" height="8.6" fill="#c3b6b2"/><rect x="57.7" y="16.0" width="7.8" height="8.6" fill="#c3b6b2"/><rect x="64.9" y="16.0" width="7.8" height="8.6" fill="#cde1dc"/><rect x="72.2" y="16.0" width="7.8" height="8.6" fill="#c3b6b2"/><rect x="79.4" y="16.0" width="7.8" height="8.6" fill="#cde1dc"/><rect x="86.6" y="16.0" width="12.0" height="8.6" fill="#cde1dc"/><rect x="-12.0" y="24.0" width="12.0" height="8.6" fill="#cde1dc"/><rect x="0.0" y="24.0" width="7.8" height="8.6" fill="#cde1dc"/><rect x="7.2" y="24.0" width="7.8" height="8.6" fill="#c0e2de"/><rect x="14.4" y="24.0" width="7.8" height="8.6" fill="#b6a5a0"/><rect x="21.6" y="24.0" width="7.8" height="8.6" fill="#b6a5a0"/><rect x="28.9" y="24.0" width="7.8" height="8.6" fill="#c3b6b2"/><rect x="36.1" y="24.0" width="7.8" height="8.6" fill="#cde1dc"/><rect x="43.3" y="24.0" width="7.8" height="8.6" fill="#cde1dc"/><rect x="50.5" y="24.0" width="7.8" height="8.6" fill="#b6a5a0"/><rect x="57.7" y="24.0" width="7.8" height="8.6" fill="#c3b6b2"/><rect x="64.9" y="24.0" width="7.8" height="8.6" fill="#c0e2de"/><rect x="72.2" y="24.0" width="7.8" height="8.6" fill="#c3b6b2"/><rect x="79.4" y="24.0" width="7.8" height="8.6" fill="#cde1dc"/><rect x="86.6" y="24.0" width="12.0" height="8.6" fill="#cde1dc"/><rect x="-12.0" y="32.0" width="12.0" height="8.6" fill="#cde1dc"/><rect x="0.0" y="32.0" width="7.8" height="8.6" fill="#cde1dc"/><rect x="7.2" y="32.0" width="7.8" height="8.6" fill="#c3b6b2"/><rect x="14.4" y="32.0" width="7.8" height="8.6" fill="#b6a5a0"/><rect x="21.6" y="32.0" width="7.8" height="8.6" fill="#cde1dc"/><rect x="28.9" y="32.0" width="7.8" height="8.6" fill="#c0e2de"/><rect x="36.1" y="32.0" width="7.8" height="8.6" fill="#b6a5a0"/><rect x="43.3" y="32.0" width="7.8" height="8.6" fill="#b6a5a0"/><rect x="50.5" y="32.0" width="7.8" height="8.6" fill="#cde1dc"/><rect x="57.7" y="32.0" width="7.8" height="8.6" fill="#b6a5a0"/><rect x="64.9" y="32.0" width="7.8" height="8.6" fill="#b6a5a0"/><rect x="72.2" y="32.0" width="7.8" height="8.6" fill="#cde1dc"/><rect x="79.4" y="32.0" width="7.8" height="8.6" fill="#c0e2de"/><rect x="86.6" y="32.0" width="12.0" height="8.6" fill="#c0e2de"/><rect x="-12.0" y="40.0" width="12.0" height="8.6" fill="#cde1dc"/><rect x="0.0" y="40.0" width="7.8" height="8.6" fill="#cde1dc"/><rect x="7.2" y="40.0" width="7.8" height="8.6" fill="#cde1dc"/><rect x="14.4" y="40.0" width="7.8" height="8.6" fill="#c3b6b2"/><rect x="21.6" y="40.0" width="7.8" height="8.6" fill="#c0e2de"/><rect x="28.9" y="40.0" width="7.8" height="8.6" fill="#c0e2de"/><rect x="36.1" y="40.0" width="7.8" height="8.6" fill="#cde1dc"/><rect x="43.3" y="40.0" width="7.8" height="8.6" fill="#cde1dc"/><rect x="50.5" y="40.0" width="7.8" height="8.6" fill="#c0e2de"/><rect x="57.7" y="40.0" width="7.8" height="8.6" fill="#b6a5a0"/><rect x="64.9" y="40.0" width="7.8" height="8.6" fill="#b6a5a0"/><rect x="72.2" y="40.0" width="7.8" height="8.6" fill="#cde1dc"/><rect x="79.4" y="40.0" width="7.8" height="8.6" fill="#cde1dc"/><rect x="86.6" y="40.0" width="12.0" height="8.6" fill="#cde1dc"/><rect x="-12.0" y="48.0" width="12.0" height="8.6" fill="#cde1dc"/><rect x="0.0" y="48.0" width="7.8" height="8.6" fill="#cde1dc"/><rect x="7.2" y="48.0" width="7.8" height="8.6" fill="#cde1dc"/><rect x="14.4" y="48.0" width="7.8" height="8.6" fill="#c0e2de"/><rect x="21.6" y="48.0" width="7.8" height="8.6" fill="#c3b6b2"/><rect x="28.9" y="48.0" width="7.8" height="8.6" fill="#cde1dc"/><rect x="36.1" y="48.0" width="7.8" height="8.6" fill="#cde1dc"/><rect x="43.3" y="48.0" width="7.8" height="8.6" fill="#c3b6b2"/><rect x="50.5" y="48.0" width="7.8" height="8.6" fill="#cde1dc"/><rect x="57.7" y="48.0" width="7.8" height="8.6" fill="#c3b6b2"/><rect x="64.9" y="48.0" width="7.8" height="8.6" fill="#b6a5a0"/><rect x="72.2" y="48.0" width="7.8" height="8.6" fill="#cde1dc"/><rect x="79.4" y="48.0" width="7.8" height="8.6" fill="#cde1dc"/><rect x="86.6" y="48.0" width="12.0" height="8.6" fill="#cde1dc"/><rect x="-12.0" y="56.0" width="12.0" height="8.6" fill="#cde1dc"/><rect x="0.0" y="56.0" width="7.8" height="8.6" fill="#cde1dc"/><rect x="7.2" y="56.0" width="7.8" height="8.6" fill="#c3b6b2"/><rect x="14.4" y="56.0" width="7.8" height="8.6" fill="#b6a5a0"/><rect x="21.6" y="56.0" width="7.8" height="8.6" fill="#b6a5a0"/><rect x="28.9" y="56.0" width="7.8" height="8.6" fill="#cde1dc"/><rect x="36.1" y="56.0" width="7.8" height="8.6" fill="#c3b6b2"/><rect x="43.3" y="56.0" width="7.8" height="8.6" fill="#cde1dc"/><rect x="50.5" y="56.0" width="7.8" height="8.6" fill="#c0e2de"/><rect x="57.7" y="56.0" width="7.8" height="8.6" fill="#b6a5a0"/><rect x="64.9" y="56.0" width="7.8" height="8.6" fill="#c3b6b2"/><rect x="72.2" y="56.0" width="7.8" height="8.6" fill="#cde1dc"/><rect x="79.4" y="56.0" width="7.8" height="8.6" fill="#cde1dc"/><rect x="86.6" y="56.0" width="12.0" height="8.6" fill="#cde1dc"/><rect x="-12.0" y="64.0" width="12.0" height="12.0" fill="#cde1dc"/><rect x="0.0" y="64.0" width="7.8" height="12.0" fill="#cde1dc"/><rect x="7.2" y="64.0" width="7.8" height="12.0" fill="#c3b6b2"/><rect x="14.4" y="64.0" width="7.8" height="12.0" fill="#b6a5a0"/><rect x="21.6" y="64.0" width="7.8" height="12.0" fill="#b6a5a0"/><rect x="28.9" y="64.0" width="7.8" height="12.0" fill="#cde1dc"/><rect x="36.1" y="64.0" width="7.8" height="12.0" fill="#c3b6b2"/><rect x="43.3" y="64.0" width="7.8" height="12.0" fill="#cde1dc"/><rect x="50.5" y="64.0" width="7.8" height="12.0" fill="#c0e2de"/><rect x="57.7" y="64.0" width="7.8" height="12.0" fill="#b6a5a0"/><rect x="64.9" y="64.0" width="7.8" height="12.0" fill="#c3b6b2"/><rect x="72.2" y="64.0" width="7.8" height="12.0" fill="#cde1dc"/><rect x="79.4" y="64.0" width="7.8" height="12.0" fill="#cde1dc"/><rect x="86.6" y="64.0" width="12.0" height="12.0" fill="#cde1dc"/></g><g filter="url(#cb4)" stroke-linejoin="round"><polygon points="-1.0,4.3 -1.0,7.9 -0.9,7.7 -0.5,4.5" fill="none" stroke="#8ca5aa" stroke-width="0.7"/><polygon points="-1.0,57.1 -1.0,57.1 -1.0,62.5 1.4,59.8 1.1,58.6" fill="none" stroke="#96a2a8" stroke-width="0.7"/><polygon points="3.3,-1.0 3.3,-1.0 -1.0,-1.0 -1.0,3.1 0.4,3.7 4.4,1.0" fill="none" stroke="#8ca5aa" stroke-width="0.7"/><polygon points="-0.9,10.5 2.0,13.6 5.3,10.1 4.5,9.6 0.4,8.8" fill="none" stroke="#8ca5aa" stroke-width="0.7"/><polygon points="2.5,19.4 -1.0,20.5 -1.0,25.1 2.4,24.0 3.0,19.5" fill="none" stroke="#8ca5aa" stroke-width="0.7"/><polygon points="1.6,44.5 1.6,43.1 -0.5,41.2 -1.0,41.4 -1.0,44.7" fill="none" stroke="#96a2a8" stroke-width="0.7"/><polygon points="6.7,52.2 6.7,52.1 5.9,48.2 3.3,46.9 1.2,50.3 4.9,53.2" fill="none" stroke="#96a2a8" stroke-width="0.7"/><polygon points="4.4,54.2 0.4,51.0 -1.0,52.3 -1.0,53.6 -0.3,55.9 1.8,57.5 2.9,56.7" fill="none" stroke="#96a2a8" stroke-width="0.7"/><polygon points="8.0,58.0 4.1,57.9 3.1,58.6 3.3,59.6 3.6,59.9 8.5,62.5 9.0,62.0" fill="none" stroke="#96a2a8" stroke-width="0.7"/><polygon points="9.6,28.8 13.2,28.1 14.6,24.5 9.3,26.2 8.6,28.0" fill="none" stroke="#8ca5aa" stroke-width="0.7"/><polygon points="6.5,46.3 6.9,46.1 9.6,40.9 7.1,39.4 6.8,39.5 3.7,43.0 3.7,44.3 4.0,45.1" fill="none" stroke="#96a2a8" stroke-width="0.7"/><polygon points="13.1,47.6 7.6,47.8 7.1,48.0 8.0,52.2 12.5,52.7" fill="none" stroke="#96a2a8" stroke-width="0.7"/><polygon points="8.3,57.1 7.3,53.1 5.2,54.4 3.6,57.0 8.3,57.2" fill="none" stroke="#96a2a8" stroke-width="0.7"/><polygon points="18.5,51.6 17.0,48.0 15.3,47.2 14.2,48.1 13.7,52.9 14.2,53.8 15.9,55.2 17.7,55.1" fill="none" stroke="#8ca5aa" stroke-width="0.7"/><polygon points="12.4,53.5 8.0,53.1 8.0,53.1 8.9,56.8 13.0,54.5" fill="none" stroke="#96a2a8" stroke-width="0.7"/><polygon points="20.1,5.1 23.0,8.1 25.3,6.6 23.6,2.5 18.4,3.2" fill="none" stroke="#96a2a8" stroke-width="0.7"/><polygon points="26.6,47.7 27.8,46.3 27.9,41.3 27.1,39.9 23.1,41.5 23.3,45.4" fill="none" stroke="#8ca5aa" stroke-width="0.7"/><polygon points="29.0,49.8 33.4,51.2 35.7,45.9 35.1,44.9 28.7,46.9 27.6,48.2 27.6,49.0" fill="none" stroke="#96a2a8" stroke-width="0.7"/><polygon points="26.3,62.0 28.0,63.8 29.9,64.0 31.4,63.0 31.5,58.0 30.1,57.5 27.0,57.4" fill="none" stroke="#96a2a8" stroke-width="0.7"/><polygon points="30.3,7.4 33.1,11.1 35.5,11.4 37.5,6.9 36.3,4.9 30.9,7.0" fill="none" stroke="#96a2a8" stroke-width="0.7"/><polygon points="36.8,38.7 30.0,33.9 28.8,34.9 28.8,35.6 34.9,41.9 35.6,42.3 37.0,40.0" fill="none" stroke="#8ca5aa" stroke-width="0.7"/><polygon points="35.6,63.5 38.6,60.2 37.5,56.1 35.2,55.6 32.4,57.8 32.2,62.9" fill="none" stroke="#96a2a8" stroke-width="0.7"/><polygon points="38.2,16.2 37.2,21.3 40.1,24.8 41.5,24.6 43.2,17.2 40.0,15.4 38.5,15.3" fill="none" stroke="#96a2a8" stroke-width="0.7"/><polygon points="39.5,32.5 37.6,29.1 33.7,29.7 32.7,31.4 37.7,34.1 39.5,32.5" fill="none" stroke="#96a2a8" stroke-width="0.7"/><polygon points="43.5,50.8 44.2,50.3 45.9,43.4 45.2,42.6 40.6,47.0 43.2,50.8" fill="none" stroke="#96a2a8" stroke-width="0.7"/><polygon points="44.3,56.4 41.7,60.6 42.8,61.3 44.9,61.1 46.0,59.1" fill="none" stroke="#96a2a8" stroke-width="0.7"/><polygon points="43.6,-0.7 45.0,-0.4 44.9,-1.0 43.2,-1.0" fill="none" stroke="#8ca5aa" stroke-width="0.7"/><polygon points="50.4,49.1 53.1,44.9 53.1,44.9 48.5,44.1 49.0,49.0" fill="none" stroke="#96a2a8" stroke-width="0.7"/><polygon points="47.4,59.9 46.4,61.7 48.2,64.3 50.8,64.3 51.6,63.7 52.1,62.8 49.9,59.4" fill="none" stroke="#96a2a8" stroke-width="0.7"/><polygon points="54.8,37.3 55.5,38.7 59.7,38.6 60.9,34.8 54.8,35.5" fill="none" stroke="#96a2a8" stroke-width="0.7"/><polygon points="57.6,46.0 61.4,41.4 60.1,39.5 55.1,39.7 54.5,44.1 54.6,44.1" fill="none" stroke="#8ca5aa" stroke-width="0.7"/><polygon points="73.5,6.4 75.7,8.9 76.7,9.2 79.3,6.2 75.3,2.6 73.3,2.1" fill="none" stroke="#96a2a8" stroke-width="0.7"/><polygon points="74.2,1.0 74.4,1.3 76.0,1.7 81.5,0.9 80.9,-1.0 76.3,-1.0" fill="none" stroke="#96a2a8" stroke-width="0.7"/><polygon points="77.1,9.4 79.4,12.6 83.4,10.8 83.9,5.1 79.6,6.5" fill="none" stroke="#8ca5aa" stroke-width="0.7"/><polygon points="82.8,35.9 79.6,34.2 77.1,35.4 76.8,38.1 81.4,41.6 83.5,38.2" fill="none" stroke="#8ca5aa" stroke-width="0.7"/><polygon points="76.0,38.6 73.1,40.6 77.4,45.8 79.6,45.6 81.5,43.8 81.3,42.6" fill="none" stroke="#96a2a8" stroke-width="0.7"/><polygon points="84.8,2.5 85.2,3.7 87.2,4.1 87.6,3.6 87.6,-0.7" fill="none" stroke="#8ca5aa" stroke-width="0.7"/><polygon points="87.0,5.1 84.6,4.6 84.4,4.9 83.8,10.8 85.4,12.0 87.6,11.9 87.6,5.5" fill="none" stroke="#8ca5aa" stroke-width="0.7"/><polygon points="80.4,24.1 84.9,22.5 85.5,20.0 84.9,19.7 84.8,19.7 80.1,23.4" fill="none" stroke="#96a2a8" stroke-width="0.7"/><polygon points="86.2,26.8 87.5,27.4 87.6,27.4 87.6,20.8 86.8,20.8 86.3,23.1" fill="none" stroke="#96a2a8" stroke-width="0.7"/><polygon points="84.7,38.9 82.5,42.4 82.7,43.6 85.5,45.1 86.1,44.9 87.6,42.9 87.6,38.8" fill="none" stroke="#96a2a8" stroke-width="0.7"/><polygon points="86.7,45.3 87.6,45.4 87.6,44.1" fill="none" stroke="#96a2a8" stroke-width="0.7"/><polygon points="-1.0,26.6 -1.0,28.7 -0.7,29.8 2.2,30.8 6.5,28.3 3.1,25.3" fill="#93362a"/><polygon points="2.3,34.1 1.6,31.9 -1.0,31.0 -1.0,37.6" fill="#6c2525"/><polygon points="15.6,1.9 8.6,1.1 7.8,1.7 10.9,6.1 13.2,6.0 15.7,2.5" fill="#892f23"/><polygon points="8.0,18.5 9.5,17.8 10.6,15.5 8.4,10.1 6.6,10.2 4.9,18.2" fill="#a03321"/><polygon points="2.9,31.7 3.6,33.9 6.8,37.3 7.2,37.2 9.5,33.4 8.4,30.2 7.3,29.2 7.3,29.2" fill="#7c2c25"/><polygon points="7.9,38.0 11.0,39.9 14.4,40.9 15.4,39.7 13.1,34.5 10.4,34.0" fill="#913223"/><polygon points="13.6,54.7 8.8,57.3 8.8,57.4 10.1,62.6 11.3,62.2 15.6,56.4" fill="#9d3826"/><polygon points="8.4,0.2 16.1,1.1 16.5,-1.0 9.3,-1.0" fill="#7c2923"/><polygon points="16.0,9.2 16.8,10.4 22.1,9.3 22.5,8.6 19.6,5.6" fill="#8d3023"/><polygon points="13.5,6.8 10.7,6.8 8.5,9.9 10.8,15.5 15.5,13.3 16.4,10.8 15.4,9.3" fill="#952e1e"/><polygon points="17.7,22.7 18.9,17.0 15.6,13.2 10.6,15.5 9.5,18.0 16.7,22.8" fill="#982f1f"/><polygon points="9.2,25.0 14.7,23.2 15.3,22.5 10.0,19.0 8.8,19.5" fill="#883127"/><polygon points="18.9,23.1 17.6,22.4 16.6,22.5 15.7,23.5 13.6,28.6 14.6,29.6 21.0,28.4" fill="#a13322"/><polygon points="15.9,40.3 19.4,38.8 21.6,32.9 15.3,32.3 13.0,34.0" fill="#a03321"/><polygon points="14.2,42.0 11.0,41.0 8.0,46.8 13.3,46.5 14.4,45.6" fill="#6f2625"/><polygon points="15.8,56.2 11.1,62.4 15.1,63.7 20.2,62.0 20.6,61.2 19.5,57.1 18.2,56.2" fill="#8d2a1c"/><polygon points="11.4,62.8 10.3,63.2 9.7,63.8 9.6,64.6 9.8,65.0 15.4,65.0 14.9,63.9" fill="#9b3626"/><polygon points="16.8,1.4 16.9,2.2 17.9,2.7 23.6,2.0 23.7,-1.0 17.3,-1.0" fill="#98301f"/><polygon points="16.7,2.4 13.6,6.7 15.5,9.2 19.6,5.2 17.7,3.0" fill="#a23422"/><polygon points="23.0,14.7 22.2,9.9 16.9,11.1 16.1,13.3 18.9,16.5 23.0,14.7" fill="#9e3827"/><polygon points="24.4,19.8 23.3,15.3 18.9,17.2 17.9,22.3 19.0,22.9 21.9,22.0" fill="#a13422"/><polygon points="21.9,22.0 18.6,23.1 20.8,28.5 21.2,29.2 25.7,27.2 26.9,25.1" fill="#a13422"/><polygon points="20.7,28.6 15.0,29.6 15.6,32.4 21.1,32.9 21.3,32.7 21.1,29.1" fill="#8a291c"/><polygon points="25.3,49.6 25.8,49.0 25.7,48.3 22.8,46.2 18.2,47.3 19.8,51.0" fill="#a63c29"/><polygon points="19.6,57.0 24.8,55.2 26.0,50.1 19.4,51.8 18.3,56.1" fill="#a23a28"/><polygon points="20.6,61.1 25.8,62.1 26.6,57.0 24.9,55.4 19.5,57.2" fill="#7e241c"/><polygon points="15.8,65.0 20.3,65.0 20.1,62.0 15.2,63.7" fill="#952e1f"/><polygon points="24.6,-0.9 24.5,2.0 26.0,5.7 28.0,5.7 28.6,1.9 28.5,-1.0 24.7,-1.0" fill="#94362a"/><polygon points="28.7,7.3 29.7,6.7 33.7,1.4 29.1,1.9 28.3,7.1" fill="#972f1f"/><polygon points="23.9,9.1 23.5,9.8 24.2,14.2 29.4,14.2 31.5,12.0 28.5,7.9 28.1,7.8 26.1,7.8" fill="#732825"/><polygon points="29.6,20.9 30.0,15.0 23.5,14.9 23.5,15.0 24.6,19.8 29.5,21.1" fill="#74201c"/><polygon points="24.7,19.9 22.1,22.2 26.7,25.0 30.2,22.9 29.4,21.1" fill="#7d241c"/><polygon points="27.1,25.5 26.2,27.1 30.6,31.2 31.2,30.7 32.3,28.8 30.7,24.1 30.2,23.7" fill="#852d23"/><polygon points="21.3,29.0 21.6,32.9 28.5,34.7 29.8,33.6 30.8,31.9 25.5,27.1" fill="#9b3120"/><polygon points="25.4,55.0 26.9,56.4 29.8,56.4 28.2,50.8 26.9,49.9 26.4,50.6" fill="#983525"/><polygon points="28.1,64.2 26.0,62.0 20.4,61.0 20.0,61.8 20.2,65.0 27.4,65.0" fill="#87281c"/><polygon points="29.8,64.8 27.8,64.6 27.4,65.0 29.8,65.0" fill="#8a291c"/><polygon points="33.5,1.7 35.6,0.2 35.5,-1.0 28.9,-1.0 29.1,2.2" fill="#7a231c"/><polygon points="36.9,3.7 36.9,3.1 35.4,0.2 33.5,1.6 29.8,6.5" fill="#9e3221"/><polygon points="32.8,12.9 30.7,15.2 30.4,19.9 37.1,16.0 37.3,15.2 35.4,13.3" fill="#94362a"/><polygon points="31.2,22.3 31.7,22.7 36.3,21.1 37.1,17.0 30.6,20.7 30.6,20.9" fill="#7c2b25"/><polygon points="36.9,21.8 31.4,23.6 33.1,28.7 37.7,28.1 39.6,25.1" fill="#8f3123"/><polygon points="37.9,54.6 42.1,51.7 42.1,51.7 39.5,47.9 36.8,46.5 34.6,51.6 35.8,54.1" fill="#6a2425"/><polygon points="31.9,56.7 34.4,54.7 33.3,52.3 29.2,51.0 30.6,56.3" fill="#802d25"/><polygon points="39.6,15.2 43.2,17.2 48.2,18.0 48.7,12.3 47.5,9.8 44.7,9.5" fill="#9a3020"/><polygon points="44.0,26.5 41.5,25.8 40.5,26.0 38.9,28.4 40.9,31.6 43.6,29.7" fill="#842f26"/><polygon points="40.6,32.8 38.1,35.0 37.0,38.8 37.2,40.2 45.1,39.6 44.9,37.0" fill="#8f2b1d"/><polygon points="36.8,65.0 41.4,65.0 42.0,62.2 40.8,61.4 39.2,60.9 36.2,64.1" fill="#8f3123"/><polygon points="46.2,2.0 47.5,9.3 51.4,5.7 47.6,1.3 46.6,1.3" fill="#822e25"/><polygon points="49.2,13.1 48.9,16.9 49.2,17.2 53.5,16.3 52.7,12.4" fill="#6d2525"/><polygon points="47.2,32.4 44.4,30.4 40.9,32.8 40.9,32.9 44.9,36.8 47.7,33.4" fill="#8e2b1c"/><polygon points="45.3,37.0 45.4,39.3 45.6,39.6 53.5,37.4 53.5,35.1 52.9,33.7 48.0,33.6" fill="#8e2b1d"/><polygon points="43.8,52.2 43.5,52.3 43.5,52.3 44.7,55.6 46.6,58.8 49.8,58.1 50.5,56.3" fill="#a73c29"/><polygon points="54.2,6.0 55.3,7.8 57.6,8.6 59.4,3.1 57.6,2.4" fill="#732825"/><polygon points="55.1,9.5 54.0,11.7 54.9,15.8 55.6,16.0 59.3,11.9 58.1,10.7 57.5,10.3" fill="#8a3227"/><polygon points="54.9,17.8 54.1,17.6 49.2,18.7 49.4,23.8 50.1,24.3 51.3,24.8 54.5,23.8 56.7,20.4" fill="#9e3826"/><polygon points="51.2,25.8 53.5,32.0 59.3,28.6 54.9,24.6" fill="#9e3221"/><polygon points="52.5,53.7 50.1,50.6 48.6,50.5 45.3,51.5 44.6,52.0 50.5,55.6" fill="#812b23"/><polygon points="58.5,0.7 60.2,1.4 62.1,1.6 63.8,1.2 62.7,-1.0 57.8,-1.0" fill="#6c2525"/><polygon points="60.2,3.2 58.5,8.5 59.0,9.0 61.9,4.0 62.1,3.4" fill="#6d2525"/><polygon points="58.9,10.0 60.4,11.4 61.5,11.5 62.3,4.1" fill="#993625"/><polygon points="61.2,28.0 62.0,28.2 64.1,26.5 63.5,20.5 58.9,20.9" fill="#882e23"/><polygon points="57.7,20.7 55.2,24.4 59.4,28.3 60.8,28.4 58.3,20.7" fill="#9c3726"/><polygon points="59.5,28.9 53.8,32.3 53.5,33.3 54.2,34.8 61.8,34.0 62.3,33.5 61.8,29.3 60.9,29.1" fill="#8b291c"/><polygon points="60.6,39.1 62.1,41.1 68.0,42.6 68.6,41.5 68.5,41.2 64.2,34.6 62.7,33.9 62.2,34.4" fill="#982f1f"/><polygon points="63.6,51.5 66.7,46.9 59.2,48.0 59.1,49.6" fill="#862d23"/><polygon points="57.1,53.9 57.8,54.9 61.5,56.1 63.3,53.3 63.1,52.2 58.7,50.3" fill="#8c3023"/><polygon points="55.6,62.1 58.8,63.1 64.4,60.1 61.9,56.5 57.2,55.0" fill="#932d1e"/><polygon points="69.4,-1.0 63.9,-1.0 65.2,1.7 65.6,1.8 69.4,-0.3" fill="#8b3023"/><polygon points="69.7,0.7 66.3,2.6 67.4,8.3 68.8,8.6 72.7,6.1 72.5,2.4 72.2,2.0" fill="#852d23"/><polygon points="65.2,3.3 64.9,3.3 63.1,3.7 62.9,4.4 62.2,10.8 63.5,11.3 66.3,8.7" fill="#8a3227"/><polygon points="67.0,9.5 63.6,12.6 65.6,17.7 70.9,18.0 71.6,17.8 71.4,13.2 68.6,9.8" fill="#9e3827"/><polygon points="64.5,20.2 65.1,26.0 66.4,26.2 69.3,23.6 70.3,19.0 65.8,18.8" fill="#893127"/><polygon points="69.0,33.2 64.4,34.5 68.7,41.0 69.6,35.8" fill="#8e2b1d"/><polygon points="67.3,46.3 67.8,46.0 67.8,42.9 62.1,41.5 58.1,46.4 58.8,47.5" fill="#7e241c"/><polygon points="63.6,53.5 66.8,54.3 71.8,50.5 71.4,49.1 68.3,45.7 67.6,46.1 63.5,52.1" fill="#972f1f"/><polygon points="64.1,60.2 65.7,60.9 67.4,58.6 67.0,53.9 63.9,53.1 61.7,56.6" fill="#89291c"/><polygon points="70.1,63.5 72.2,63.2 73.4,61.6 72.0,56.6 67.8,58.9 66.6,60.7 68.0,63.2 69.2,63.5" fill="#852d23"/><polygon points="67.2,63.9 65.5,60.9 64.1,60.4 59.1,63.0 59.8,65.0 66.3,65.0" fill="#77211c"/><polygon points="67.4,65.0 67.4,65.0 67.5,65.0" fill="#8d3023"/><polygon points="69.7,9.5 71.8,12.1 74.7,9.3 73.1,7.4" fill="#8d3328"/><polygon points="74.8,19.0 71.9,18.3 71.2,18.5 70.0,23.9 73.3,26.4 75.9,21.5" fill="#a13927"/><polygon points="76.1,21.7 73.5,26.7 73.4,28.7 80.4,27.3 79.5,24.7 79.1,23.9" fill="#9d3726"/><polygon points="75.4,34.0 72.3,30.2 71.0,30.3 69.1,32.9 69.8,35.8" fill="#993020"/><polygon points="71.2,48.9 77.0,46.1 72.5,40.7 69.1,41.9 68.5,42.9 68.5,46.0" fill="#932d1e"/><polygon points="72.3,55.4 72.7,52.7 71.4,50.8 67.1,54.1 67.4,58.2 72.2,55.5" fill="#86281c"/><polygon points="83.9,19.2 78.7,16.9 76.0,19.0 76.9,21.0 79.3,22.9" fill="#93362a"/><polygon points="81.2,27.0 81.6,27.5 84.7,27.4 84.9,23.3 80.4,24.9" fill="#6f2625"/><polygon points="76.5,34.0 79.0,32.8 80.4,28.6 79.9,28.0 73.9,29.2 73.3,30.3 75.7,33.4" fill="#9d3726"/><polygon points="84.7,46.6 82.1,45.2 80.5,46.7 80.2,52.2 80.9,52.8 85.4,51.3" fill="#8e3428"/><polygon points="79.3,60.2 81.4,62.7 82.7,62.3 83.5,58.6 80.6,57.3 79.7,58.8" fill="#702725"/><polygon points="86.7,31.2 86.4,29.3 84.9,28.6 81.7,28.7 80.3,32.8 83.5,34.6" fill="#6a2425"/><polygon points="85.9,46.3 86.6,51.4 87.6,52.0 87.6,52.0 87.6,46.2 86.5,46.1" fill="#7b2b25"/><polygon points="86.9,53.6 86.8,53.3 85.9,52.8 81.4,54.2 81.5,56.3 84.2,57.6 87.6,57.5 87.6,55.2" fill="#792a25"/><polygon points="83.7,62.6 87.6,62.8 87.6,58.6 84.6,58.7" fill="#742825"/></g></svg></div>
<div class="im" style="left:433.8px;top:93.3px;width:86.2px;height:64.0px"><svg width="86.2" height="64.0" viewBox="0 0 86.2 64.0" style="position:absolute;left:0;top:0"><defs><filter id="bl5" x="-20%" y="-20%" width="140%" height="140%"><feGaussianBlur stdDeviation="1.8"/></filter><filter id="cb5" x="-5%" y="-5%" width="110%" height="110%"><feGaussianBlur stdDeviation="0.75"/></filter></defs><g filter="url(#bl5)"><rect x="-12.0" y="-12.0" width="12.0" height="12.0" fill="#c8c8c6"/><rect x="0.0" y="-12.0" width="7.8" height="12.0" fill="#c8c8c6"/><rect x="7.2" y="-12.0" width="7.8" height="12.0" fill="#acb6cd"/><rect x="14.4" y="-12.0" width="7.8" height="12.0" fill="#b6a5a0"/><rect x="21.6" y="-12.0" width="7.8" height="12.0" fill="#b6a5a0"/><rect x="28.7" y="-12.0" width="7.8" height="12.0" fill="#c8c8c6"/><rect x="35.9" y="-12.0" width="7.8" height="12.0" fill="#b6a5a0"/><rect x="43.1" y="-12.0" width="7.8" height="12.0" fill="#c3b6b2"/><rect x="50.3" y="-12.0" width="7.8" height="12.0" fill="#b6a5a0"/><rect x="57.5" y="-12.0" width="7.8" height="12.0" fill="#c8c8c6"/><rect x="64.7" y="-12.0" width="7.8" height="12.0" fill="#c8c8c6"/><rect x="71.8" y="-12.0" width="7.8" height="12.0" fill="#c3b6b2"/><rect x="79.0" y="-12.0" width="7.8" height="12.0" fill="#c8c8c6"/><rect x="86.2" y="-12.0" width="12.0" height="12.0" fill="#c8c8c6"/><rect x="-12.0" y="0.0" width="12.0" height="8.6" fill="#c8c8c6"/><rect x="0.0" y="0.0" width="7.8" height="8.6" fill="#c8c8c6"/><rect x="7.2" y="0.0" width="7.8" height="8.6" fill="#acb6cd"/><rect x="14.4" y="0.0" width="7.8" height="8.6" fill="#b6a5a0"/><rect x="21.6" y="0.0" width="7.8" height="8.6" fill="#b6a5a0"/><rect x="28.7" y="0.0" width="7.8" height="8.6" fill="#c8c8c6"/><rect x="35.9" y="0.0" width="7.8" height="8.6" fill="#b6a5a0"/><rect x="43.1" y="0.0" width="7.8" height="8.6" fill="#c3b6b2"/><rect x="50.3" y="0.0" width="7.8" height="8.6" fill="#b6a5a0"/><rect x="57.5" y="0.0" width="7.8" height="8.6" fill="#c8c8c6"/><rect x="64.7" y="0.0" width="7.8" height="8.6" fill="#c8c8c6"/><rect x="71.8" y="0.0" width="7.8" height="8.6" fill="#c3b6b2"/><rect x="79.0" y="0.0" width="7.8" height="8.6" fill="#c8c8c6"/><rect x="86.2" y="0.0" width="12.0" height="8.6" fill="#c8c8c6"/><rect x="-12.0" y="8.0" width="12.0" height="8.6" fill="#c8c8c6"/><rect x="0.0" y="8.0" width="7.8" height="8.6" fill="#c8c8c6"/><rect x="7.2" y="8.0" width="7.8" height="8.6" fill="#b6a5a0"/><rect x="14.4" y="8.0" width="7.8" height="8.6" fill="#c8c8c6"/><rect x="21.6" y="8.0" width="7.8" height="8.6" fill="#b6a5a0"/><rect x="28.7" y="8.0" width="7.8" height="8.6" fill="#b6a5a0"/><rect x="35.9" y="8.0" width="7.8" height="8.6" fill="#b6a5a0"/><rect x="43.1" y="8.0" width="7.8" height="8.6" fill="#c8c8c6"/><rect x="50.3" y="8.0" width="7.8" height="8.6" fill="#b6a5a0"/><rect x="57.5" y="8.0" width="7.8" height="8.6" fill="#b6a5a0"/><rect x="64.7" y="8.0" width="7.8" height="8.6" fill="#c8c8c6"/><rect x="71.8" y="8.0" width="7.8" height="8.6" fill="#c3b6b2"/><rect x="79.0" y="8.0" width="7.8" height="8.6" fill="#c8c8c6"/><rect x="86.2" y="8.0" width="12.0" height="8.6" fill="#c8c8c6"/><rect x="-12.0" y="16.0" width="12.0" height="8.6" fill="#c0e2de"/><rect x="0.0" y="16.0" width="7.8" height="8.6" fill="#c0e2de"/><rect x="7.2" y="16.0" width="7.8" height="8.6" fill="#c3b6b2"/><rect x="14.4" y="16.0" width="7.8" height="8.6" fill="#c3b6b2"/><rect x="21.6" y="16.0" width="7.8" height="8.6" fill="#b6a5a0"/><rect x="28.7" y="16.0" width="7.8" height="8.6" fill="#c3b6b2"/><rect x="35.9" y="16.0" width="7.8" height="8.6" fill="#b6a5a0"/><rect x="43.1" y="16.0" width="7.8" height="8.6" fill="#b6a5a0"/><rect x="50.3" y="16.0" width="7.8" height="8.6" fill="#c3b6b2"/><rect x="57.5" y="16.0" width="7.8" height="8.6" fill="#b6a5a0"/><rect x="64.7" y="16.0" width="7.8" height="8.6" fill="#c8c8c6"/><rect x="71.8" y="16.0" width="7.8" height="8.6" fill="#b6a5a0"/><rect x="79.0" y="16.0" width="7.8" height="8.6" fill="#c8c8c6"/><rect x="86.2" y="16.0" width="12.0" height="8.6" fill="#c8c8c6"/><rect x="-12.0" y="24.0" width="12.0" height="8.6" fill="#c0e2de"/><rect x="0.0" y="24.0" width="7.8" height="8.6" fill="#c0e2de"/><rect x="7.2" y="24.0" width="7.8" height="8.6" fill="#c8c8c6"/><rect x="14.4" y="24.0" width="7.8" height="8.6" fill="#c3b6b2"/><rect x="21.6" y="24.0" width="7.8" height="8.6" fill="#b6a5a0"/><rect x="28.7" y="24.0" width="7.8" height="8.6" fill="#b6a5a0"/><rect x="35.9" y="24.0" width="7.8" height="8.6" fill="#b6a5a0"/><rect x="43.1" y="24.0" width="7.8" height="8.6" fill="#b6a5a0"/><rect x="50.3" y="24.0" width="7.8" height="8.6" fill="#c8c8c6"/><rect x="57.5" y="24.0" width="7.8" height="8.6" fill="#b6a5a0"/><rect x="64.7" y="24.0" width="7.8" height="8.6" fill="#c3b6b2"/><rect x="71.8" y="24.0" width="7.8" height="8.6" fill="#b6a5a0"/><rect x="79.0" y="24.0" width="7.8" height="8.6" fill="#c3b6b2"/><rect x="86.2" y="24.0" width="12.0" height="8.6" fill="#c3b6b2"/><rect x="-12.0" y="32.0" width="12.0" height="8.6" fill="#c8c8c6"/><rect x="0.0" y="32.0" width="7.8" height="8.6" fill="#c8c8c6"/><rect x="7.2" y="32.0" width="7.8" height="8.6" fill="#c0e2de"/><rect x="14.4" y="32.0" width="7.8" height="8.6" fill="#c8c8c6"/><rect x="21.6" y="32.0" width="7.8" height="8.6" fill="#b6a5a0"/><rect x="28.7" y="32.0" width="7.8" height="8.6" fill="#b6a5a0"/><rect x="35.9" y="32.0" width="7.8" height="8.6" fill="#b6a5a0"/><rect x="43.1" y="32.0" width="7.8" height="8.6" fill="#b6a5a0"/><rect x="50.3" y="32.0" width="7.8" height="8.6" fill="#c3b6b2"/><rect x="57.5" y="32.0" width="7.8" height="8.6" fill="#b6a5a0"/><rect x="64.7" y="32.0" width="7.8" height="8.6" fill="#c8c8c6"/><rect x="71.8" y="32.0" width="7.8" height="8.6" fill="#b6a5a0"/><rect x="79.0" y="32.0" width="7.8" height="8.6" fill="#b6a5a0"/><rect x="86.2" y="32.0" width="12.0" height="8.6" fill="#b6a5a0"/><rect x="-12.0" y="40.0" width="12.0" height="8.6" fill="#c0e2de"/><rect x="0.0" y="40.0" width="7.8" height="8.6" fill="#c0e2de"/><rect x="7.2" y="40.0" width="7.8" height="8.6" fill="#c8c8c6"/><rect x="14.4" y="40.0" width="7.8" height="8.6" fill="#c0e2de"/><rect x="21.6" y="40.0" width="7.8" height="8.6" fill="#b6a5a0"/><rect x="28.7" y="40.0" width="7.8" height="8.6" fill="#b6a5a0"/><rect x="35.9" y="40.0" width="7.8" height="8.6" fill="#c3b6b2"/><rect x="43.1" y="40.0" width="7.8" height="8.6" fill="#c8c8c6"/><rect x="50.3" y="40.0" width="7.8" height="8.6" fill="#b6a5a0"/><rect x="57.5" y="40.0" width="7.8" height="8.6" fill="#b6a5a0"/><rect x="64.7" y="40.0" width="7.8" height="8.6" fill="#c8c8c6"/><rect x="71.8" y="40.0" width="7.8" height="8.6" fill="#b6a5a0"/><rect x="79.0" y="40.0" width="7.8" height="8.6" fill="#c3b6b2"/><rect x="86.2" y="40.0" width="12.0" height="8.6" fill="#c3b6b2"/><rect x="-12.0" y="48.0" width="12.0" height="8.6" fill="#c8c8c6"/><rect x="0.0" y="48.0" width="7.8" height="8.6" fill="#c8c8c6"/><rect x="7.2" y="48.0" width="7.8" height="8.6" fill="#c0e2de"/><rect x="14.4" y="48.0" width="7.8" height="8.6" fill="#c8c8c6"/><rect x="21.6" y="48.0" width="7.8" height="8.6" fill="#c8c8c6"/><rect x="28.7" y="48.0" width="7.8" height="8.6" fill="#c3b6b2"/><rect x="35.9" y="48.0" width="7.8" height="8.6" fill="#c8c8c6"/><rect x="43.1" y="48.0" width="7.8" height="8.6" fill="#b6a5a0"/><rect x="50.3" y="48.0" width="7.8" height="8.6" fill="#c3b6b2"/><rect x="57.5" y="48.0" width="7.8" height="8.6" fill="#c0e2de"/><rect x="64.7" y="48.0" width="7.8" height="8.6" fill="#c8c8c6"/><rect x="71.8" y="48.0" width="7.8" height="8.6" fill="#b6a5a0"/><rect x="79.0" y="48.0" width="7.8" height="8.6" fill="#c8c8c6"/><rect x="86.2" y="48.0" width="12.0" height="8.6" fill="#c8c8c6"/><rect x="-12.0" y="56.0" width="12.0" height="8.6" fill="#b6a5a0"/><rect x="0.0" y="56.0" width="7.8" height="8.6" fill="#b6a5a0"/><rect x="7.2" y="56.0" width="7.8" height="8.6" fill="#c3b6b2"/><rect x="14.4" y="56.0" width="7.8" height="8.6" fill="#c8c8c6"/><rect x="21.6" y="56.0" width="7.8" height="8.6" fill="#b6a5a0"/><rect x="28.7" y="56.0" width="7.8" height="8.6" fill="#c3b6b2"/><rect x="35.9" y="56.0" width="7.8" height="8.6" fill="#c8c8c6"/><rect x="43.1" y="56.0" width="7.8" height="8.6" fill="#c3b6b2"/><rect x="50.3" y="56.0" width="7.8" height="8.6" fill="#c3b6b2"/><rect x="57.5" y="56.0" width="7.8" height="8.6" fill="#c0e2de"/><rect x="64.7" y="56.0" width="7.8" height="8.6" fill="#c3b6b2"/><rect x="71.8" y="56.0" width="7.8" height="8.6" fill="#c3b6b2"/><rect x="79.0" y="56.0" width="7.8" height="8.6" fill="#c8c8c6"/><rect x="86.2" y="56.0" width="12.0" height="8.6" fill="#c8c8c6"/><rect x="-12.0" y="64.0" width="12.0" height="12.0" fill="#b6a5a0"/><rect x="0.0" y="64.0" width="7.8" height="12.0" fill="#b6a5a0"/><rect x="7.2" y="64.0" width="7.8" height="12.0" fill="#c3b6b2"/><rect x="14.4" y="64.0" width="7.8" height="12.0" fill="#c8c8c6"/><rect x="21.6" y="64.0" width="7.8" height="12.0" fill="#b6a5a0"/><rect x="28.7" y="64.0" width="7.8" height="12.0" fill="#c3b6b2"/><rect x="35.9" y="64.0" width="7.8" height="12.0" fill="#c8c8c6"/><rect x="43.1" y="64.0" width="7.8" height="12.0" fill="#c3b6b2"/><rect x="50.3" y="64.0" width="7.8" height="12.0" fill="#c3b6b2"/><rect x="57.5" y="64.0" width="7.8" height="12.0" fill="#c0e2de"/><rect x="64.7" y="64.0" width="7.8" height="12.0" fill="#c3b6b2"/><rect x="71.8" y="64.0" width="7.8" height="12.0" fill="#c3b6b2"/><rect x="79.0" y="64.0" width="7.8" height="12.0" fill="#c8c8c6"/><rect x="86.2" y="64.0" width="12.0" height="12.0" fill="#c8c8c6"/></g><g filter="url(#cb5)" stroke-linejoin="round"><polygon points="1.9,28.9 1.9,28.8 -1.0,23.6 -1.0,29.9" fill="none" stroke="#8ca5aa" stroke-width="0.7"/><polygon points="-0.9,1.0 2.9,0.8 3.1,-1.0 -0.3,-1.0" fill="none" stroke="#b97870" stroke-width="0.7"/><polygon points="0.2,14.4 1.4,19.2 4.2,18.0 4.6,15.8 2.3,13.2" fill="none" stroke="#8ca5aa" stroke-width="0.7"/><polygon points="-0.3,56.2 3.0,50.1 1.7,49.3 -1.0,50.3 -1.0,55.8" fill="none" stroke="#b97870" stroke-width="0.7"/><polygon points="1.8,20.3 1.4,21.0 3.7,22.6 6.1,21.1 4.5,19.1" fill="none" stroke="#8ca5aa" stroke-width="0.7"/><polygon points="4.4,27.7 2.9,29.2 2.9,29.3 4.5,31.6 9.7,32.4 8.7,26.2" fill="none" stroke="#8ca5aa" stroke-width="0.7"/><polygon points="12.0,45.1 12.9,43.5 12.4,39.9 9.1,40.5 8.2,42.2 10.4,45.2" fill="none" stroke="#b97870" stroke-width="0.7"/><polygon points="22.4,64.4 20.9,64.5 19.5,65.0 22.4,65.0" fill="none" stroke="#b97870" stroke-width="0.7"/><polygon points="23.3,50.7 24.1,51.8 26.8,51.0 29.2,48.3 26.2,46.1" fill="none" stroke="#b97870" stroke-width="0.7"/><polygon points="40.1,62.2 39.6,62.0 32.8,63.4 31.8,64.4 34.1,65.0 39.8,65.0" fill="none" stroke="#b97870" stroke-width="0.7"/><polygon points="56.1,58.8 55.4,60.6 56.0,64.1 60.3,63.8 60.4,61.4" fill="none" stroke="#8ca5aa" stroke-width="0.7"/><polygon points="64.7,52.7 65.3,47.9 58.5,45.9 57.3,46.5 56.2,47.5 57.6,53.3 64.0,53.2" fill="none" stroke="#8ca5aa" stroke-width="0.7"/><polygon points="63.5,60.3 61.7,61.6 61.7,64.2 62.1,65.0 65.0,65.0 65.4,64.9 65.8,61.2" fill="none" stroke="#8ca5aa" stroke-width="0.7"/><polygon points="67.1,6.2 61.6,8.9 61.5,9.4 64.2,14.3 69.6,11.2 68.2,6.8" fill="none" stroke="#b97870" stroke-width="0.7"/><polygon points="86.9,9.5 84.2,7.7 80.9,9.0 80.2,10.7 83.5,14.0" fill="none" stroke="#b97870" stroke-width="0.7"/><polygon points="86.0,46.7 85.7,46.9 87.2,49.8 87.2,46.7" fill="none" stroke="#b97870" stroke-width="0.7"/><polygon points="-0.1,63.5 1.4,61.6 0.7,58.3 -0.4,57.3 -1.0,57.0 -1.0,63.7" fill="#611d1e"/><polygon points="5.9,6.3 5.0,3.8 3.2,2.8 -0.2,2.9 -0.4,3.1 0.6,6.0 3.0,7.8" fill="#702625"/><polygon points="-0.7,13.0 1.3,11.9 1.9,9.7 -0.8,7.6 -1.0,7.8 -1.0,13.0" fill="#6f2625"/><polygon points="3.2,35.0 3.4,32.2 2.1,30.3 -1.0,31.4 -1.0,36.2 1.4,37.2" fill="#8a3227"/><polygon points="7.5,39.5 7.4,37.6 4.4,36.5 2.8,38.5 3.6,40.3 4.2,40.9 6.7,41.1" fill="#7b2b25"/><polygon points="5.7,54.7 4.7,50.9 3.7,50.7 0.6,56.4 1.5,57.2" fill="#822e25"/><polygon points="8.8,58.2 8.4,55.9 6.4,55.2 1.2,58.2 1.9,61.5 3.8,62.0" fill="#862d22"/><polygon points="-0.2,64.3 -1.0,64.5 -1.0,65.0 -0.1,65.0" fill="#621e1e"/><polygon points="4.1,0.9 6.0,2.0 7.3,-1.0 4.4,-1.0" fill="#7c2b25"/><polygon points="3.8,12.1 5.8,14.3 9.3,13.9 9.4,13.7 8.4,8.8 7.3,8.5 4.4,10.1" fill="#7b2b25"/><polygon points="10.2,15.6 5.7,16.1 5.2,18.4 7.2,20.7 8.1,21.1 10.8,18.6" fill="#872e23"/><polygon points="9.1,33.1 5.2,32.5 5.0,35.1 8.0,36.2 9.7,33.6" fill="#893127"/><polygon points="12.1,62.7 9.1,58.9 4.5,62.3 8.3,65.0 10.5,65.0 12.1,63.3" fill="#772721"/><polygon points="3.7,62.7 1.9,62.2 0.4,64.0 0.6,65.0 6.9,65.0" fill="#72241e"/><polygon points="16.0,1.2 13.5,5.8 17.7,10.4 19.1,9.8 20.7,4.0 19.3,2.2 16.5,0.9" fill="#69201e"/><polygon points="13.0,6.0 9.4,7.4 10.9,14.6 16.8,13.4 17.6,10.9" fill="#7c2920"/><polygon points="18.4,17.6 16.6,14.0 11.4,15.1 11.2,15.4 11.8,18.5 14.2,19.8" fill="#832c22"/><polygon points="11.3,19.6 8.9,21.8 9.6,24.8 13.5,22.8 13.4,20.8" fill="#742621"/><polygon points="10.4,25.8 10.4,25.9 14.6,28.1 16.5,26.6 14.1,24.0" fill="#722725"/><polygon points="16.7,37.4 15.6,37.0 13.7,39.2 14.2,42.6 17.5,40.4" fill="#98382b"/><polygon points="18.4,48.5 15.6,48.6 15.7,53.0 15.8,53.1 20.0,50.5" fill="#903429"/><polygon points="9.7,56.2 10.0,58.0 12.6,61.3 15.1,57.1 14.2,55.3 14.2,55.3 11.4,55.2" fill="#903226"/><polygon points="17.8,63.9 19.7,63.2 16.9,58.4 16.3,58.3 13.9,62.4 14.0,62.9" fill="#8a3227"/><polygon points="13.2,64.2 12.5,65.0 16.3,65.0" fill="#732825"/><polygon points="17.0,0.2 19.7,1.4 24.8,-1.0 17.2,-1.0" fill="#611d1e"/><polygon points="21.3,3.8 25.1,5.5 27.1,-0.2 25.6,-0.8 19.9,1.9" fill="#6f231e"/><polygon points="19.8,10.0 24.1,10.5 24.9,6.3 24.8,6.1 21.3,4.4" fill="#67201e"/><polygon points="17.4,13.6 19.3,17.5 22.2,18.8 23.4,18.4 24.6,17.1 26.3,14.0 24.2,11.2 19.5,10.7 18.1,11.2" fill="#802a21"/><polygon points="15.1,22.9 17.9,25.9 19.7,25.8 21.5,19.8 18.9,18.6 14.9,20.7" fill="#7a2821"/><polygon points="23.5,19.3 22.4,19.7 20.4,26.5 22.4,28.5 27.9,24.1" fill="#6e221e"/><polygon points="19.6,28.0 17.9,28.1 15.8,29.7 14.6,32.9 16.3,34.8 17.5,35.1 21.4,33.0 21.7,30.8 21.2,29.7" fill="#8b3024"/><polygon points="20.9,41.4 24.3,37.1 22.2,34.8 18.3,36.8 19.1,39.9" fill="#7a2b25"/><polygon points="25.7,44.9 21.0,43.4 19.2,47.4 21.5,50.3 22.5,50.8 25.9,45.4" fill="#631e1e"/><polygon points="21.1,51.4 16.0,54.4 16.9,56.3 17.6,56.5 22.7,55.7 22.7,52.9 21.9,51.8" fill="#832e25"/><polygon points="22.6,63.4 25.6,61.7 25.6,59.9 23.3,56.5 17.6,57.4 21.1,63.5" fill="#631e1e"/><polygon points="27.4,-0.8 29.0,-1.0 26.8,-1.0" fill="#621e1e"/><polygon points="29.3,0.4 27.8,0.5 26.2,5.1 26.3,5.3 31.3,5.4 31.4,5.2 31.8,4.2 31.0,1.6" fill="#702625"/><polygon points="30.2,12.9 31.7,6.4 25.6,6.4 24.8,10.8 26.8,13.6" fill="#7f2a21"/><polygon points="25.6,17.3 31.9,20.3 31.8,18.3 30.5,14.0 30.2,13.9 27.1,14.5" fill="#832c22"/><polygon points="32.9,24.2 33.1,24.0 31.8,21.1 25.6,18.1 24.5,19.3 28.4,23.6 31.7,24.4" fill="#702421"/><polygon points="28.2,24.6 23.0,28.8 23.5,30.1 27.7,29.7 31.5,25.4" fill="#6c221e"/><polygon points="23.2,30.8 22.9,33.5 25.7,36.5 26.4,36.8 30.5,33.1 27.7,30.3" fill="#8a2f24"/><polygon points="30.8,33.2 26.6,37.1 28.9,39.8 33.0,40.4 34.2,35.9 32.8,33.1" fill="#78271e"/><polygon points="28.4,40.1 26.3,37.6 25.6,37.3 21.3,42.6 21.4,42.9 25.9,44.4" fill="#641e1e"/><polygon points="24.5,55.9 26.3,58.6 30.2,55.4 26.9,52.7 24.5,53.4" fill="#812e25"/><polygon points="27.2,61.4 30.2,63.7 31.3,63.3 32.1,62.5 34.2,58.5 32.8,56.1 31.4,56.6 27.2,60.0" fill="#832c22"/><polygon points="26.0,62.4 23.0,64.1 23.0,65.0 29.4,65.0" fill="#6f231e"/><polygon points="33.1,-1.0 30.8,-1.0 32.0,-0.1" fill="#772a25"/><polygon points="32.6,5.9 38.2,10.0 39.3,3.7 33.1,4.6" fill="#70241e"/><polygon points="32.1,6.3 30.5,13.1 30.9,13.3 35.6,13.6 38.3,10.7 38.2,10.4 32.3,6.1" fill="#6e221e"/><polygon points="35.5,13.9 31.1,13.7 32.5,18.3 36.7,16.4" fill="#812b21"/><polygon points="36.6,17.5 33.0,19.1 33.1,20.9 34.2,23.5 36.2,22.9 37.1,18.2" fill="#842d23"/><polygon points="39.1,24.6 36.6,24.0 34.1,24.7 33.9,24.9 34.5,30.0 39.5,31.9 40.1,31.6" fill="#8b3024"/><polygon points="28.1,30.0 30.9,32.8 32.8,32.7 34.1,30.1 33.5,25.1 32.2,25.4" fill="#74251e"/><polygon points="34.4,36.0 33.2,40.5 35.3,42.9 38.6,41.3 40.5,38.6 38.2,35.4" fill="#72251e"/><polygon points="30.2,47.5 32.9,47.6 34.6,45.5 34.6,43.2 32.7,41.1 29.1,40.6 26.7,44.7 26.9,45.1" fill="#6f231e"/><polygon points="40.0,52.3 38.4,48.3 35.6,47.0 34.3,48.7 34.9,52.7" fill="#772925"/><polygon points="31.5,54.4 32.9,54.0 33.3,53.1 32.7,49.0 30.4,49.0 28.0,51.5" fill="#812b22"/><polygon points="35.8,58.7 35.5,58.6 33.2,62.9 39.0,61.7" fill="#712421"/><polygon points="32.2,1.0 33.2,4.0 39.2,3.1 39.7,2.7 39.8,-1.0 34.8,-1.0" fill="#70231e"/><polygon points="44.8,-1.0 40.5,-1.0 40.4,2.8 43.4,4.4 45.8,3.7" fill="#5f1c1e"/><polygon points="40.3,3.6 39.8,4.0 38.7,10.1 38.8,10.4 43.4,11.3 43.1,5.1" fill="#862d22"/><polygon points="44.4,12.8 43.5,12.0 38.6,10.9 35.9,13.7 37.3,16.4 37.9,17.2 43.1,16.2" fill="#852d22"/><polygon points="41.6,23.9 44.1,19.8 43.2,16.4 37.9,17.5 36.6,23.7 39.3,24.3" fill="#7c2920"/><polygon points="45.5,27.3 41.6,24.2 39.4,24.6 40.4,31.6 40.9,31.6 45.5,28.6" fill="#76261e"/><polygon points="34.6,35.4 37.9,34.9 39.0,32.3 34.6,30.6 33.4,33.0" fill="#78271f"/><polygon points="39.7,32.2 38.4,35.3 40.7,38.5 46.1,37.3 40.9,32.0 40.3,31.9" fill="#842c22"/><polygon points="36.3,45.5 39.1,46.8 43.9,45.3 38.9,42.3 36.4,43.5" fill="#7b2921"/><polygon points="40.3,53.7 35.0,54.1 34.6,54.9 36.0,57.3 36.2,57.4 40.3,55.7 40.6,53.9" fill="#762925"/><polygon points="36.6,58.4 39.7,61.1 40.1,61.3 41.6,60.3 40.9,56.7" fill="#7c2c25"/><polygon points="48.0,3.2 48.7,-1.0 45.4,-1.0 46.3,3.1" fill="#7f2b21"/><polygon points="48.5,3.8 49.9,4.9 54.3,1.7 53.5,-0.4 52.9,-0.7 51.5,-1.0 49.3,-1.0" fill="#802b21"/><polygon points="44.0,5.3 44.2,11.1 45.0,11.8 45.3,11.7 49.7,8.3 49.1,5.8 47.9,4.8 46.2,4.7" fill="#6c2321"/><polygon points="51.4,16.8 45.1,12.8 44.7,12.9 43.4,16.3 44.3,19.7 49.1,20.7 51.5,18.1" fill="#70241e"/><polygon points="48.8,21.1 44.5,20.2 42.2,23.9 45.8,26.8 49.4,24.9" fill="#862d22"/><polygon points="49.8,25.5 46.0,27.5 46.0,28.7 48.8,33.9 52.0,31.0 51.4,26.3" fill="#71241e"/><polygon points="41.4,32.0 46.1,36.7 46.2,36.7 48.1,34.8 48.3,34.2 45.6,29.2" fill="#69201e"/><polygon points="48.6,35.2 46.4,37.4 47.9,44.1 49.1,44.5 53.7,39.6 53.8,37.5" fill="#822b21"/><polygon points="40.1,41.3 45.1,44.4 45.2,44.4 46.8,43.4 45.7,38.4 45.6,38.4 41.6,39.3" fill="#822e25"/><polygon points="47.6,53.5 50.6,48.5 51.2,47.1 48.9,45.4 47.9,45.0 46.0,46.2 44.9,52.1" fill="#601d1e"/><polygon points="42.0,56.1 42.7,59.9 46.0,60.0 47.8,56.1 47.0,54.9 44.4,53.6 42.4,54.1" fill="#892f24"/><polygon points="47.5,60.4 48.9,62.6 53.7,59.9 54.4,58.2 54.2,57.3 52.0,56.9 49.2,56.7" fill="#892f24"/><polygon points="47.5,63.8 46.0,61.5 42.5,61.4 41.0,62.5 40.7,65.0 47.6,65.0" fill="#792821"/><polygon points="54.5,2.2 50.2,5.3 50.9,7.9 52.2,8.5 56.7,3.3" fill="#7e2a20"/><polygon points="55.1,11.7 52.0,9.2 50.5,8.5 45.3,12.7 51.5,16.6 54.9,12.6" fill="#6e231e"/><polygon points="56.9,16.1 55.0,13.2 52.0,16.8 52.0,17.9 55.7,20.1" fill="#6b2221"/><polygon points="51.9,19.1 50.1,21.2 50.6,24.4 51.9,25.0 54.6,24.2 55.9,22.1 55.1,21.1" fill="#8d3125"/><polygon points="52.3,26.5 52.8,30.6 55.8,30.9 57.2,29.0 55.1,25.7" fill="#6f2625"/><polygon points="49.5,34.4 49.4,34.9 53.9,37.0 57.1,35.8 55.7,32.0 52.5,31.7" fill="#6e2321"/><polygon points="58.7,37.2 57.6,36.6 54.7,37.7 54.6,39.3 54.9,39.7 59.0,40.6 59.3,39.9" fill="#913326"/><polygon points="49.3,44.6 52.0,46.6 55.6,47.2 56.8,46.1 54.2,40.2 53.8,39.7" fill="#8b3024"/><polygon points="52.7,55.4 55.1,55.9 56.7,53.3 55.4,48.0 52.3,47.5 51.7,48.9" fill="#7e2a21"/><polygon points="48.8,55.5 52.2,55.8 51.1,49.1 48.0,54.3" fill="#782721"/><polygon points="54.7,64.8 54.1,61.3 49.2,64.0 49.3,65.0 54.5,65.0" fill="#8e3125"/><polygon points="54.7,-0.8 55.4,1.0 57.4,2.1 58.0,2.2 60.7,-1.0 54.9,-1.0" fill="#722725"/><polygon points="65.6,1.0 61.9,-0.0 59.2,3.3 61.4,7.5 66.3,5.0" fill="#7b2b25"/><polygon points="57.2,3.8 52.7,8.9 55.5,11.1 60.1,9.1 60.3,8.6 57.9,3.9" fill="#661f1e"/><polygon points="62.8,17.9 63.7,17.2 63.8,15.0 60.7,9.5 55.5,11.8 55.3,12.7 57.4,15.9" fill="#73251e"/><polygon points="57.2,21.6 60.1,21.3 62.4,18.2 57.5,16.4 56.2,20.5" fill="#6a211e"/><polygon points="55.4,24.9 58.0,29.0 63.5,28.6 63.7,28.3 60.3,21.7 57.0,22.1" fill="#74251e"/><polygon points="62.5,34.2 63.3,29.0 58.1,29.4 56.5,31.7 57.9,35.7 59.3,36.3" fill="#8b2f24"/><polygon points="65.0,40.7 65.9,36.6 62.7,34.6 59.5,36.8 60.2,40.1" fill="#6f231e"/><polygon points="59.2,41.5 54.8,40.5 57.0,45.6 58.1,45.0" fill="#7a281f"/><polygon points="66.3,-0.7 66.6,-1.0 65.1,-1.0" fill="#732825"/><polygon points="73.1,3.9 74.8,1.8 74.8,1.6 70.0,-1.0 69.1,-1.0 67.6,0.7 68.2,4.6 69.2,5.1" fill="#8d3328"/><polygon points="69.7,12.8 65.5,15.2 65.5,16.8 68.1,18.2 70.1,17.3 71.9,14.2" fill="#8d3328"/><polygon points="63.9,27.7 64.2,27.6 67.7,21.9 67.4,19.9 64.0,18.0 63.1,18.6 60.8,21.7" fill="#812b21"/><polygon points="71.2,25.2 68.4,23.1 65.5,27.9 70.0,29.3 71.7,28.0" fill="#842d23"/><polygon points="66.3,35.4 69.6,34.6 69.3,31.0 64.9,29.6 64.7,29.7 64.5,29.8 63.9,33.9" fill="#8f3429"/><polygon points="67.5,42.6 71.2,37.7 71.2,37.4 70.2,36.3 66.6,37.1 65.9,40.5" fill="#903429"/><polygon points="60.1,41.6 59.1,45.2 65.4,47.1 66.9,45.7 66.6,43.7 64.8,41.4 60.5,40.9" fill="#8b3024"/><polygon points="67.7,53.1 72.5,52.6 73.7,50.9 71.9,47.5 68.1,47.0 66.7,48.2 66.1,52.4" fill="#8b3227"/><polygon points="67.0,54.8 65.4,54.0 64.8,54.4 64.1,59.1 66.4,60.0 69.2,59.5" fill="#812b22"/><polygon points="67.0,61.3 66.5,64.8 68.0,65.0 68.9,65.0 70.9,64.2 69.9,61.0 69.7,60.9" fill="#8b3025"/><polygon points="78.0,3.1 76.5,2.5 74.7,4.7 75.6,6.9 79.4,7.3" fill="#6f2421"/><polygon points="74.8,7.6 73.8,5.2 69.2,6.5 70.6,11.1 73.4,12.9 74.9,12.7 75.0,12.5" fill="#6c2221"/><polygon points="73.6,13.9 71.2,18.1 74.9,21.0 76.6,20.8 75.6,14.3 75.2,13.7" fill="#76261e"/><polygon points="71.8,24.0 74.1,21.3 70.9,18.8 68.5,19.9 68.8,21.7" fill="#852f26"/><polygon points="79.0,22.5 76.7,21.4 75.0,21.6 72.3,24.7 72.9,28.2 75.5,28.3" fill="#7e2a20"/><polygon points="77.6,35.7 77.2,30.3 75.4,28.9 72.8,28.7 70.7,30.4 71.0,35.3 72.2,36.7" fill="#8a2f24"/><polygon points="72.2,37.4 75.1,43.7 76.9,43.3 77.3,42.3 78.6,36.6 77.8,36.1 72.3,37.0" fill="#661f1e"/><polygon points="68.4,43.5 68.7,45.2 72.2,45.7 73.9,43.7 71.8,39.0" fill="#903429"/><polygon points="81.0,46.2 77.0,44.0 75.3,44.4 73.2,46.9 75.2,50.6 79.3,51.1 81.4,46.8" fill="#75261e"/><polygon points="70.5,59.4 73.1,57.4 72.8,53.9 67.9,54.5 70.2,59.3" fill="#832c22"/><polygon points="77.0,59.9 73.8,58.7 71.3,60.6 72.2,63.8 74.1,65.0 74.5,65.0" fill="#892f24"/><polygon points="78.9,1.8 82.9,1.3 82.6,-1.0 78.2,-1.0 77.9,-0.8 77.4,0.9 77.5,1.2" fill="#6a2425"/><polygon points="83.7,2.9 83.4,2.7 79.1,3.2 80.5,7.3 81.0,8.0 83.7,7.0" fill="#762925"/><polygon points="79.5,10.6 80.1,9.1 79.6,8.3 75.6,7.9 75.8,12.4" fill="#6c2321"/><polygon points="82.7,14.2 80.1,11.7 76.6,13.4 76.5,13.6 76.9,14.1 82.7,17.4 83.2,17.2" fill="#732825"/><polygon points="76.9,15.6 77.6,20.3 79.3,21.1 79.8,21.0 82.0,18.5" fill="#7b2b25"/><polygon points="80.1,23.1 79.4,23.2 76.3,28.3 77.9,29.5 83.1,28.5 82.4,26.8" fill="#8d3125"/><polygon points="77.8,30.4 78.2,35.5 78.9,35.9 79.7,36.0 84.4,29.9 83.5,29.3" fill="#7d2920"/><polygon points="81.9,40.5 82.8,38.6 79.6,36.8 78.8,36.8 77.7,42.1" fill="#7b281f"/><polygon points="77.7,43.4 81.2,45.3 81.7,41.2 78.0,42.6" fill="#852d23"/><polygon points="84.4,47.3 82.4,47.5 80.5,51.4 80.7,51.7 85.2,53.4 86.1,50.6" fill="#802d25"/><polygon points="75.0,51.3 73.5,53.4 73.9,57.6 77.9,59.0 78.7,58.8 79.7,52.3 79.4,51.9" fill="#77271e"/><polygon points="81.7,61.5 81.6,61.2 79.9,60.7 79.8,65.0 81.9,65.0" fill="#873026"/><polygon points="79.2,60.1 78.7,59.8 77.9,60.0 75.5,65.0 79.1,65.0" fill="#872e24"/><polygon points="84.4,0.9 84.7,1.2 85.5,1.0 87.2,-1.0 87.2,-1.0 84.1,-1.0" fill="#7c2b25"/><polygon points="87.2,8.3 87.2,3.8 86.0,3.3 85.3,3.4 85.2,7.1 87.2,8.3" fill="#95372a"/><polygon points="86.9,17.2 87.2,16.6 87.2,10.8 87.0,10.8 84.5,14.1 84.9,16.9" fill="#742825"/><polygon points="86.2,19.5 84.2,19.2 83.7,19.4 81.3,22.1 83.4,25.4 87.2,20.6 87.2,20.2" fill="#8d3328"/><polygon points="83.9,26.5 84.6,28.2 85.4,28.7 86.6,29.0 87.2,28.4 87.2,22.4" fill="#8a3024"/><polygon points="79.9,36.4 83.1,38.2 83.8,38.2 87.2,32.6 86.3,30.2 84.9,29.9" fill="#6b221e"/><polygon points="84.5,38.3 87.0,40.0 87.2,40.0 87.2,33.8" fill="#74251e"/><polygon points="86.1,41.1 83.8,39.4 83.2,39.4 82.5,41.1 82.0,45.3 82.5,45.8 84.5,45.6 84.8,45.4" fill="#7b2921"/><polygon points="79.8,58.3 80.2,58.5 82.0,59.0 85.8,56.2 84.8,54.8 80.5,53.2" fill="#873026"/><polygon points="83.0,61.8 83.1,65.0 87.2,65.0 87.2,63.9" fill="#6b2525"/><polygon points="87.1,1.5 87.2,1.5 87.2,1.4" fill="#7e2c25"/><polygon points="87.2,30.8 87.2,29.9 87.0,30.1" fill="#6b211e"/><polygon points="86.0,45.4 87.2,45.5 87.2,41.6" fill="#913326"/><polygon points="86.6,53.9 87.2,54.8 87.2,52.1" fill="#7f2d25"/></g></svg></div>
<div class="im" style="left:256px;top:178.7px;width:86.0px;height:60.0px"><svg width="86.0" height="60.0" viewBox="0 0 86.0 60.0" style="position:absolute;left:0;top:0"><defs><filter id="bl6" x="-20%" y="-20%" width="140%" height="140%"><feGaussianBlur stdDeviation="1.8"/></filter><filter id="cb6" x="-5%" y="-5%" width="110%" height="110%"><feGaussianBlur stdDeviation="0.75"/></filter></defs><g filter="url(#bl6)"><rect x="-12.0" y="-12.0" width="12.0" height="12.0" fill="#c8d4d4"/><rect x="0.0" y="-12.0" width="7.8" height="12.0" fill="#c8d4d4"/><rect x="7.2" y="-12.0" width="7.8" height="12.0" fill="#cde2e2"/><rect x="14.3" y="-12.0" width="7.8" height="12.0" fill="#bebebc"/><rect x="21.5" y="-12.0" width="7.8" height="12.0" fill="#c8d4d4"/><rect x="28.7" y="-12.0" width="7.8" height="12.0" fill="#cddede"/><rect x="35.8" y="-12.0" width="7.8" height="12.0" fill="#cddede"/><rect x="43.0" y="-12.0" width="7.8" height="12.0" fill="#cddede"/><rect x="50.2" y="-12.0" width="7.8" height="12.0" fill="#cddede"/><rect x="57.3" y="-12.0" width="7.8" height="12.0" fill="#cde2e2"/><rect x="64.5" y="-12.0" width="7.8" height="12.0" fill="#cddede"/><rect x="71.7" y="-12.0" width="7.8" height="12.0" fill="#cde2e2"/><rect x="78.8" y="-12.0" width="7.8" height="12.0" fill="#cddede"/><rect x="86.0" y="-12.0" width="12.0" height="12.0" fill="#cddede"/><rect x="-12.0" y="0.0" width="12.0" height="8.1" fill="#c8d4d4"/><rect x="0.0" y="0.0" width="7.8" height="8.1" fill="#c8d4d4"/><rect x="7.2" y="0.0" width="7.8" height="8.1" fill="#cde2e2"/><rect x="14.3" y="0.0" width="7.8" height="8.1" fill="#bebebc"/><rect x="21.5" y="0.0" width="7.8" height="8.1" fill="#c8d4d4"/><rect x="28.7" y="0.0" width="7.8" height="8.1" fill="#cddede"/><rect x="35.8" y="0.0" width="7.8" height="8.1" fill="#cddede"/><rect x="43.0" y="0.0" width="7.8" height="8.1" fill="#cddede"/><rect x="50.2" y="0.0" width="7.8" height="8.1" fill="#cddede"/><rect x="57.3" y="0.0" width="7.8" height="8.1" fill="#cde2e2"/><rect x="64.5" y="0.0" width="7.8" height="8.1" fill="#cddede"/><rect x="71.7" y="0.0" width="7.8" height="8.1" fill="#cde2e2"/><rect x="78.8" y="0.0" width="7.8" height="8.1" fill="#cddede"/><rect x="86.0" y="0.0" width="12.0" height="8.1" fill="#cddede"/><rect x="-12.0" y="7.5" width="12.0" height="8.1" fill="#cddede"/><rect x="0.0" y="7.5" width="7.8" height="8.1" fill="#cddede"/><rect x="7.2" y="7.5" width="7.8" height="8.1" fill="#cddede"/><rect x="14.3" y="7.5" width="7.8" height="8.1" fill="#bebebc"/><rect x="21.5" y="7.5" width="7.8" height="8.1" fill="#cddede"/><rect x="28.7" y="7.5" width="7.8" height="8.1" fill="#c8d4d4"/><rect x="35.8" y="7.5" width="7.8" height="8.1" fill="#cddede"/><rect x="43.0" y="7.5" width="7.8" height="8.1" fill="#cddede"/><rect x="50.2" y="7.5" width="7.8" height="8.1" fill="#cde2e2"/><rect x="57.3" y="7.5" width="7.8" height="8.1" fill="#cde2e2"/><rect x="64.5" y="7.5" width="7.8" height="8.1" fill="#cddede"/><rect x="71.7" y="7.5" width="7.8" height="8.1" fill="#cde2e2"/><rect x="78.8" y="7.5" width="7.8" height="8.1" fill="#cddede"/><rect x="86.0" y="7.5" width="12.0" height="8.1" fill="#cddede"/><rect x="-12.0" y="15.0" width="12.0" height="8.1" fill="#c8d4d4"/><rect x="0.0" y="15.0" width="7.8" height="8.1" fill="#c8d4d4"/><rect x="7.2" y="15.0" width="7.8" height="8.1" fill="#cddede"/><rect x="14.3" y="15.0" width="7.8" height="8.1" fill="#c8d4d4"/><rect x="21.5" y="15.0" width="7.8" height="8.1" fill="#bebebc"/><rect x="28.7" y="15.0" width="7.8" height="8.1" fill="#c8d4d4"/><rect x="35.8" y="15.0" width="7.8" height="8.1" fill="#cddede"/><rect x="43.0" y="15.0" width="7.8" height="8.1" fill="#cde2e2"/><rect x="50.2" y="15.0" width="7.8" height="8.1" fill="#cde2e2"/><rect x="57.3" y="15.0" width="7.8" height="8.1" fill="#cde2e2"/><rect x="64.5" y="15.0" width="7.8" height="8.1" fill="#cde2e2"/><rect x="71.7" y="15.0" width="7.8" height="8.1" fill="#cddede"/><rect x="78.8" y="15.0" width="7.8" height="8.1" fill="#cddede"/><rect x="86.0" y="15.0" width="12.0" height="8.1" fill="#cddede"/><rect x="-12.0" y="22.5" width="12.0" height="8.1" fill="#c8d4d4"/><rect x="0.0" y="22.5" width="7.8" height="8.1" fill="#c8d4d4"/><rect x="7.2" y="22.5" width="7.8" height="8.1" fill="#cddede"/><rect x="14.3" y="22.5" width="7.8" height="8.1" fill="#c8d4d4"/><rect x="21.5" y="22.5" width="7.8" height="8.1" fill="#cddede"/><rect x="28.7" y="22.5" width="7.8" height="8.1" fill="#bebebc"/><rect x="35.8" y="22.5" width="7.8" height="8.1" fill="#c8d4d4"/><rect x="43.0" y="22.5" width="7.8" height="8.1" fill="#cde2e2"/><rect x="50.2" y="22.5" width="7.8" height="8.1" fill="#cddede"/><rect x="57.3" y="22.5" width="7.8" height="8.1" fill="#cde2e2"/><rect x="64.5" y="22.5" width="7.8" height="8.1" fill="#cddede"/><rect x="71.7" y="22.5" width="7.8" height="8.1" fill="#c8d4d4"/><rect x="78.8" y="22.5" width="7.8" height="8.1" fill="#cddede"/><rect x="86.0" y="22.5" width="12.0" height="8.1" fill="#cddede"/><rect x="-12.0" y="30.0" width="12.0" height="8.1" fill="#c8d4d4"/><rect x="0.0" y="30.0" width="7.8" height="8.1" fill="#c8d4d4"/><rect x="7.2" y="30.0" width="7.8" height="8.1" fill="#cddede"/><rect x="14.3" y="30.0" width="7.8" height="8.1" fill="#cddede"/><rect x="21.5" y="30.0" width="7.8" height="8.1" fill="#bebebc"/><rect x="28.7" y="30.0" width="7.8" height="8.1" fill="#cddede"/><rect x="35.8" y="30.0" width="7.8" height="8.1" fill="#c8d4d4"/><rect x="43.0" y="30.0" width="7.8" height="8.1" fill="#cde2e2"/><rect x="50.2" y="30.0" width="7.8" height="8.1" fill="#c8d4d4"/><rect x="57.3" y="30.0" width="7.8" height="8.1" fill="#bebebc"/><rect x="64.5" y="30.0" width="7.8" height="8.1" fill="#cddede"/><rect x="71.7" y="30.0" width="7.8" height="8.1" fill="#cde2e2"/><rect x="78.8" y="30.0" width="7.8" height="8.1" fill="#cddede"/><rect x="86.0" y="30.0" width="12.0" height="8.1" fill="#cddede"/><rect x="-12.0" y="37.5" width="12.0" height="8.1" fill="#bebebc"/><rect x="0.0" y="37.5" width="7.8" height="8.1" fill="#bebebc"/><rect x="7.2" y="37.5" width="7.8" height="8.1" fill="#cde2e2"/><rect x="14.3" y="37.5" width="7.8" height="8.1" fill="#cddede"/><rect x="21.5" y="37.5" width="7.8" height="8.1" fill="#bebebc"/><rect x="28.7" y="37.5" width="7.8" height="8.1" fill="#cddede"/><rect x="35.8" y="37.5" width="7.8" height="8.1" fill="#cddede"/><rect x="43.0" y="37.5" width="7.8" height="8.1" fill="#cddede"/><rect x="50.2" y="37.5" width="7.8" height="8.1" fill="#bebebc"/><rect x="57.3" y="37.5" width="7.8" height="8.1" fill="#bebebc"/><rect x="64.5" y="37.5" width="7.8" height="8.1" fill="#bebebc"/><rect x="71.7" y="37.5" width="7.8" height="8.1" fill="#cde2e2"/><rect x="78.8" y="37.5" width="7.8" height="8.1" fill="#cde2e2"/><rect x="86.0" y="37.5" width="12.0" height="8.1" fill="#cde2e2"/><rect x="-12.0" y="45.0" width="12.0" height="8.1" fill="#cddede"/><rect x="0.0" y="45.0" width="7.8" height="8.1" fill="#cddede"/><rect x="7.2" y="45.0" width="7.8" height="8.1" fill="#cde2e2"/><rect x="14.3" y="45.0" width="7.8" height="8.1" fill="#cde2e2"/><rect x="21.5" y="45.0" width="7.8" height="8.1" fill="#bebebc"/><rect x="28.7" y="45.0" width="7.8" height="8.1" fill="#bebebc"/><rect x="35.8" y="45.0" width="7.8" height="8.1" fill="#cddede"/><rect x="43.0" y="45.0" width="7.8" height="8.1" fill="#cde2e2"/><rect x="50.2" y="45.0" width="7.8" height="8.1" fill="#cddede"/><rect x="57.3" y="45.0" width="7.8" height="8.1" fill="#bebebc"/><rect x="64.5" y="45.0" width="7.8" height="8.1" fill="#cddede"/><rect x="71.7" y="45.0" width="7.8" height="8.1" fill="#cddede"/><rect x="78.8" y="45.0" width="7.8" height="8.1" fill="#cde2e2"/><rect x="86.0" y="45.0" width="12.0" height="8.1" fill="#cde2e2"/><rect x="-12.0" y="52.5" width="12.0" height="8.1" fill="#cde2e2"/><rect x="0.0" y="52.5" width="7.8" height="8.1" fill="#cde2e2"/><rect x="7.2" y="52.5" width="7.8" height="8.1" fill="#cddede"/><rect x="14.3" y="52.5" width="7.8" height="8.1" fill="#cde2e2"/><rect x="21.5" y="52.5" width="7.8" height="8.1" fill="#bebebc"/><rect x="28.7" y="52.5" width="7.8" height="8.1" fill="#c8d4d4"/><rect x="35.8" y="52.5" width="7.8" height="8.1" fill="#cde2e2"/><rect x="43.0" y="52.5" width="7.8" height="8.1" fill="#cddede"/><rect x="50.2" y="52.5" width="7.8" height="8.1" fill="#cde2e2"/><rect x="57.3" y="52.5" width="7.8" height="8.1" fill="#c8d4d4"/><rect x="64.5" y="52.5" width="7.8" height="8.1" fill="#c8d4d4"/><rect x="71.7" y="52.5" width="7.8" height="8.1" fill="#cddede"/><rect x="78.8" y="52.5" width="7.8" height="8.1" fill="#cde2e2"/><rect x="86.0" y="52.5" width="12.0" height="8.1" fill="#cde2e2"/><rect x="-12.0" y="60.0" width="12.0" height="12.0" fill="#cde2e2"/><rect x="0.0" y="60.0" width="7.8" height="12.0" fill="#cde2e2"/><rect x="7.2" y="60.0" width="7.8" height="12.0" fill="#cddede"/><rect x="14.3" y="60.0" width="7.8" height="12.0" fill="#cde2e2"/><rect x="21.5" y="60.0" width="7.8" height="12.0" fill="#bebebc"/><rect x="28.7" y="60.0" width="7.8" height="12.0" fill="#c8d4d4"/><rect x="35.8" y="60.0" width="7.8" height="12.0" fill="#cde2e2"/><rect x="43.0" y="60.0" width="7.8" height="12.0" fill="#cddede"/><rect x="50.2" y="60.0" width="7.8" height="12.0" fill="#cde2e2"/><rect x="57.3" y="60.0" width="7.8" height="12.0" fill="#c8d4d4"/><rect x="64.5" y="60.0" width="7.8" height="12.0" fill="#c8d4d4"/><rect x="71.7" y="60.0" width="7.8" height="12.0" fill="#cddede"/><rect x="78.8" y="60.0" width="7.8" height="12.0" fill="#cde2e2"/><rect x="86.0" y="60.0" width="12.0" height="12.0" fill="#cde2e2"/></g><g filter="url(#cb6)" stroke-linejoin="round"><polygon points="1.5,43.8 -1.0,43.8 -1.0,47.5 -0.5,47.9" fill="none" stroke="#96a0a6" stroke-width="0.7"/><polygon points="-0.3,58.6 -1.0,59.0 -1.0,59.1 -1.0,59.9 -0.7,61.0 5.5,61.0 5.0,57.0" fill="none" stroke="#8ca5aa" stroke-width="0.7"/><polygon points="9.8,2.7 10.6,3.3 14.4,2.1 14.2,-1.0 11.4,-1.0 8.9,-0.3 8.9,1.4" fill="none" stroke="#8ca5aa" stroke-width="0.7"/><polygon points="10.6,4.3 11.3,7.4 14.0,7.6 16.2,4.0 15.0,2.8" fill="none" stroke="#8ca5aa" stroke-width="0.7"/><polygon points="7.9,21.2 10.2,21.3 12.7,19.5 13.0,18.1 12.1,15.5 7.6,19.7" fill="none" stroke="#96a0a6" stroke-width="0.7"/><polygon points="14.1,32.0 13.9,35.3 16.8,37.0 19.0,36.2 20.5,32.4 20.4,30.3 18.6,29.8" fill="none" stroke="#96a0a6" stroke-width="0.7"/><polygon points="17.6,44.9 17.6,44.7 15.8,43.3 14.4,44.0 13.7,49.0 15.1,49.9" fill="none" stroke="#8ca5aa" stroke-width="0.7"/><polygon points="14.7,51.9 14.2,51.3 12.7,50.3 9.4,49.9 6.2,54.4 6.3,55.7 7.0,55.9 13.7,53.2" fill="none" stroke="#96a0a6" stroke-width="0.7"/><polygon points="28.3,12.4 30.4,7.7 27.4,7.8 22.9,10.9 23.9,12.9" fill="none" stroke="#96a0a6" stroke-width="0.7"/><polygon points="32.4,19.2 39.7,21.0 39.8,21.0 40.3,20.0 40.0,16.9 37.3,14.3 35.0,13.6 32.6,16.3 32.6,16.3" fill="none" stroke="#96a0a6" stroke-width="0.7"/><polygon points="41.3,-0.7 41.2,-1.0 40.8,-1.0" fill="none" stroke="#96a0a6" stroke-width="0.7"/><polygon points="50.4,32.5 50.2,32.4 43.2,32.5 42.7,33.0 42.6,35.9 47.7,37.1" fill="none" stroke="#8ca5aa" stroke-width="0.7"/><polygon points="42.9,43.6 43.0,43.4 40.3,39.4 37.6,39.8 37.1,43.2" fill="none" stroke="#96a0a6" stroke-width="0.7"/><polygon points="48.3,18.7 48.1,23.7 53.2,25.1 53.2,25.1 49.7,17.6 48.8,17.9" fill="none" stroke="#8ca5aa" stroke-width="0.7"/><polygon points="44.2,27.1 43.1,32.2 50.4,32.1 45.6,26.0 44.8,26.1" fill="none" stroke="#8ca5aa" stroke-width="0.7"/><polygon points="50.8,10.2 51.0,15.4 52.7,15.2 55.7,11.1 54.9,9.7 54.1,9.3" fill="none" stroke="#8ca5aa" stroke-width="0.7"/><polygon points="59.7,2.2 61.4,-1.0 56.8,-1.0 57.2,0.2 59.1,2.3" fill="none" stroke="#8ca5aa" stroke-width="0.7"/><polygon points="59.0,17.7 55.4,18.5 56.7,21.8 61.0,21.8 61.3,21.5 61.1,19.9" fill="none" stroke="#8ca5aa" stroke-width="0.7"/><polygon points="66.8,2.0 71.3,1.1 69.7,-1.0 65.4,-1.0" fill="none" stroke="#96a0a6" stroke-width="0.7"/><polygon points="69.3,6.6 71.8,6.6 72.2,2.2 71.0,2.1 67.5,2.8 66.1,5.1" fill="none" stroke="#96a0a6" stroke-width="0.7"/><polygon points="64.5,11.8 67.3,10.3 68.2,7.9 65.1,6.4 65.0,6.4 63.5,11.0" fill="none" stroke="#96a0a6" stroke-width="0.7"/><polygon points="71.0,27.5 69.8,24.6 67.9,24.4 66.7,27.3 68.2,30.0" fill="none" stroke="#96a0a6" stroke-width="0.7"/><polygon points="70.1,45.9 71.1,44.8 70.7,44.4 66.4,43.1 67.1,46.8 68.3,46.7" fill="none" stroke="#96a0a6" stroke-width="0.7"/><polygon points="78.9,12.7 77.5,10.6 74.4,10.1 73.1,12.9 72.9,14.0 78.0,15.7" fill="none" stroke="#8ca5aa" stroke-width="0.7"/><polygon points="65.9,21.9 67.9,23.7 70.0,23.9 73.5,21.0 71.1,16.3 68.6,16.6" fill="none" stroke="#8ca5aa" stroke-width="0.7"/><polygon points="74.3,37.5 75.9,34.6 75.0,31.9 71.3,33.9 71.7,37.0" fill="none" stroke="#8ca5aa" stroke-width="0.7"/><polygon points="75.2,55.3 74.2,51.7 73.1,51.8 72.3,52.4 72.3,56.6 72.9,57.0 73.3,57.1 74.6,56.4" fill="none" stroke="#96a0a6" stroke-width="0.7"/><polygon points="75.7,-0.4 76.3,-0.2 81.0,-0.2 81.8,-1.0 75.8,-1.0" fill="none" stroke="#8ca5aa" stroke-width="0.7"/><polygon points="81.4,0.8 76.2,0.8 78.4,4.4 81.8,6.0 82.1,6.0" fill="none" stroke="#96a0a6" stroke-width="0.7"/><polygon points="76.2,21.7 77.6,25.3 81.7,23.4 80.1,20.2 79.4,20.0" fill="none" stroke="#96a0a6" stroke-width="0.7"/><polygon points="81.0,52.3 81.0,52.3 80.9,49.4 78.1,48.1 74.9,50.7 76.1,55.1" fill="none" stroke="#96a0a6" stroke-width="0.7"/><polygon points="85.0,27.4 83.1,30.7 83.5,32.0 87.0,32.6 87.0,28.0" fill="none" stroke="#96a0a6" stroke-width="0.7"/><polygon points="82.2,37.6 77.1,41.5 77.1,41.5 84.3,42.9 84.8,42.0 83.3,38.5" fill="none" stroke="#8ca5aa" stroke-width="0.7"/><polygon points="0.8,7.6 1.2,7.3 1.1,5.6 0.1,4.2 -1.0,2.9 -1.0,7.9" fill="#913226"/><polygon points="-0.9,24.7 -1.0,24.1 -1.0,24.8" fill="#7d2921"/><polygon points="-0.5,32.7 -1.0,32.3 -1.0,33.2" fill="#6e2321"/><polygon points="-1.0,-0.6 -1.0,1.6 0.6,3.4 2.9,0.8 3.1,-1.0 0.1,-1.0" fill="#852d23"/><polygon points="1.0,3.9 1.8,5.1 4.8,3.0 3.2,1.4" fill="#6d2321"/><polygon points="-1.0,15.0 -0.2,14.7 0.6,9.0 -1.0,9.3 -1.0,15.0" fill="#742825"/><polygon points="0.9,15.0 2.6,15.2 4.2,15.3 6.9,11.5 4.4,9.5 2.1,8.6 1.8,8.9" fill="#7b2b25"/><polygon points="0.2,16.5 -0.6,16.9 -1.0,17.4 -1.0,21.4 -0.3,22.3 2.4,21.5 1.9,16.8" fill="#682121"/><polygon points="0.0,23.2 0.3,24.5 3.4,27.3 6.6,24.4 6.9,21.9 3.0,22.3" fill="#722521"/><polygon points="-1.0,26.0 -1.0,31.1 0.5,32.2 2.0,32.1 3.0,30.8 3.0,27.9 -0.1,25.1" fill="#7a2821"/><polygon points="2.1,32.9 0.5,33.0 -1.0,34.5 -1.0,38.4 1.6,38.8 3.3,35.5" fill="#752621"/><polygon points="-1.0,39.1 -1.0,42.9 2.1,42.9 2.4,42.8 1.4,39.4" fill="#651f1e"/><polygon points="1.9,49.6 5.7,44.6 2.8,43.8 2.5,43.9 0.4,48.3 1.1,49.4" fill="#95372a"/><polygon points="-0.1,49.9 -0.7,48.8 -1.0,48.7 -1.0,50.7" fill="#812e25"/><polygon points="3.8,0.6 5.4,2.2 7.4,1.1 7.5,-0.6 7.1,-1.0 4.1,-1.0" fill="#903226"/><polygon points="2.4,5.5 2.5,7.0 4.8,7.9 8.2,3.7 7.4,2.4 5.3,3.5" fill="#812b22"/><polygon points="9.0,4.2 5.4,8.4 8.0,10.6 8.5,10.5 10.4,7.6 9.8,4.9" fill="#8c3328"/><polygon points="2.6,16.5 3.1,21.7 7.0,21.3 7.1,21.3 6.8,19.7 4.4,16.5" fill="#7a2821"/><polygon points="4.1,30.5 7.3,30.6 10.3,28.4 7.0,25.2 4.1,27.9" fill="#7c2921"/><polygon points="10.3,36.2 7.4,31.5 3.7,31.4 2.7,32.7 3.9,35.4 8.3,38.0" fill="#782721"/><polygon points="3.8,36.1 2.1,39.2 3.1,42.7 6.3,43.6 6.4,43.6 7.7,42.0 8.1,38.6" fill="#70231e"/><polygon points="8.4,49.5 6.4,45.4 6.3,45.4 2.7,50.2 5.6,53.5" fill="#7f2d25"/><polygon points="7.7,56.3 10.1,57.5 12.3,56.8 13.3,54.0" fill="#8d3328"/><polygon points="11.4,8.4 9.6,11.2 12.5,13.5 14.8,12.6 15.8,11.2 13.7,8.7" fill="#883127"/><polygon points="15.6,13.8 13.1,14.8 13.1,15.3 13.9,17.6 19.0,18.6" fill="#872e23"/><polygon points="14.9,24.3 15.8,23.0 13.1,20.3 11.0,21.8 14.1,24.6" fill="#853026"/><polygon points="11.2,29.5 11.2,29.5 8.3,31.5 10.8,35.4 12.9,34.8 13.0,32.0" fill="#873026"/><polygon points="10.6,58.5 11.8,61.0 16.0,61.0 15.9,60.1 13.0,57.8" fill="#863026"/><polygon points="22.2,-0.9 22.3,-1.0 22.3,-1.0 22.0,-1.0" fill="#78271f"/><polygon points="15.8,2.3 16.9,3.4 20.1,4.2 22.3,1.7 22.1,-0.0 19.9,-1.0 15.6,-1.0" fill="#6e231e"/><polygon points="14.8,7.9 17.0,10.6 20.3,9.4 19.9,5.3 16.8,4.6" fill="#892f23"/><polygon points="23.1,13.3 22.2,11.5 20.8,10.5 17.4,11.8 16.3,13.3 20.0,18.5 20.6,18.9 22.6,16.9 23.0,15.3" fill="#7f2a21"/><polygon points="14.1,18.5 13.8,19.8 16.5,22.6 19.8,20.4 19.9,19.8 19.3,19.4" fill="#923327"/><polygon points="18.9,28.8 20.7,29.2 22.0,28.1 22.1,23.8 20.4,21.2 16.9,23.5 15.9,25.0" fill="#6a2221"/><polygon points="12.1,28.5 14.0,31.0 17.9,29.1 15.2,25.7 14.4,26.0" fill="#712421"/><polygon points="25.1,34.4 21.3,32.8 19.9,36.4 21.6,37.5 26.5,35.6" fill="#7c2920"/><polygon points="20.8,38.6 19.2,37.6 17.3,38.2 16.8,41.8 18.5,43.1 21.8,40.6" fill="#94362a"/><polygon points="18.8,44.2 18.9,44.4 21.5,46.3 24.3,45.5 25.3,44.2 25.1,42.7 22.8,41.2" fill="#621e1e"/><polygon points="21.6,58.9 24.7,61.0 26.2,61.0 23.1,54.3 22.0,54.2" fill="#631e1e"/><polygon points="24.4,-1.0 23.3,-1.0 23.2,-0.6" fill="#692121"/><polygon points="31.2,6.7 29.8,2.6 24.3,2.5 27.6,7.1 30.4,7.1" fill="#8c3025"/><polygon points="21.3,9.2 22.7,10.2 26.7,7.3 23.7,2.9 23.0,2.7 20.9,5.1" fill="#6e2421"/><polygon points="31.5,15.9 28.3,12.9 24.3,13.4 24.2,15.3 31.5,16.0" fill="#97382b"/><polygon points="23.1,17.5 20.9,19.8 20.8,20.5 22.7,23.4 30.2,23.4 30.7,20.7" fill="#71241e"/><polygon points="29.5,24.1 23.4,24.1 23.3,28.0 25.7,28.4 27.0,28.3 30.3,26.7" fill="#6a2425"/><polygon points="27.0,29.5 25.7,29.5 25.8,33.9 27.2,35.1 27.8,35.3" fill="#7f2a21"/><polygon points="25.5,34.1 25.4,29.1 22.4,28.6 21.0,30.0 21.1,32.2" fill="#872e23"/><polygon points="29.4,37.2 27.7,36.2 27.1,36.1 22.0,38.1 23.3,40.5 25.6,41.9 29.5,37.4" fill="#892f23"/><polygon points="26.1,44.8 25.1,46.1 26.0,49.7 30.0,49.5 29.0,45.9" fill="#601d1e"/><polygon points="21.5,47.0 19.9,52.8 22.0,53.5 23.0,53.5 23.3,53.4 25.4,50.1 24.4,46.2" fill="#611d1e"/><polygon points="23.7,54.1 23.4,54.2 26.6,61.0 30.4,56.2 30.6,55.3" fill="#73251e"/><polygon points="21.4,59.0 18.8,61.0 24.3,61.0" fill="#641e1e"/><polygon points="23.8,1.5 24.4,1.8 29.6,1.9 30.8,-1.0 25.9,-1.0 23.7,-0.2 23.6,-0.1" fill="#8d3125"/><polygon points="34.0,8.3 31.7,7.6 30.9,8.0 29.0,12.4 32.3,15.6 34.6,13.1" fill="#6f2421"/><polygon points="23.7,15.5 23.2,17.3 30.9,20.6 32.1,19.3 32.3,16.3" fill="#78271e"/><polygon points="31.4,21.0 30.9,23.5 31.7,26.4 32.5,27.0 36.9,25.7 39.3,21.5 32.4,19.8" fill="#7d2920"/><polygon points="31.7,29.1 31.6,28.5 30.9,28.1 27.8,29.6 28.5,34.7 29.9,35.5" fill="#6b2425"/><polygon points="31.6,36.6 34.4,36.8 35.7,32.6 32.6,29.6 30.8,36.2 30.9,36.3" fill="#822e25"/><polygon points="26.3,42.4 26.4,43.8 29.2,44.9 31.0,43.8 30.7,38.4 29.9,38.1" fill="#722725"/><polygon points="31.6,44.3 29.4,45.7 30.6,49.8 32.0,51.0 36.2,47.7 35.5,45.2" fill="#76261e"/><polygon points="31.8,53.8 31.8,51.2 30.4,50.0 25.8,50.2 23.6,53.7 30.9,54.9" fill="#6c221e"/><polygon points="36.0,58.9 36.0,55.6 32.4,54.6 31.6,55.5 31.5,56.4 34.6,60.9" fill="#882e24"/><polygon points="30.8,56.9 27.5,61.0 33.7,61.0" fill="#913326"/><polygon points="37.6,2.6 40.3,1.6 41.0,0.3 40.6,-0.2 39.5,-1.0 35.0,-1.0" fill="#7b2b25"/><polygon points="41.5,4.5 40.7,3.2 38.0,4.1 36.4,6.8 41.0,8.6" fill="#873026"/><polygon points="37.3,13.4 41.2,10.3 40.7,9.8 35.7,7.8 34.9,8.3 35.4,12.8" fill="#96372b"/><polygon points="37.6,25.9 39.0,27.3 43.7,26.7 44.3,25.8 40.0,21.6 40.0,21.6" fill="#8f3226"/><polygon points="38.4,27.8 37.1,26.5 32.9,27.8 33.1,28.4 36.5,31.7 39.1,31.2" fill="#702421"/><polygon points="41.6,33.3 39.5,32.4 36.9,32.8 35.6,37.3 37.2,38.4 40.2,38.0 41.6,35.9" fill="#6c2321"/><polygon points="35.7,43.3 36.3,39.5 34.6,38.4 31.6,38.2 31.9,43.7 35.3,44.4" fill="#95362a"/><polygon points="37.2,47.1 37.7,47.3 42.1,46.3 42.7,44.6 37.1,44.3 36.7,45.3" fill="#772925"/><polygon points="32.5,51.2 32.5,53.6 36.4,54.7 38.9,53.8 39.0,53.4 36.8,48.7 36.2,48.4" fill="#7a281f"/><polygon points="42.3,-0.6 43.3,-1.0 42.1,-1.0" fill="#802d25"/><polygon points="46.9,5.4 48.2,2.3 44.9,-0.0 42.5,0.9 41.8,2.3 42.7,3.8 46.6,5.8" fill="#7d2c25"/><polygon points="42.4,9.8 43.8,10.4 46.2,8.7 46.4,8.4 46.4,6.7 42.6,4.6 42.0,9.3" fill="#8a3127"/><polygon points="44.6,11.6 44.9,13.3 48.2,16.2 48.9,16.0 49.3,15.7 46.7,10.1" fill="#98382b"/><polygon points="45.8,17.6 46.2,17.2 44.0,15.3 42.2,17.0 42.4,18.5" fill="#a03d30"/><polygon points="44.7,23.7 45.1,23.6 46.1,22.9 46.2,20.3 42.8,21.1 42.5,21.6" fill="#7e2e2a"/><polygon points="42.7,31.8 43.6,27.4 39.2,27.9 40.0,31.3 42.2,32.2" fill="#822c22"/><polygon points="37.6,48.3 39.8,53.0 42.9,50.4 43.1,48.3 42.7,47.1" fill="#7d2c25"/><polygon points="46.6,56.8 47.2,55.3 43.6,51.9 40.9,54.0 40.8,54.4 43.3,57.4 44.3,58.0 45.0,58.0" fill="#852f26"/><polygon points="45.0,59.9 44.2,59.8 43.2,61.0 45.3,61.0" fill="#8c3228"/><polygon points="45.7,-0.8 48.8,1.3 49.4,1.2 50.6,-1.0 45.8,-1.0" fill="#8e3428"/><polygon points="51.9,3.8 49.8,2.5 49.1,2.7 47.9,5.6 52.7,6.1" fill="#8c3228"/><polygon points="47.2,9.5 50.0,15.5 50.1,15.5 49.8,10.0 47.4,9.3" fill="#782a25"/><polygon points="51.8,33.2 50.9,33.3 48.6,37.3 49.3,39.6 52.5,39.2 53.2,37.2 52.3,33.6" fill="#7e2a21"/><polygon points="46.6,42.6 47.9,40.3 47.2,37.9 42.8,36.9 41.5,38.9 44.4,43.1" fill="#732825"/><polygon points="53.9,46.6 54.4,42.5 52.7,40.5 49.1,40.9 47.7,43.4 52.2,47.1" fill="#7a281f"/><polygon points="46.4,61.0 51.8,61.0 47.8,58.4 46.1,59.7" fill="#96372b"/><polygon points="55.5,-1.0 51.8,-1.0 50.3,1.6 52.5,3.0 55.9,0.5" fill="#893127"/><polygon points="55.7,8.0 58.4,3.5 56.3,1.3 52.9,3.8 53.7,6.1 54.8,7.6" fill="#782a25"/><polygon points="54.2,37.0 59.2,37.8 59.3,37.7 59.1,34.9 57.0,33.2 53.3,33.0" fill="#933427"/><polygon points="53.1,39.9 55.0,42.2 58.7,40.6 59.4,38.3 54.0,37.4" fill="#631e1e"/><polygon points="58.7,41.0 55.2,42.6 54.6,46.9 56.3,47.6 60.2,46.2 60.6,44.1" fill="#872e23"/><polygon points="57.5,32.6 59.7,34.5 63.2,32.3 61.5,28.5 61.1,28.3 59.9,28.7" fill="#70241e"/><polygon points="65.4,38.7 65.2,33.4 63.5,32.8 59.9,35.0 60.1,37.9" fill="#8a2f23"/><polygon points="65.4,39.4 65.2,39.2 60.1,38.4 60.0,38.5 59.2,40.6 61.1,43.7 64.9,41.6" fill="#7b281f"/><polygon points="66.4,47.2 65.5,42.7 65.2,42.0 61.2,44.2 60.8,46.3 64.4,48.8" fill="#75251e"/><polygon points="64.0,49.2 60.5,46.8 56.6,48.2 58.8,54.2 59.3,54.6 63.8,51.0" fill="#8a2f24"/><polygon points="66.3,53.9 64.1,52.1 60.2,55.2 60.6,56.9 63.5,58.8 67.0,56.1" fill="#8d3125"/><polygon points="59.7,57.8 56.5,61.0 63.4,61.0 63.1,59.9" fill="#832c22"/><polygon points="65.6,13.8 68.6,15.6 70.5,15.4 71.5,14.1 71.7,13.1 68.0,11.5 65.2,13.0" fill="#7e2c25"/><polygon points="65.3,32.7 67.4,31.6 67.6,30.6 66.1,27.8 62.2,28.4 63.8,32.1" fill="#6e2625"/><polygon points="70.3,34.0 67.9,32.5 65.8,33.5 66.1,38.5 66.2,38.6 69.0,38.4 70.7,37.2" fill="#7d2c25"/><polygon points="66.0,39.4 65.6,41.7 65.9,42.4 71.2,43.9 69.1,39.2" fill="#6d221e"/><polygon points="69.5,51.1 68.0,47.9 66.7,47.9 64.9,49.2 64.8,50.9 67.0,52.8" fill="#782a25"/><polygon points="71.6,51.9 70.1,51.7 67.3,53.5 68.2,56.1 71.7,57.1" fill="#913326"/><polygon points="67.9,57.1 64.6,59.7 64.9,60.6 65.2,61.0 69.3,61.0 71.5,58.4 70.9,57.9" fill="#792821"/><polygon points="71.5,0.5 72.8,0.6 74.1,-0.4 74.1,-1.0 70.4,-1.0" fill="#94362a"/><polygon points="70.6,24.3 71.9,27.3 75.5,28.8 76.1,28.4 76.5,26.2 74.9,22.0 73.7,21.7" fill="#923326"/><polygon points="74.4,49.6 77.0,47.5 75.4,45.0 72.6,45.4 71.7,46.5 73.4,49.7" fill="#93362a"/><polygon points="72.5,59.2 71.0,61.0 73.5,61.0 72.9,59.3" fill="#822e25"/><polygon points="80.8,18.4 84.3,15.7 84.7,14.0 79.8,13.4 79.0,15.9 80.1,18.2" fill="#842f26"/><polygon points="82.0,31.0 77.0,29.6 76.5,30.0 76.1,31.4 77.0,34.2 81.4,35.5 82.4,32.3" fill="#722825"/><polygon points="78.8,59.3 75.4,57.9 74.0,58.6 74.9,61.0 79.3,61.0" fill="#772a25"/><polygon points="84.0,-0.8 87.0,2.6 87.0,-1.0 84.1,-1.0" fill="#913529"/><polygon points="83.8,6.2 87.0,3.9 87.0,3.8 83.4,-0.3 82.3,1.0 83.0,5.9" fill="#94362a"/><polygon points="84.9,12.9 85.5,12.1 83.4,7.8 82.5,7.4 82.3,7.5 78.7,10.3 79.9,12.2" fill="#7f2d25"/><polygon points="83.1,23.1 84.1,23.7 87.0,21.6 87.0,19.4 85.0,16.5 81.1,19.4" fill="#893127"/><polygon points="83.7,32.9 82.8,35.9 83.0,36.8 84.0,37.5 87.0,36.3 87.0,33.4" fill="#8a3227"/><polygon points="85.0,7.4 86.9,11.3 87.0,11.3 87.0,5.9" fill="#842f26"/></g></svg></div>
<div class="im" style="left:256px;top:242.5px;width:86.0px;height:63.0px"><svg width="86.0" height="63.0" viewBox="0 0 86.0 63.0" style="position:absolute;left:0;top:0"><defs><filter id="bl7" x="-20%" y="-20%" width="140%" height="140%"><feGaussianBlur stdDeviation="1.8"/></filter><filter id="cb7" x="-5%" y="-5%" width="110%" height="110%"><feGaussianBlur stdDeviation="0.75"/></filter></defs><g filter="url(#bl7)"><rect x="-12.0" y="-12.0" width="12.0" height="12.0" fill="#b4b4b6"/><rect x="0.0" y="-12.0" width="7.8" height="12.0" fill="#b4b4b6"/><rect x="7.2" y="-12.0" width="7.8" height="12.0" fill="#b4b4b6"/><rect x="14.3" y="-12.0" width="7.8" height="12.0" fill="#6e4650"/><rect x="21.5" y="-12.0" width="7.8" height="12.0" fill="#b4b4b6"/><rect x="28.7" y="-12.0" width="7.8" height="12.0" fill="#a59696"/><rect x="35.8" y="-12.0" width="7.8" height="12.0" fill="#afa5a5"/><rect x="43.0" y="-12.0" width="7.8" height="12.0" fill="#afa5a5"/><rect x="50.2" y="-12.0" width="7.8" height="12.0" fill="#afa5a5"/><rect x="57.3" y="-12.0" width="7.8" height="12.0" fill="#a59696"/><rect x="64.5" y="-12.0" width="7.8" height="12.0" fill="#a59696"/><rect x="71.7" y="-12.0" width="7.8" height="12.0" fill="#b4b4b6"/><rect x="78.8" y="-12.0" width="7.8" height="12.0" fill="#b4b4b6"/><rect x="86.0" y="-12.0" width="12.0" height="12.0" fill="#b4b4b6"/><rect x="-12.0" y="0.0" width="12.0" height="8.5" fill="#b4b4b6"/><rect x="0.0" y="0.0" width="7.8" height="8.5" fill="#b4b4b6"/><rect x="7.2" y="0.0" width="7.8" height="8.5" fill="#b4b4b6"/><rect x="14.3" y="0.0" width="7.8" height="8.5" fill="#6e4650"/><rect x="21.5" y="0.0" width="7.8" height="8.5" fill="#b4b4b6"/><rect x="28.7" y="0.0" width="7.8" height="8.5" fill="#a59696"/><rect x="35.8" y="0.0" width="7.8" height="8.5" fill="#afa5a5"/><rect x="43.0" y="0.0" width="7.8" height="8.5" fill="#afa5a5"/><rect x="50.2" y="0.0" width="7.8" height="8.5" fill="#afa5a5"/><rect x="57.3" y="0.0" width="7.8" height="8.5" fill="#a59696"/><rect x="64.5" y="0.0" width="7.8" height="8.5" fill="#a59696"/><rect x="71.7" y="0.0" width="7.8" height="8.5" fill="#b4b4b6"/><rect x="78.8" y="0.0" width="7.8" height="8.5" fill="#b4b4b6"/><rect x="86.0" y="0.0" width="12.0" height="8.5" fill="#b4b4b6"/><rect x="-12.0" y="7.9" width="12.0" height="8.5" fill="#b4b4b6"/><rect x="0.0" y="7.9" width="7.8" height="8.5" fill="#b4b4b6"/><rect x="7.2" y="7.9" width="7.8" height="8.5" fill="#a59696"/><rect x="14.3" y="7.9" width="7.8" height="8.5" fill="#a59696"/><rect x="21.5" y="7.9" width="7.8" height="8.5" fill="#c0e2de"/><rect x="28.7" y="7.9" width="7.8" height="8.5" fill="#afa5a5"/><rect x="35.8" y="7.9" width="7.8" height="8.5" fill="#a59696"/><rect x="43.0" y="7.9" width="7.8" height="8.5" fill="#afa5a5"/><rect x="50.2" y="7.9" width="7.8" height="8.5" fill="#afa5a5"/><rect x="57.3" y="7.9" width="7.8" height="8.5" fill="#afa5a5"/><rect x="64.5" y="7.9" width="7.8" height="8.5" fill="#b4b4b6"/><rect x="71.7" y="7.9" width="7.8" height="8.5" fill="#c0e2de"/><rect x="78.8" y="7.9" width="7.8" height="8.5" fill="#b4b4b6"/><rect x="86.0" y="7.9" width="12.0" height="8.5" fill="#b4b4b6"/><rect x="-12.0" y="15.8" width="12.0" height="8.5" fill="#a59696"/><rect x="0.0" y="15.8" width="7.8" height="8.5" fill="#a59696"/><rect x="7.2" y="15.8" width="7.8" height="8.5" fill="#a59696"/><rect x="14.3" y="15.8" width="7.8" height="8.5" fill="#b4b4b6"/><rect x="21.5" y="15.8" width="7.8" height="8.5" fill="#b4b4b6"/><rect x="28.7" y="15.8" width="7.8" height="8.5" fill="#a59696"/><rect x="35.8" y="15.8" width="7.8" height="8.5" fill="#b4b4b6"/><rect x="43.0" y="15.8" width="7.8" height="8.5" fill="#b4b4b6"/><rect x="50.2" y="15.8" width="7.8" height="8.5" fill="#afa5a5"/><rect x="57.3" y="15.8" width="7.8" height="8.5" fill="#b4b4b6"/><rect x="64.5" y="15.8" width="7.8" height="8.5" fill="#a59696"/><rect x="71.7" y="15.8" width="7.8" height="8.5" fill="#a59696"/><rect x="78.8" y="15.8" width="7.8" height="8.5" fill="#b4b4b6"/><rect x="86.0" y="15.8" width="12.0" height="8.5" fill="#b4b4b6"/><rect x="-12.0" y="23.6" width="12.0" height="8.5" fill="#a59696"/><rect x="0.0" y="23.6" width="7.8" height="8.5" fill="#a59696"/><rect x="7.2" y="23.6" width="7.8" height="8.5" fill="#a59696"/><rect x="14.3" y="23.6" width="7.8" height="8.5" fill="#afa5a5"/><rect x="21.5" y="23.6" width="7.8" height="8.5" fill="#b4b4b6"/><rect x="28.7" y="23.6" width="7.8" height="8.5" fill="#afa5a5"/><rect x="35.8" y="23.6" width="7.8" height="8.5" fill="#b4b4b6"/><rect x="43.0" y="23.6" width="7.8" height="8.5" fill="#b4b4b6"/><rect x="50.2" y="23.6" width="7.8" height="8.5" fill="#b4b4b6"/><rect x="57.3" y="23.6" width="7.8" height="8.5" fill="#a59696"/><rect x="64.5" y="23.6" width="7.8" height="8.5" fill="#a59696"/><rect x="71.7" y="23.6" width="7.8" height="8.5" fill="#b4b4b6"/><rect x="78.8" y="23.6" width="7.8" height="8.5" fill="#c0e2de"/><rect x="86.0" y="23.6" width="12.0" height="8.5" fill="#c0e2de"/><rect x="-12.0" y="31.5" width="12.0" height="8.5" fill="#b4b4b6"/><rect x="0.0" y="31.5" width="7.8" height="8.5" fill="#b4b4b6"/><rect x="7.2" y="31.5" width="7.8" height="8.5" fill="#a59696"/><rect x="14.3" y="31.5" width="7.8" height="8.5" fill="#b4b4b6"/><rect x="21.5" y="31.5" width="7.8" height="8.5" fill="#b4b4b6"/><rect x="28.7" y="31.5" width="7.8" height="8.5" fill="#b4b4b6"/><rect x="35.8" y="31.5" width="7.8" height="8.5" fill="#b4b4b6"/><rect x="43.0" y="31.5" width="7.8" height="8.5" fill="#afa5a5"/><rect x="50.2" y="31.5" width="7.8" height="8.5" fill="#b4b4b6"/><rect x="57.3" y="31.5" width="7.8" height="8.5" fill="#b4b4b6"/><rect x="64.5" y="31.5" width="7.8" height="8.5" fill="#b4b4b6"/><rect x="71.7" y="31.5" width="7.8" height="8.5" fill="#a59696"/><rect x="78.8" y="31.5" width="7.8" height="8.5" fill="#afa5a5"/><rect x="86.0" y="31.5" width="12.0" height="8.5" fill="#afa5a5"/><rect x="-12.0" y="39.4" width="12.0" height="8.5" fill="#acb6cd"/><rect x="0.0" y="39.4" width="7.8" height="8.5" fill="#acb6cd"/><rect x="7.2" y="39.4" width="7.8" height="8.5" fill="#acb6cd"/><rect x="14.3" y="39.4" width="7.8" height="8.5" fill="#a59696"/><rect x="21.5" y="39.4" width="7.8" height="8.5" fill="#b4b4b6"/><rect x="28.7" y="39.4" width="7.8" height="8.5" fill="#afa5a5"/><rect x="35.8" y="39.4" width="7.8" height="8.5" fill="#afa5a5"/><rect x="43.0" y="39.4" width="7.8" height="8.5" fill="#a59696"/><rect x="50.2" y="39.4" width="7.8" height="8.5" fill="#afa5a5"/><rect x="57.3" y="39.4" width="7.8" height="8.5" fill="#b4b4b6"/><rect x="64.5" y="39.4" width="7.8" height="8.5" fill="#b4b4b6"/><rect x="71.7" y="39.4" width="7.8" height="8.5" fill="#a59696"/><rect x="78.8" y="39.4" width="7.8" height="8.5" fill="#b4b4b6"/><rect x="86.0" y="39.4" width="12.0" height="8.5" fill="#b4b4b6"/><rect x="-12.0" y="47.2" width="12.0" height="8.5" fill="#acb6cd"/><rect x="0.0" y="47.2" width="7.8" height="8.5" fill="#acb6cd"/><rect x="7.2" y="47.2" width="7.8" height="8.5" fill="#c0e2de"/><rect x="14.3" y="47.2" width="7.8" height="8.5" fill="#b4b4b6"/><rect x="21.5" y="47.2" width="7.8" height="8.5" fill="#afa5a5"/><rect x="28.7" y="47.2" width="7.8" height="8.5" fill="#b4b4b6"/><rect x="35.8" y="47.2" width="7.8" height="8.5" fill="#a59696"/><rect x="43.0" y="47.2" width="7.8" height="8.5" fill="#afa5a5"/><rect x="50.2" y="47.2" width="7.8" height="8.5" fill="#afa5a5"/><rect x="57.3" y="47.2" width="7.8" height="8.5" fill="#afa5a5"/><rect x="64.5" y="47.2" width="7.8" height="8.5" fill="#a59696"/><rect x="71.7" y="47.2" width="7.8" height="8.5" fill="#afa5a5"/><rect x="78.8" y="47.2" width="7.8" height="8.5" fill="#b4b4b6"/><rect x="86.0" y="47.2" width="12.0" height="8.5" fill="#b4b4b6"/><rect x="-12.0" y="55.1" width="12.0" height="8.5" fill="#acb6cd"/><rect x="0.0" y="55.1" width="7.8" height="8.5" fill="#acb6cd"/><rect x="7.2" y="55.1" width="7.8" height="8.5" fill="#afa5a5"/><rect x="14.3" y="55.1" width="7.8" height="8.5" fill="#a59696"/><rect x="21.5" y="55.1" width="7.8" height="8.5" fill="#b4b4b6"/><rect x="28.7" y="55.1" width="7.8" height="8.5" fill="#a59696"/><rect x="35.8" y="55.1" width="7.8" height="8.5" fill="#a59696"/><rect x="43.0" y="55.1" width="7.8" height="8.5" fill="#b4b4b6"/><rect x="50.2" y="55.1" width="7.8" height="8.5" fill="#afa5a5"/><rect x="57.3" y="55.1" width="7.8" height="8.5" fill="#afa5a5"/><rect x="64.5" y="55.1" width="7.8" height="8.5" fill="#afa5a5"/><rect x="71.7" y="55.1" width="7.8" height="8.5" fill="#b4b4b6"/><rect x="78.8" y="55.1" width="7.8" height="8.5" fill="#c0e2de"/><rect x="86.0" y="55.1" width="12.0" height="8.5" fill="#c0e2de"/><rect x="-12.0" y="63.0" width="12.0" height="12.0" fill="#acb6cd"/><rect x="0.0" y="63.0" width="7.8" height="12.0" fill="#acb6cd"/><rect x="7.2" y="63.0" width="7.8" height="12.0" fill="#afa5a5"/><rect x="14.3" y="63.0" width="7.8" height="12.0" fill="#a59696"/><rect x="21.5" y="63.0" width="7.8" height="12.0" fill="#b4b4b6"/><rect x="28.7" y="63.0" width="7.8" height="12.0" fill="#a59696"/><rect x="35.8" y="63.0" width="7.8" height="12.0" fill="#a59696"/><rect x="43.0" y="63.0" width="7.8" height="12.0" fill="#b4b4b6"/><rect x="50.2" y="63.0" width="7.8" height="12.0" fill="#afa5a5"/><rect x="57.3" y="63.0" width="7.8" height="12.0" fill="#afa5a5"/><rect x="64.5" y="63.0" width="7.8" height="12.0" fill="#afa5a5"/><rect x="71.7" y="63.0" width="7.8" height="12.0" fill="#b4b4b6"/><rect x="78.8" y="63.0" width="7.8" height="12.0" fill="#c0e2de"/><rect x="86.0" y="63.0" width="12.0" height="12.0" fill="#c0e2de"/></g><g filter="url(#cb7)" stroke-linejoin="round"><polygon points="-0.4,16.1 0.9,12.9 -1.0,12.2 -1.0,16.8" fill="none" stroke="#b97870" stroke-width="0.7"/><polygon points="14.9,53.5 19.4,48.0 18.0,46.3 12.1,45.4 12.0,45.5 11.1,48.1" fill="none" stroke="#b97870" stroke-width="0.7"/><polygon points="14.2,55.6 14.2,53.7 10.9,49.0 9.2,50.1 8.1,56.0 9.4,56.7 13.2,56.5" fill="none" stroke="#8ca5aa" stroke-width="0.7"/><polygon points="18.7,-0.6 21.5,2.2 22.7,2.4 24.8,1.5 25.0,-1.0 18.8,-1.0" fill="none" stroke="#b97870" stroke-width="0.7"/><polygon points="19.9,11.7 19.2,13.1 23.5,17.6 24.0,17.4 24.0,13.2 21.1,11.4" fill="none" stroke="#8ca5aa" stroke-width="0.7"/><polygon points="50.9,34.2 55.3,30.4 55.4,29.2 53.1,26.9 46.9,29.8" fill="none" stroke="#b97870" stroke-width="0.7"/><polygon points="58.7,35.3 64.3,35.8 65.0,35.1 65.1,34.9 61.1,30.3 57.2,29.4 56.5,29.7 56.3,30.7" fill="none" stroke="#b97870" stroke-width="0.7"/><polygon points="68.9,12.1 71.0,14.1 75.3,14.3 76.2,13.3 76.5,12.5 73.2,8.8 70.1,7.6 69.0,8.7" fill="none" stroke="#8ca5aa" stroke-width="0.7"/><polygon points="77.3,12.2 80.3,11.1 79.3,4.2 79.0,3.9 73.9,8.4" fill="none" stroke="#8ca5aa" stroke-width="0.7"/><polygon points="81.2,30.1 78.7,27.4 76.9,29.8 78.3,33.2 78.6,33.3 83.1,32.7" fill="none" stroke="#8ca5aa" stroke-width="0.7"/><polygon points="82.3,53.5 78.2,51.4 75.2,53.9 75.9,57.9 77.5,59.0 81.6,56.8 82.5,53.8" fill="none" stroke="#b97870" stroke-width="0.7"/><polygon points="78.0,59.6 78.7,61.4 83.0,61.8 84.1,61.4 81.8,57.6" fill="none" stroke="#8ca5aa" stroke-width="0.7"/><polygon points="85.9,10.8 82.0,12.1 84.7,17.8 85.4,17.8 87.0,16.5 87.0,12.8" fill="none" stroke="#b97870" stroke-width="0.7"/><polygon points="85.6,29.4 82.2,30.0 84.6,33.1 85.1,33.4 86.1,33.3 86.3,32.1" fill="none" stroke="#8ca5aa" stroke-width="0.7"/><polygon points="80.3,41.9 81.3,43.9 84.3,44.2 86.4,41.1 82.3,39.4 81.4,39.8" fill="none" stroke="#b97870" stroke-width="0.7"/><polygon points="84.7,62.3 83.6,62.8 83.0,64.0 86.9,64.0 87.0,63.2 87.0,62.7" fill="none" stroke="#8ca5aa" stroke-width="0.7"/><polygon points="86.4,19.1 87.0,20.1 87.0,18.7" fill="none" stroke="#b97870" stroke-width="0.7"/><polygon points="2.6,7.3 3.6,5.1 -1.0,3.4 -1.0,6.0" fill="#7e2c25"/><polygon points="0.6,24.2 -1.0,22.6 -1.0,26.9" fill="#67201e"/><polygon points="3.5,4.3 3.8,4.1 3.5,-0.7 -1.0,-0.0 -1.0,2.6" fill="#7c2c25"/><polygon points="1.0,12.3 1.8,12.0 2.5,8.0 -1.0,6.7 -1.0,11.5" fill="#752925"/><polygon points="4.5,21.3 5.7,20.0 4.4,13.6 2.2,12.7 1.3,13.0 -0.0,16.2" fill="#77261e"/><polygon points="0.8,23.6 3.0,23.5 4.0,21.4 -0.0,16.9 -1.0,18.1 -1.0,21.9" fill="#641e1e"/><polygon points="4.3,29.9 5.4,26.9 3.2,24.4 0.9,24.5 -1.0,27.7 -1.0,31.2" fill="#73251e"/><polygon points="6.6,35.4 4.3,30.8 -1.0,32.0 -1.0,33.9 5.8,36.0 6.1,35.9" fill="#903429"/><polygon points="-1.0,34.7 -1.0,35.7 0.6,40.0 1.6,40.8 5.5,36.7" fill="#722725"/><polygon points="-0.4,42.0 -1.0,42.1 -1.0,46.8 -0.6,47.1 0.8,44.3 0.4,42.6" fill="#6b6289"/><polygon points="3.8,45.8 2.8,45.8 1.6,48.2 1.7,48.7 1.9,48.8 6.3,48.5" fill="#756a94"/><polygon points="-0.2,59.1 0.3,59.1 2.8,56.2 0.4,52.2 0.2,52.1 -1.0,53.2 -1.0,57.2" fill="#746a94"/><polygon points="5.0,-0.6 5.3,3.8 8.8,4.2 8.4,-1.0 5.6,-1.0 5.2,-0.8" fill="#923529"/><polygon points="9.9,4.7 11.3,5.3 12.7,4.6 13.6,1.1 11.8,-1.0 9.5,-1.0" fill="#832f25"/><polygon points="5.2,12.2 9.5,11.8 10.0,7.2 8.7,6.6 5.3,6.1 5.0,6.3 4.1,8.2 3.5,11.5" fill="#752825"/><polygon points="6.1,20.0 11.3,19.8 12.7,15.1 10.5,13.0 4.7,13.6" fill="#77261e"/><polygon points="3.6,23.9 6.1,26.5 6.7,26.5 12.1,23.7 12.4,23.2 11.3,20.2 6.0,20.4 4.8,21.6" fill="#802b21"/><polygon points="11.0,30.9 12.6,29.3 12.2,24.0 6.8,26.8" fill="#7c2920"/><polygon points="10.4,33.6 10.8,31.2 6.7,27.1 6.1,27.1 4.8,30.3 7.5,35.6 9.0,35.2" fill="#78271e"/><polygon points="11.1,43.0 12.1,40.0 9.6,37.6 8.7,37.8 8.3,38.1 9.3,42.0 11.0,43.0" fill="#6d638b"/><polygon points="6.2,38.4 5.9,38.5 3.1,41.5 3.4,43.1 4.4,43.1 7.1,42.5" fill="#675d83"/><polygon points="9.9,47.4 10.5,45.6 8.4,44.4 5.5,45.0 8.4,48.1 8.6,48.2" fill="#6b6289"/><polygon points="9.4,57.9 8.6,63.9 9.0,64.0 13.1,64.0 13.9,60.0 13.4,57.7" fill="#923326"/><polygon points="14.3,0.6 17.9,-0.7 18.0,-1.0 12.9,-1.0" fill="#451d22"/><polygon points="13.5,5.1 17.3,6.4 20.8,2.8 18.1,-0.1 14.6,1.3" fill="#451d22"/><polygon points="13.0,14.8 14.5,14.7 18.2,12.7 19.1,11.0 17.2,7.0 13.1,5.6 11.4,6.5 10.8,12.7" fill="#802b21"/><polygon points="15.4,15.3 17.9,18.2 21.7,20.4 23.1,18.2 18.6,13.6" fill="#7b2b25"/><polygon points="12.9,22.7 14.8,23.1 17.2,18.6 14.5,15.4 13.1,15.6 11.8,19.9" fill="#852d22"/><polygon points="12.8,24.2 13.2,29.1 17.0,29.5 19.5,27.0 19.7,25.7 15.0,24.0 13.1,23.7" fill="#6d2321"/><polygon points="16.3,33.9 16.7,30.2 13.0,29.8 11.5,31.3 11.1,33.5" fill="#6b221e"/><polygon points="13.7,39.5 18.8,37.6 16.5,34.4 10.9,34.0 9.5,35.5" fill="#6b211e"/><polygon points="19.1,38.7 19.1,38.6 18.7,38.5 14.1,40.2 12.6,44.7 17.9,45.5 19.1,40.0" fill="#822b21"/><polygon points="14.8,59.8 21.0,63.5 22.7,62.4 20.7,57.2 15.3,56.5 14.3,57.5" fill="#5e1c1e"/><polygon points="25.2,2.6 23.2,3.5 23.7,7.9 26.8,8.4 26.7,3.4" fill="#752825"/><polygon points="22.9,8.3 22.4,3.5 21.3,3.4 17.8,6.8 19.5,10.4 20.8,10.1" fill="#461e23"/><polygon points="19.4,36.5 19.7,36.7 22.5,34.1 22.6,33.2 20.0,28.4 17.8,30.6 17.5,33.9" fill="#97382b"/><polygon points="28.1,37.4 23.6,35.1 20.5,37.9 20.6,38.0 26.7,41.1" fill="#883127"/><polygon points="20.0,40.4 18.7,45.9 20.0,47.4 21.4,47.8 24.5,45.9" fill="#601d1e"/><polygon points="28.5,49.0 25.3,46.6 25.2,46.6 21.9,48.6 23.5,53.6 24.6,53.6 27.8,51.7" fill="#862e23"/><polygon points="20.6,56.0 22.4,53.8 21.0,49.4 19.6,49.1 15.8,53.6 15.8,55.4" fill="#752925"/><polygon points="23.6,54.9 21.7,57.2 23.5,62.0 25.7,62.4 28.2,58.2 24.6,54.9" fill="#802d25"/><polygon points="13.8,64.0 20.6,64.0 14.5,60.4" fill="#872e23"/><polygon points="26.1,1.2 27.5,1.9 29.5,1.9 30.8,-1.0 26.4,-1.0" fill="#8a3227"/><polygon points="27.2,3.0 27.3,9.0 28.5,10.2 28.6,10.2 32.2,4.8 29.8,2.9" fill="#651f1e"/><polygon points="24.3,19.1 22.8,21.3 22.2,24.2 25.3,25.2 30.7,22.5 30.7,22.4 25.9,18.9 24.7,18.9" fill="#8b3227"/><polygon points="30.7,30.0 33.0,26.8 33.0,26.7 31.5,23.1 25.8,25.9 28.6,29.6" fill="#8f3226"/><polygon points="31.6,35.2 31.6,35.0 30.3,31.2 28.4,30.8 24.5,33.5 24.3,34.4 28.7,36.6 31.5,35.3" fill="#8d3328"/><polygon points="32.0,43.0 32.0,36.3 29.0,37.7 27.5,41.5 27.6,42.0" fill="#842d23"/><polygon points="26.2,41.8 20.8,39.1 20.8,40.2 24.8,45.0 24.8,45.0 26.3,42.2" fill="#7e2c25"/><polygon points="30.4,53.0 33.4,49.8 33.3,48.5 29.4,49.2 28.9,51.5" fill="#863026"/><polygon points="24.9,54.1 29.0,57.8 30.1,57.3 31.0,56.6 30.1,53.9 28.2,52.2" fill="#862d23"/><polygon points="33.1,63.2 30.3,57.8 29.1,58.4 26.2,63.2 26.5,63.6 27.9,64.0 32.4,64.0" fill="#6e231e"/><polygon points="26.3,63.7 26.3,64.0 27.1,64.0" fill="#802b21"/><polygon points="30.1,2.7 32.4,4.4 32.9,4.5 35.4,0.4 33.7,-1.0 31.8,-1.0" fill="#641e1e"/><polygon points="38.9,1.0 35.9,1.0 33.8,4.5 36.4,6.5 39.5,4.3 39.9,3.1" fill="#872e23"/><polygon points="31.2,12.7 33.7,13.1 35.6,12.0 35.9,7.5 32.9,5.4 32.4,5.3 29.1,10.3" fill="#842d23"/><polygon points="39.8,18.2 38.3,13.9 36.1,13.2 34.4,14.2 34.5,19.3 39.7,20.2" fill="#842f25"/><polygon points="33.8,19.7 33.6,13.8 31.0,13.4 26.3,18.1 31.7,22.2" fill="#72241e"/><polygon points="38.3,25.7 34.7,27.0 34.6,27.2 37.5,29.4 40.9,30.9 41.4,30.2" fill="#7d2c25"/><polygon points="36.5,30.0 33.5,27.7 31.4,30.5 32.7,34.3" fill="#742621"/><polygon points="37.7,37.6 32.9,36.2 32.7,36.4 32.7,42.8 34.5,44.4 38.2,39.2" fill="#892f24"/><polygon points="33.7,47.7 34.3,46.9 34.1,45.3 32.1,43.6 27.5,42.6 25.7,46.1 29.0,48.5" fill="#6a2221"/><polygon points="40.7,48.8 35.1,47.6 34.6,48.3 34.7,49.7 35.8,53.4 40.7,50.8" fill="#7a281f"/><polygon points="34.7,55.8 34.9,54.0 33.9,50.8 31.0,53.8 31.8,56.0" fill="#782a25"/><polygon points="33.4,62.8 37.1,60.5 37.7,59.3 35.1,56.9 31.7,57.1 30.8,57.8" fill="#651f1e"/><polygon points="37.3,61.2 33.6,63.5 33.2,64.0 37.9,64.0" fill="#67201e"/><polygon points="35.7,0.0 39.1,0.1 39.4,-1.0 34.5,-1.0" fill="#682121"/><polygon points="40.5,4.6 43.5,8.5 46.8,8.2 44.3,2.7 40.9,3.2" fill="#812b22"/><polygon points="36.8,7.6 36.6,11.8 38.8,12.5 41.1,11.9 42.8,8.8 40.1,5.3" fill="#611d1e"/><polygon points="41.4,12.7 39.0,13.4 40.6,18.1 45.6,15.2" fill="#70231e"/><polygon points="39.7,21.2 34.2,20.2 32.3,22.5 32.3,22.6 33.8,26.1 37.9,24.6 39.9,21.5" fill="#7f2a20"/><polygon points="44.1,23.5 40.9,22.4 39.2,25.1 42.3,29.6 43.8,28.5" fill="#8f3429"/><polygon points="40.8,32.5 40.9,32.2 37.3,30.6 33.4,35.0 33.4,35.1 38.1,36.4" fill="#762925"/><polygon points="42.4,40.3 45.8,38.9 46.2,37.3 42.0,33.4 39.4,37.2 39.8,38.6" fill="#6e2625"/><polygon points="35.5,45.1 35.6,46.5 40.9,47.6 42.4,46.4 41.7,41.9 38.9,40.1" fill="#892f24"/><polygon points="45.9,51.8 44.4,47.7 43.3,47.5 41.7,48.9 41.7,51.0 43.3,55.3 44.1,55.4" fill="#8a3024"/><polygon points="41.3,51.1 35.6,54.1 35.4,56.5 38.2,59.1 39.4,58.9 43.1,56.0" fill="#69201e"/><polygon points="43.3,57.0 40.6,59.2 43.7,62.3 45.1,62.4 45.2,57.5 43.9,57.1" fill="#782a25"/><polygon points="43.3,63.4 39.5,59.5 38.4,59.7 37.9,61.0 38.5,64.0 42.9,64.0" fill="#631e1e"/><polygon points="44.1,1.6 45.7,0.7 45.9,-1.0 40.5,-1.0 40.3,-0.0 41.3,2.0" fill="#792821"/><polygon points="50.5,6.6 49.5,3.7 46.5,1.8 44.8,2.8 47.2,8.0 48.3,8.2" fill="#822c22"/><polygon points="46.8,8.9 43.8,9.2 42.0,12.3 46.0,14.7 46.5,14.8 47.9,11.3 47.9,9.2" fill="#6a2221"/><polygon points="48.8,17.9 52.8,15.8 53.1,14.3 48.7,11.9 47.3,15.3" fill="#8c3125"/><polygon points="41.3,18.6 41.2,20.6 41.4,20.9 44.7,22.1 47.5,20.5 47.8,18.7 46.3,16.2 45.8,16.1" fill="#923529"/><polygon points="47.2,36.4 49.7,34.8 49.8,34.2 46.4,30.5 44.8,30.2 43.3,31.4 42.8,32.1 42.7,32.4" fill="#792821"/><polygon points="47.5,39.4 50.4,42.5 53.2,39.0 50.6,36.1 48.0,37.7" fill="#8d3328"/><polygon points="43.4,46.8 44.6,46.9 50.1,46.5 50.4,45.7 50.2,43.4 46.8,39.7 42.5,41.4" fill="#7c2920"/><polygon points="50.2,50.6 51.1,49.3 50.0,47.0 45.0,47.4 46.6,51.5" fill="#672021"/><polygon points="46.1,56.3 48.3,56.4 50.1,51.4 46.4,52.3 44.7,55.7" fill="#782821"/><polygon points="46.8,0.9 49.8,2.9 52.4,-1.0 47.1,-1.0" fill="#802b22"/><polygon points="53.5,-0.9 50.6,3.5 51.5,6.2 54.1,6.6 57.3,3.9" fill="#672121"/><polygon points="51.1,7.5 49.1,9.0 49.1,11.1 53.4,13.4 54.9,11.2 53.8,7.9" fill="#923326"/><polygon points="55.8,12.1 54.3,14.3 54.0,15.8 57.3,18.2 59.2,16.4 60.0,13.6 60.0,13.5" fill="#702421"/><polygon points="53.3,16.5 49.2,18.7 48.9,20.6 52.5,23.4 56.6,19.9 56.7,19.0" fill="#772721"/><polygon points="53.5,24.2 54.1,26.1 56.0,28.0 56.7,27.7 59.8,23.8 57.1,21.1" fill="#852f26"/><polygon points="54.2,37.9 55.6,37.9 57.4,35.6 55.3,31.7 51.9,34.7 51.8,35.2" fill="#6a2425"/><polygon points="51.0,43.2 51.1,45.2 54.1,44.4 56.3,40.9 55.5,39.5 53.9,39.5" fill="#8d3125"/><polygon points="52.1,49.2 56.2,51.1 60.5,47.6 60.1,45.9 54.4,45.1 51.2,46.1 51.0,46.7" fill="#7d2921"/><polygon points="50.3,56.8 54.2,56.6 55.7,53.8 55.4,52.1 51.9,50.4 51.1,51.6 49.4,56.1" fill="#7f2a21"/><polygon points="56.8,63.6 56.9,63.5 54.4,57.8 50.0,58.0 50.2,64.0 53.3,64.0" fill="#882f24"/><polygon points="61.3,0.8 62.0,-1.0 54.6,-1.0 58.2,3.4 58.7,3.4" fill="#77271e"/><polygon points="69.1,6.8 69.0,6.1 62.0,1.6 59.5,4.1 62.9,8.4 68.0,7.9" fill="#79271f"/><polygon points="58.8,4.8 58.3,4.8 54.9,7.6 56.0,11.0 60.3,12.5 62.1,8.8" fill="#752621"/><polygon points="61.2,14.0 60.5,16.5 62.2,17.6 65.1,16.2 64.9,15.5" fill="#94362a"/><polygon points="58.3,20.0 60.9,22.7 63.4,22.5 63.6,22.3 61.7,18.9 60.0,17.7 58.3,19.3" fill="#903429"/><polygon points="57.0,28.6 61.2,29.6 64.5,26.2 64.2,23.5 61.0,23.7" fill="#75261e"/><polygon points="57.2,39.0 57.9,40.2 60.7,42.6 63.5,39.3 63.7,37.1 59.1,36.7" fill="#762925"/><polygon points="60.0,43.9 57.1,41.3 55.0,44.5 60.0,45.2" fill="#8a3227"/><polygon points="66.6,51.2 65.3,48.4 61.9,48.2 63.7,53.1" fill="#862e23"/><polygon points="61.2,48.2 61.1,48.1 56.7,51.7 56.9,53.6 62.9,56.7 63.0,56.7 63.2,53.7" fill="#7e2a21"/><polygon points="60.4,62.6 62.5,57.5 56.9,54.6 55.3,57.6 57.6,62.9" fill="#8c3025"/><polygon points="60.6,63.7 58.7,64.0 61.0,64.0" fill="#8c3025"/><polygon points="62.8,-0.8 62.1,1.1 69.5,5.8 70.7,1.3 66.3,-1.0 63.8,-1.0" fill="#7e2a20"/><polygon points="63.4,9.6 61.9,12.7 61.9,12.8 65.6,14.3 67.4,12.0 67.5,9.2" fill="#873026"/><polygon points="66.6,15.4 66.7,16.1 67.5,17.6 69.3,17.0 70.1,14.8 68.3,13.2" fill="#732825"/><polygon points="64.7,22.5 66.2,21.7 66.8,18.6 65.9,16.9 62.5,18.5" fill="#7c2920"/><polygon points="64.5,23.4 64.8,26.2 68.9,32.0 71.6,30.1 68.8,23.0 66.5,22.2 64.8,23.1" fill="#842c22"/><polygon points="65.8,34.8 68.0,33.1 68.5,32.1 64.8,26.7 61.7,29.9" fill="#812b21"/><polygon points="68.9,34.4 67.0,35.9 66.9,36.0 72.3,41.2 73.7,39.9 73.5,38.1" fill="#7e2c25"/><polygon points="65.4,47.3 69.1,45.1 64.6,40.1 61.4,44.0 61.3,45.5 61.7,47.0 61.9,47.1" fill="#822e25"/><polygon points="71.4,52.5 70.3,45.9 69.8,45.9 66.0,48.1 67.5,51.1 69.8,53.1" fill="#76261e"/><polygon points="67.1,51.7 63.8,53.9 63.6,57.0 67.3,57.0 69.6,53.7" fill="#7e2a20"/><polygon points="63.7,57.8 63.7,57.9 61.5,62.8 62.6,63.6 69.4,62.3 69.5,61.4 67.1,57.8" fill="#852d23"/><polygon points="69.9,62.9 64.5,64.0 70.3,64.0" fill="#732521"/><polygon points="70.8,0.9 72.6,-0.8 72.4,-1.0 67.3,-1.0" fill="#601d1e"/><polygon points="73.6,7.1 77.8,3.3 77.4,1.8 74.9,0.1 73.3,0.5 71.8,1.9 70.8,5.5 70.9,6.1" fill="#6d2525"/><polygon points="71.0,14.7 70.0,17.5 74.2,19.3 75.6,14.9" fill="#6f231e"/><polygon points="69.8,17.9 67.6,18.7 67.0,21.8 69.1,22.5 73.9,21.1 73.8,19.6" fill="#842c22"/><polygon points="74.3,22.3 70.0,23.5 72.2,29.1 75.2,28.4 77.2,25.9 77.4,25.4" fill="#6b2425"/><polygon points="77.5,34.1 75.6,29.6 71.9,30.5 69.3,32.3 68.7,33.4 74.3,37.9" fill="#8b2f24"/><polygon points="77.8,34.4 74.6,38.3 74.9,40.5 79.2,41.7 80.6,39.0 78.1,34.6" fill="#73251e"/><polygon points="65.3,39.6 69.6,44.4 70.1,44.5 70.8,44.1 72.0,42.0 66.2,36.5 65.6,37.1" fill="#6b2525"/><polygon points="77.6,48.8 71.7,45.5 71.0,45.9 72.0,52.6 74.7,53.2 77.6,50.8" fill="#782821"/><polygon points="71.7,54.1 70.5,54.6 68.7,57.1 70.8,60.2 74.4,57.9 73.9,54.7" fill="#802d25"/><polygon points="77.2,62.0 76.6,60.4 75.3,59.5 71.5,61.9 71.4,62.7 71.9,64.0 76.6,64.0" fill="#97382b"/><polygon points="80.3,-1.0 77.0,-1.0 78.7,0.1" fill="#822e25"/><polygon points="80.0,2.9 80.3,3.2 84.3,3.8 86.2,1.0 86.2,0.9 81.2,0.2 79.5,1.4" fill="#8d3328"/><polygon points="78.0,14.2 81.5,19.1 83.5,17.9 81.0,12.7 80.7,12.7 78.3,13.6" fill="#7a2b25"/><polygon points="78.6,25.0 81.5,20.4 76.9,13.9 75.9,15.0 74.5,19.5 74.7,21.2 78.6,25.1" fill="#661f1e"/><polygon points="78.8,34.6 81.0,38.4 81.9,38.0 84.5,34.1 84.0,33.9" fill="#822c22"/><polygon points="73.2,42.5 71.9,44.8 77.9,48.1 80.1,44.6 79.0,42.2 74.9,41.1" fill="#842c22"/><polygon points="85.5,47.5 84.3,45.6 80.9,45.3 78.8,48.7 78.8,50.6 82.6,52.5" fill="#802d25"/><polygon points="81.6,-0.8 86.6,-0.1 86.7,-1.0 81.7,-1.0" fill="#6b2525"/><polygon points="85.4,4.6 86.7,8.7 87.0,8.5 87.0,2.2" fill="#792a25"/><polygon points="81.2,10.6 81.4,10.6 85.3,9.3 85.5,9.0 84.3,5.1 80.3,4.5" fill="#8f3429"/><polygon points="85.1,19.9 84.4,19.9 82.3,21.1 80.1,24.7 85.1,25.3 87.0,24.5 87.0,23.3" fill="#752925"/><polygon points="85.3,34.1 82.4,38.4 87.0,40.3 87.0,34.5 86.3,34.0" fill="#6b2221"/><polygon points="85.1,53.3 87.0,51.2 87.0,48.4 86.2,48.1 83.5,52.7 83.7,52.9" fill="#97382b"/><polygon points="87.0,10.2 87.0,10.2 87.0,10.2" fill="#8f3428"/></g></svg></div>
<svg id="main" width="520" height="309" viewBox="0 0 520 309" font-family='"Liberation Sans", sans-serif'>
<text x="0.6" y="14" font-size="14" font-weight="bold">A</text>
<rect x="53.1" y="20.2" width="153.20000000000002" height="101.6" fill="none" stroke="#6e6e6e" stroke-width="1"/>
<line x1="50" y1="29.8" x2="53.1" y2="29.8" stroke="#6e6e6e" stroke-width="1"/>
<text x="47.5" y="32.7" font-size="8.3" text-anchor="end" fill="#222">100</text>
<line x1="50" y1="52.8" x2="53.1" y2="52.8" stroke="#6e6e6e" stroke-width="1"/>
<text x="47.5" y="55.7" font-size="8.3" text-anchor="end" fill="#222">75</text>
<line x1="50" y1="75.8" x2="53.1" y2="75.8" stroke="#6e6e6e" stroke-width="1"/>
<text x="47.5" y="78.7" font-size="8.3" text-anchor="end" fill="#222">50</text>
<line x1="50" y1="98.8" x2="53.1" y2="98.8" stroke="#6e6e6e" stroke-width="1"/>
<text x="47.5" y="101.7" font-size="8.3" text-anchor="end" fill="#222">25</text>
<line x1="50" y1="121.8" x2="53.1" y2="121.8" stroke="#6e6e6e" stroke-width="1"/>
<text x="47.5" y="124.7" font-size="8.3" text-anchor="end" fill="#222">0</text>
<line x1="53.1" y1="121.8" x2="53.1" y2="124.6" stroke="#6e6e6e" stroke-width="1"/>
<text x="53.1" y="134.6" font-size="8.3" text-anchor="middle" fill="#222">0</text>
<line x1="91.4" y1="121.8" x2="91.4" y2="124.6" stroke="#6e6e6e" stroke-width="1"/>
<text x="91.4" y="134.6" font-size="8.3" text-anchor="middle" fill="#222">5</text>
<line x1="129.7" y1="121.8" x2="129.7" y2="124.6" stroke="#6e6e6e" stroke-width="1"/>
<text x="129.7" y="134.6" font-size="8.3" text-anchor="middle" fill="#222">10</text>
<line x1="168.0" y1="121.8" x2="168.0" y2="124.6" stroke="#6e6e6e" stroke-width="1"/>
<text x="168.0" y="134.6" font-size="8.3" text-anchor="middle" fill="#222">15</text>
<line x1="206.3" y1="121.8" x2="206.3" y2="124.6" stroke="#6e6e6e" stroke-width="1"/>
<text x="206.3" y="134.6" font-size="8.3" text-anchor="middle" fill="#222">20</text>
<text x="128.7" y="146.4" font-size="9" text-anchor="middle" fill="#111">Weeks</text>
<text transform="translate(29.7,73.5) rotate(-90)" font-size="8.9" text-anchor="middle" fill="#111">Percent Tumor Free</text>
<path d="M53.1,29.8 H122.0 V51.1 H129.7 V72.8 H137.4 V100.8 H145.0 V111.9 H152.7 V121.8" fill="none" stroke="#000" stroke-width="1.7"/>
<path d="M53.1,29.8 H114.4 V33.0 H122.0 V48.7 H129.7 V70.7 H137.4 V90.5 H145.0 V99.2 H152.7 V112.0 H160.3 V115.4 H168.0 V118.3 H175.7 V121.8" fill="none" stroke="#000" stroke-width="1.7"/>
<path d="M53.1,29.8 H106.7 V39.3 H114.4 V67.5 H122.0 V99.4 H129.7 V115.4 H137.4 V121.8" fill="none" stroke="#000" stroke-width="1.7"/>
<circle cx="106.7" cy="39.3" r="2.1" fill="#000"/>
<circle cx="114.4" cy="67.5" r="2.1" fill="#000"/>
<circle cx="122.0" cy="99.4" r="2.1" fill="#000"/>
<circle cx="129.7" cy="115.4" r="2.1" fill="#000"/>
<circle cx="137.4" cy="121.8" r="2.1" fill="#000"/>
<rect x="112.6" y="31.2" width="3.6" height="3.6" fill="#000"/>
<rect x="120.2" y="46.9" width="3.6" height="3.6" fill="#000"/>
<rect x="127.9" y="68.9" width="3.6" height="3.6" fill="#000"/>
<rect x="135.6" y="88.7" width="3.6" height="3.6" fill="#000"/>
<rect x="143.2" y="97.4" width="3.6" height="3.6" fill="#000"/>
<rect x="150.9" y="110.2" width="3.6" height="3.6" fill="#000"/>
<rect x="158.5" y="113.6" width="3.6" height="3.6" fill="#000"/>
<rect x="166.2" y="116.5" width="3.6" height="3.6" fill="#000"/>
<rect x="173.9" y="120.0" width="3.6" height="3.6" fill="#000"/>
<rect x="120.2" y="49.3" width="3.6" height="3.6" fill="#000"/>
<rect x="127.9" y="71.0" width="3.6" height="3.6" fill="#000"/>
<rect x="135.6" y="99.0" width="3.6" height="3.6" fill="#000"/>
<rect x="143.2" y="110.1" width="3.6" height="3.6" fill="#000"/>
<rect x="150.9" y="120.0" width="3.6" height="3.6" fill="#000"/>
<line x1="122.5" y1="51.5" x2="142" y2="62" stroke="#000" stroke-width="0.8"/>
<line x1="161.5" y1="113.8" x2="168.8" y2="107.3" stroke="#000" stroke-width="0.8"/>
<text x="105.4" y="87.5" font-size="8.5" font-weight="bold">WT</text>
<text x="143" y="68.3" font-size="8" font-weight="bold">TF<tspan font-size="5.6" dy="-3.3">ΔCT</tspan><tspan dy="3.3">/PAR2-/-</tspan></text>
<text x="166.6" y="104.8" font-size="8" font-weight="bold">TF<tspan font-size="5.6" dy="-3.3">ΔCT</tspan></text>
<text x="1.2" y="171" font-size="14" font-weight="bold">B</text>
<polyline points="51.8,279.4 51.8,177.1 205.3,177.1 205.3,279.4" fill="none" stroke="#6e6e6e" stroke-width="1"/>
<line x1="49" y1="279.4" x2="54.5" y2="279.4" stroke="#6e6e6e" stroke-width="1"/>
<line x1="59" y1="279.4" x2="205.3" y2="279.4" stroke="#6e6e6e" stroke-width="1"/>
<line x1="53.3" y1="282.5" x2="57.3" y2="276.3" stroke="#000" stroke-width="0.9"/>
<line x1="56.7" y1="282.5" x2="60.7" y2="276.3" stroke="#000" stroke-width="0.9"/>
<line x1="49" y1="279.4" x2="51.8" y2="279.4" stroke="#6e6e6e" stroke-width="1"/>
<text x="44.6" y="282.3" font-size="8.2" text-anchor="end" fill="#222">0</text>
<line x1="49" y1="256.8" x2="51.8" y2="256.8" stroke="#6e6e6e" stroke-width="1"/>
<text x="46.6" y="259.7" font-size="8.2" text-anchor="end" fill="#222">1000</text>
<line x1="49" y1="234.3" x2="51.8" y2="234.3" stroke="#6e6e6e" stroke-width="1"/>
<text x="46.6" y="237.2" font-size="8.2" text-anchor="end" fill="#222">2000</text>
<line x1="49" y1="211.7" x2="51.8" y2="211.7" stroke="#6e6e6e" stroke-width="1"/>
<text x="46.6" y="214.6" font-size="8.2" text-anchor="end" fill="#222">3000</text>
<line x1="49" y1="189.2" x2="51.8" y2="189.2" stroke="#6e6e6e" stroke-width="1"/>
<text x="46.6" y="192.1" font-size="8.2" text-anchor="end" fill="#222">4000</text>
<text x="51.8" y="292.2" font-size="8.2" text-anchor="middle" fill="#222">0</text>
<line x1="72.7" y1="279.4" x2="72.7" y2="282" stroke="#6e6e6e" stroke-width="1"/>
<text x="72.7" y="292.2" font-size="8.2" text-anchor="middle" fill="#222">9</text>
<line x1="93.9" y1="279.4" x2="93.9" y2="282" stroke="#6e6e6e" stroke-width="1"/>
<text x="93.9" y="292.2" font-size="8.2" text-anchor="middle" fill="#222">11</text>
<line x1="115.2" y1="279.4" x2="115.2" y2="282" stroke="#6e6e6e" stroke-width="1"/>
<text x="115.2" y="292.2" font-size="8.2" text-anchor="middle" fill="#222">13</text>
<line x1="136.4" y1="279.4" x2="136.4" y2="282" stroke="#6e6e6e" stroke-width="1"/>
<text x="136.4" y="292.2" font-size="8.2" text-anchor="middle" fill="#222">15</text>
<line x1="157.7" y1="279.4" x2="157.7" y2="282" stroke="#6e6e6e" stroke-width="1"/>
<text x="157.7" y="292.2" font-size="8.2" text-anchor="middle" fill="#222">17</text>
<line x1="178.9" y1="279.4" x2="178.9" y2="282" stroke="#6e6e6e" stroke-width="1"/>
<text x="178.9" y="292.2" font-size="8.2" text-anchor="middle" fill="#222">19</text>
<line x1="200.1" y1="279.4" x2="200.1" y2="282" stroke="#6e6e6e" stroke-width="1"/>
<text x="200.1" y="292.2" font-size="8.2" text-anchor="middle" fill="#222">21</text>
<text x="125.5" y="306" font-size="8.6" text-anchor="middle" fill="#222">Weeks</text>
<text transform="translate(21.6,231.5) rotate(-90)" font-size="9.2" text-anchor="middle" fill="#222">Total Tumor Volume (mm<tspan font-size="5.5" dy="-3">3</tspan><tspan dy="3">)</tspan></text>
<line x1="189.5" y1="191.6" x2="189.5" y2="183.2" stroke="#888" stroke-width="0.7"/>
<line x1="188.5" y1="183.2" x2="190.5" y2="183.2" stroke="#888" stroke-width="0.7"/>
<line x1="178.9" y1="214.6" x2="178.9" y2="207.2" stroke="#888" stroke-width="0.7"/>
<line x1="177.9" y1="207.2" x2="179.9" y2="207.2" stroke="#888" stroke-width="0.7"/>
<line x1="168.3" y1="235.0" x2="168.3" y2="229.5" stroke="#888" stroke-width="0.7"/>
<line x1="167.3" y1="229.5" x2="169.3" y2="229.5" stroke="#888" stroke-width="0.7"/>
<line x1="157.7" y1="243.6" x2="157.7" y2="238.5" stroke="#888" stroke-width="0.7"/>
<line x1="156.7" y1="238.5" x2="158.7" y2="238.5" stroke="#888" stroke-width="0.7"/>
<line x1="147.0" y1="256.0" x2="147.0" y2="252.0" stroke="#888" stroke-width="0.7"/>
<line x1="146.0" y1="252.0" x2="148.0" y2="252.0" stroke="#888" stroke-width="0.7"/>
<line x1="136.4" y1="264.6" x2="136.4" y2="262.0" stroke="#888" stroke-width="0.7"/>
<line x1="135.4" y1="262.0" x2="137.4" y2="262.0" stroke="#888" stroke-width="0.7"/>
<line x1="189.5" y1="232.2" x2="189.5" y2="224.9" stroke="#888" stroke-width="0.7"/>
<line x1="188.5" y1="224.9" x2="190.5" y2="224.9" stroke="#888" stroke-width="0.7"/>
<line x1="178.9" y1="239.2" x2="178.9" y2="229.3" stroke="#888" stroke-width="0.7"/>
<line x1="177.9" y1="229.3" x2="179.9" y2="229.3" stroke="#888" stroke-width="0.7"/>
<line x1="168.3" y1="251.7" x2="168.3" y2="246.6" stroke="#888" stroke-width="0.7"/>
<line x1="167.3" y1="246.6" x2="169.3" y2="246.6" stroke="#888" stroke-width="0.7"/>
<line x1="157.7" y1="257.5" x2="157.7" y2="252.0" stroke="#888" stroke-width="0.7"/>
<line x1="156.7" y1="252.0" x2="158.7" y2="252.0" stroke="#888" stroke-width="0.7"/>
<line x1="147.0" y1="264.6" x2="147.0" y2="261.0" stroke="#888" stroke-width="0.7"/>
<line x1="146.0" y1="261.0" x2="148.0" y2="261.0" stroke="#888" stroke-width="0.7"/>
<line x1="178.9" y1="242.7" x2="178.9" y2="236.0" stroke="#888" stroke-width="0.7"/>
<line x1="177.9" y1="236.0" x2="179.9" y2="236.0" stroke="#888" stroke-width="0.7"/>
<line x1="157.7" y1="260.3" x2="157.7" y2="256.0" stroke="#888" stroke-width="0.7"/>
<line x1="156.7" y1="256.0" x2="158.7" y2="256.0" stroke="#888" stroke-width="0.7"/>
<polyline points="62.1,279.3 72.7,279.2 83.3,279.0 93.9,278.8 104.6,278.3 115.2,277.5 125.8,276.3 136.4,273.3 147.0,266.6 157.7,260.3 168.3,254.3 178.9,242.7 189.5,232.5" fill="none" stroke="#000" stroke-width="1.3"/>
<circle cx="62.1" cy="279.3" r="1.5" fill="#000"/>
<circle cx="72.7" cy="279.2" r="1.5" fill="#000"/>
<circle cx="83.3" cy="279.0" r="1.5" fill="#000"/>
<circle cx="93.9" cy="278.8" r="1.5" fill="#000"/>
<circle cx="104.6" cy="278.3" r="1.5" fill="#000"/>
<circle cx="115.2" cy="277.5" r="1.5" fill="#000"/>
<circle cx="125.8" cy="276.3" r="1.5" fill="#000"/>
<circle cx="136.4" cy="273.3" r="1.5" fill="#000"/>
<circle cx="147.0" cy="266.6" r="1.5" fill="#000"/>
<circle cx="157.7" cy="260.3" r="1.5" fill="#000"/>
<circle cx="168.3" cy="254.3" r="1.5" fill="#000"/>
<circle cx="178.9" cy="242.7" r="1.5" fill="#000"/>
<circle cx="189.5" cy="232.5" r="1.5" fill="#000"/>
<polyline points="62.1,279.2 72.7,279.0 83.3,278.8 93.9,278.3 104.6,277.5 115.2,276.3 125.8,273.8 136.4,269.5 147.0,264.6 157.7,257.5 168.3,251.7 178.9,239.2 189.5,232.2" fill="none" stroke="#000" stroke-width="1.3"/>
<circle cx="62.1" cy="279.2" r="1.5" fill="#000"/>
<circle cx="72.7" cy="279.0" r="1.5" fill="#000"/>
<circle cx="83.3" cy="278.8" r="1.5" fill="#000"/>
<circle cx="93.9" cy="278.3" r="1.5" fill="#000"/>
<circle cx="104.6" cy="277.5" r="1.5" fill="#000"/>
<circle cx="115.2" cy="276.3" r="1.5" fill="#000"/>
<circle cx="125.8" cy="273.8" r="1.5" fill="#000"/>
<circle cx="136.4" cy="269.5" r="1.5" fill="#000"/>
<circle cx="147.0" cy="264.6" r="1.5" fill="#000"/>
<circle cx="157.7" cy="257.5" r="1.5" fill="#000"/>
<circle cx="168.3" cy="251.7" r="1.5" fill="#000"/>
<circle cx="178.9" cy="239.2" r="1.5" fill="#000"/>
<circle cx="189.5" cy="232.2" r="1.5" fill="#000"/>
<polyline points="62.1,279.0 72.7,278.8 83.3,278.3 93.9,277.5 104.6,276.3 115.2,273.5 125.8,269.8 136.4,264.6 147.0,256.0 157.7,243.6 168.3,235.0 178.9,214.6 189.5,191.6" fill="none" stroke="#000" stroke-width="1.3"/>
<circle cx="62.1" cy="279.0" r="1.5" fill="#000"/>
<circle cx="72.7" cy="278.8" r="1.5" fill="#000"/>
<circle cx="83.3" cy="278.3" r="1.5" fill="#000"/>
<circle cx="93.9" cy="277.5" r="1.5" fill="#000"/>
<circle cx="104.6" cy="276.3" r="1.5" fill="#000"/>
<circle cx="115.2" cy="273.5" r="1.5" fill="#000"/>
<circle cx="125.8" cy="269.8" r="1.5" fill="#000"/>
<circle cx="136.4" cy="264.6" r="1.5" fill="#000"/>
<circle cx="147.0" cy="256.0" r="1.5" fill="#000"/>
<circle cx="157.7" cy="243.6" r="1.5" fill="#000"/>
<circle cx="168.3" cy="235.0" r="1.5" fill="#000"/>
<circle cx="178.9" cy="214.6" r="1.5" fill="#000"/>
<circle cx="189.5" cy="191.6" r="1.5" fill="#000"/>
<text x="191.1" y="199.9" font-size="7.8" font-weight="bold">WT</text>
<text x="182.2" y="248.6" font-size="7.8" font-weight="bold">TF<tspan font-size="5.5" dy="-3.2">ΔCT</tspan></text>
<text x="152.7" y="274.9" font-size="7.8" font-weight="bold">TF<tspan font-size="5.5" dy="-3.2">ΔCT</tspan><tspan dy="3.2">/PAR2-/-</tspan></text>
<text x="240.9" y="13.2" font-size="14" font-weight="bold">C</text>
<text x="258.6" y="23.2" font-size="10">WT</text>
<text x="345.3" y="23.1" font-size="10">TF<tspan font-size="6.2" font-weight="bold" dy="-4">ΔCT</tspan></text>
<text x="436" y="23.1" font-size="10">TF<tspan font-size="6.2" font-weight="bold" dy="-4">ΔCT</tspan><tspan dy="4">/PAR2-/-</tspan></text>
<text x="258.5" y="177.1" font-size="10">PAR2-/-</text>
<line x1="509" y1="153.4" x2="517.6" y2="153.4" stroke="#222" stroke-width="0.9" opacity="0.8"/>
<rect x="428" y="178.5" width="91.39999999999998" height="101.89999999999998" fill="none" stroke="#6e6e6e" stroke-width="1"/>
<line x1="425" y1="280.4" x2="428" y2="280.4" stroke="#6e6e6e" stroke-width="1"/>
<text x="422" y="283.4" font-size="8.8" text-anchor="end" fill="#222">0</text>
<line x1="425" y1="260.0" x2="428" y2="260.0" stroke="#6e6e6e" stroke-width="1"/>
<text x="422" y="263.0" font-size="8.8" text-anchor="end" fill="#222">200000</text>
<line x1="425" y1="239.7" x2="428" y2="239.7" stroke="#6e6e6e" stroke-width="1"/>
<text x="422" y="242.7" font-size="8.8" text-anchor="end" fill="#222">400000</text>
<line x1="425" y1="219.3" x2="428" y2="219.3" stroke="#6e6e6e" stroke-width="1"/>
<text x="422" y="222.3" font-size="8.8" text-anchor="end" fill="#222">600000</text>
<line x1="425" y1="199.0" x2="428" y2="199.0" stroke="#6e6e6e" stroke-width="1"/>
<text x="422" y="202.0" font-size="8.8" text-anchor="end" fill="#222">800000</text>
<line x1="425" y1="178.6" x2="428" y2="178.6" stroke="#6e6e6e" stroke-width="1"/>
<text x="422" y="181.6" font-size="8.8" text-anchor="end" fill="#222">1000000</text>
<text transform="translate(383.6,227.3) rotate(-90)" font-size="9.2" text-anchor="middle" fill="#222">Tumor Area (pixels)</text>
<line x1="448.2" y1="201.7" x2="448.2" y2="223.8" stroke="#555" stroke-width="1"/>
<line x1="443" y1="201.7" x2="453" y2="201.7" stroke="#555" stroke-width="1"/>
<rect x="441" y="223.8" width="14.3" height="56.6" fill="#000"/>
<line x1="448.2" y1="280.4" x2="448.2" y2="283" stroke="#6e6e6e" stroke-width="1"/>
<line x1="472.7" y1="228.6" x2="472.7" y2="246.5" stroke="#555" stroke-width="1"/>
<line x1="467" y1="228.6" x2="478" y2="228.6" stroke="#555" stroke-width="1"/>
<rect x="465.3" y="246.5" width="14.7" height="33.9" fill="#000"/>
<line x1="472.7" y1="280.4" x2="472.7" y2="283" stroke="#6e6e6e" stroke-width="1"/>
<line x1="497" y1="236.4" x2="497" y2="243.3" stroke="#555" stroke-width="1"/>
<line x1="491.8" y1="236.4" x2="502.3" y2="236.4" stroke="#555" stroke-width="1"/>
<rect x="489.8" y="243.3" width="14.4" height="37.1" fill="#000"/>
<line x1="497" y1="280.4" x2="497" y2="283" stroke="#6e6e6e" stroke-width="1"/>
<text x="472.9" y="227.4" font-size="14.5" font-weight="bold" text-anchor="middle">*</text>
<text x="496.4" y="235.8" font-size="14.5" font-weight="bold" text-anchor="middle">*</text>
<text x="439.2" y="295.3" font-size="9.2" fill="#111">WT</text>
<text x="460.5" y="295.3" font-size="9.2" fill="#111">TF<tspan font-size="5.8" dy="-3.6">ΔCT</tspan></text>
<text x="489.3" y="295.3" font-size="9.2" fill="#111">TF<tspan font-size="5.8" dy="-3.6">ΔCT</tspan><tspan dy="3.6">/</tspan></text>
<text x="486.1" y="303.5" font-size="9.2" fill="#111">PAR2-/-</text>
</svg>
</body></html>
